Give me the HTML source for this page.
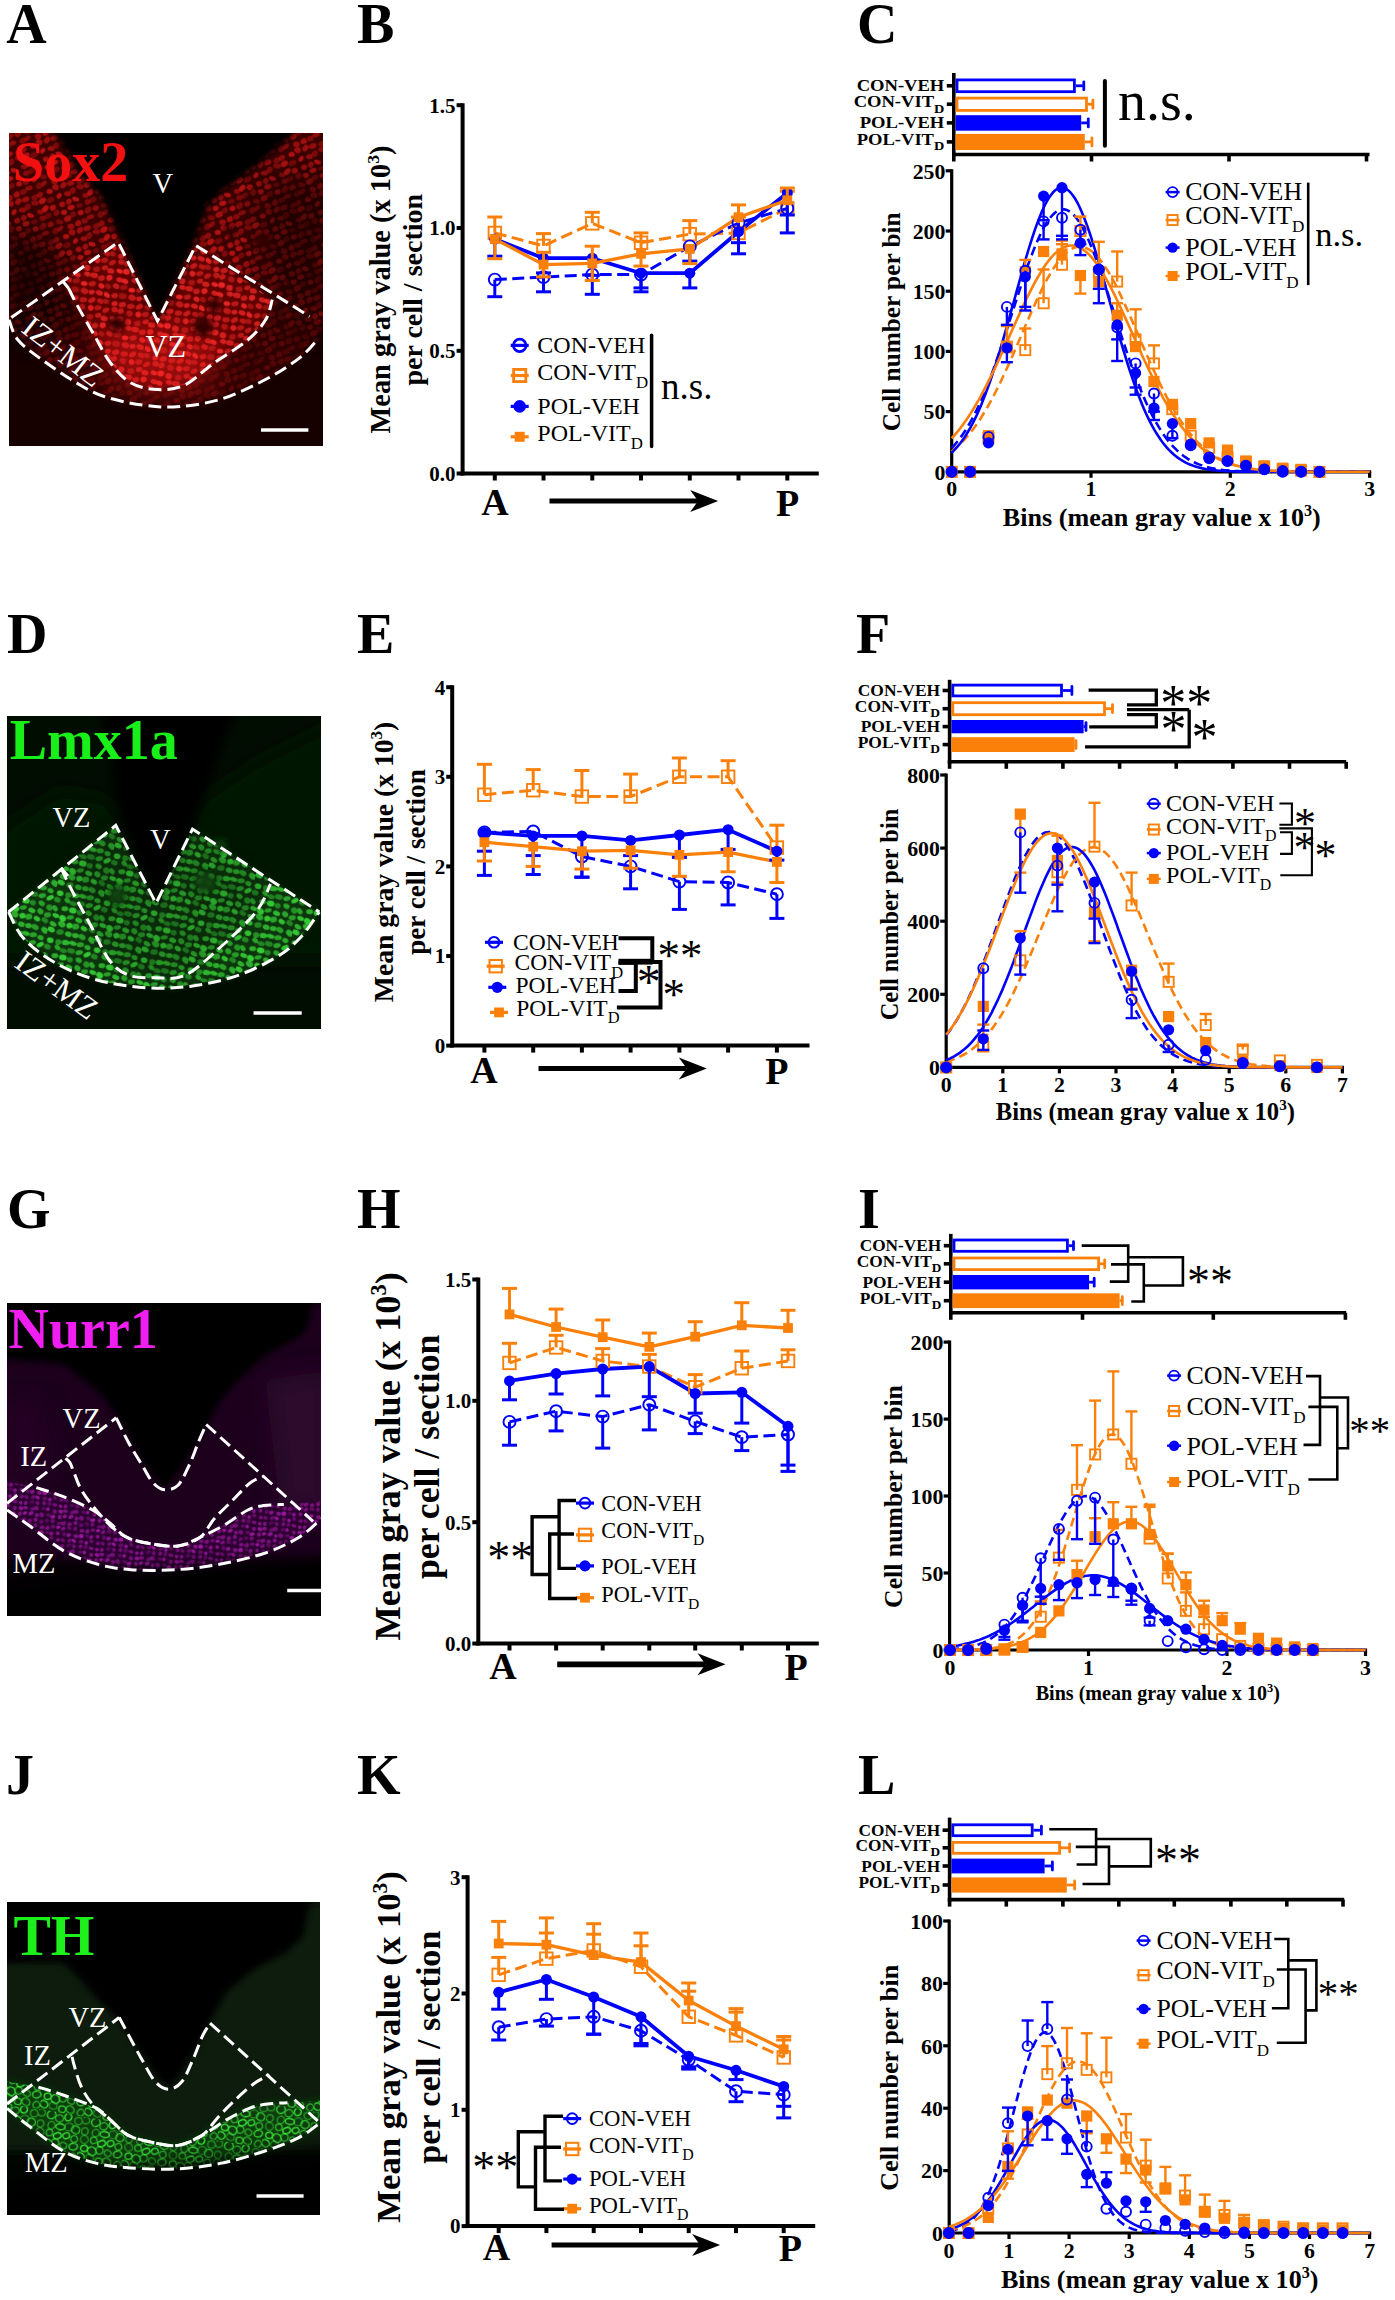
<!DOCTYPE html>
<html><head><meta charset="utf-8"><title>Figure</title>
<style>html,body{margin:0;padding:0;background:#fff;} svg{display:block;} text{font-family:'Liberation Serif', serif;}</style>
</head><body>
<svg xmlns="http://www.w3.org/2000/svg" width="1395" height="2300" viewBox="0 0 1395 2300">
<defs><filter id="b1" x="-20%" y="-20%" width="140%" height="140%"><feGaussianBlur stdDeviation="1"/></filter><filter id="b2" x="-20%" y="-20%" width="140%" height="140%"><feGaussianBlur stdDeviation="2"/></filter><filter id="b3" x="-20%" y="-20%" width="140%" height="140%"><feGaussianBlur stdDeviation="3"/></filter><filter id="b4" x="-20%" y="-20%" width="140%" height="140%"><feGaussianBlur stdDeviation="4"/></filter><filter id="b5" x="-20%" y="-20%" width="140%" height="140%"><feGaussianBlur stdDeviation="5"/></filter><filter id="b6" x="-20%" y="-20%" width="140%" height="140%"><feGaussianBlur stdDeviation="6"/></filter><filter id="b7" x="-20%" y="-20%" width="140%" height="140%"><feGaussianBlur stdDeviation="7"/></filter><filter id="b8" x="-20%" y="-20%" width="140%" height="140%"><feGaussianBlur stdDeviation="8"/></filter><filter id="b9" x="-20%" y="-20%" width="140%" height="140%"><feGaussianBlur stdDeviation="9"/></filter><filter id="b10" x="-20%" y="-20%" width="140%" height="140%"><feGaussianBlur stdDeviation="10"/></filter><filter id="b11" x="-20%" y="-20%" width="140%" height="140%"><feGaussianBlur stdDeviation="11"/></filter><filter id="b12" x="-20%" y="-20%" width="140%" height="140%"><feGaussianBlur stdDeviation="12"/></filter><filter id="b13" x="-20%" y="-20%" width="140%" height="140%"><feGaussianBlur stdDeviation="13"/></filter><filter id="b14" x="-20%" y="-20%" width="140%" height="140%"><feGaussianBlur stdDeviation="14"/></filter><filter id="b15" x="-20%" y="-20%" width="140%" height="140%"><feGaussianBlur stdDeviation="15"/></filter><filter id="b16" x="-20%" y="-20%" width="140%" height="140%"><feGaussianBlur stdDeviation="16"/></filter><filter id="b17" x="-20%" y="-20%" width="140%" height="140%"><feGaussianBlur stdDeviation="17"/></filter><filter id="b18" x="-20%" y="-20%" width="140%" height="140%"><feGaussianBlur stdDeviation="18"/></filter><filter id="b19" x="-20%" y="-20%" width="140%" height="140%"><feGaussianBlur stdDeviation="19"/></filter><filter id="b20" x="-20%" y="-20%" width="140%" height="140%"><feGaussianBlur stdDeviation="20"/></filter><filter id="cells" x="0" y="0" width="100%" height="100%">
<feTurbulence type="fractalNoise" baseFrequency="0.22" numOctaves="1" seed="3" result="n"/>
<feColorMatrix in="n" type="matrix" values="0 0 0 0 0  0 0 0 0 0  0 0 0 0 0  0 0 0 -2.2 1.25" result="a"/>
<feComposite in="SourceGraphic" in2="a" operator="in"/>
</filter><pattern id="cellA1" patternUnits="userSpaceOnUse" width="48" height="48" patternTransform="rotate(-20)"><ellipse cx="3.9" cy="4.2" rx="3.9" ry="2.6" transform="rotate(1 3.9 4.2)" fill="#c41414" opacity="0.67"/><ellipse cx="3.1" cy="12.0" rx="3.6" ry="2.8" transform="rotate(-28 3.1 12.0)" fill="#c41414" opacity="0.52"/><ellipse cx="2.8" cy="20.9" rx="3.7" ry="2.2" transform="rotate(34 2.8 20.9)" fill="#c41414" opacity="0.88"/><ellipse cx="4.4" cy="28.3" rx="3.2" ry="2.2" transform="rotate(2 4.4 28.3)" fill="#c41414" opacity="0.38"/><ellipse cx="3.1" cy="35.3" rx="3.0" ry="2.6" transform="rotate(-4 3.1 35.3)" fill="#c41414" opacity="0.81"/><ellipse cx="4.1" cy="44.4" rx="3.5" ry="2.7" transform="rotate(-3 4.1 44.4)" fill="#c41414" opacity="0.50"/><ellipse cx="13.4" cy="5.4" rx="3.8" ry="2.8" transform="rotate(-13 13.4 5.4)" fill="#c41414" opacity="0.48"/><ellipse cx="11.4" cy="10.8" rx="3.8" ry="2.5" transform="rotate(24 11.4 10.8)" fill="#c41414" opacity="0.56"/><ellipse cx="13.3" cy="21.0" rx="3.0" ry="2.4" transform="rotate(29 13.3 21.0)" fill="#c41414" opacity="0.61"/><ellipse cx="13.4" cy="27.7" rx="3.1" ry="2.7" transform="rotate(19 13.4 27.7)" fill="#c41414" opacity="0.50"/><ellipse cx="10.8" cy="35.5" rx="4.0" ry="2.8" transform="rotate(-27 10.8 35.5)" fill="#c41414" opacity="0.49"/><ellipse cx="10.9" cy="42.7" rx="3.8" ry="2.3" transform="rotate(4 10.9 42.7)" fill="#c41414" opacity="0.60"/><ellipse cx="19.1" cy="4.7" rx="3.1" ry="2.7" transform="rotate(-27 19.1 4.7)" fill="#c41414" opacity="0.58"/><ellipse cx="19.2" cy="11.3" rx="4.0" ry="2.8" transform="rotate(-14 19.2 11.3)" fill="#c41414" opacity="0.84"/><ellipse cx="19.2" cy="19.7" rx="3.9" ry="2.7" transform="rotate(-28 19.2 19.7)" fill="#c41414" opacity="0.89"/><ellipse cx="19.2" cy="27.3" rx="3.8" ry="2.5" transform="rotate(-14 19.2 27.3)" fill="#c41414" opacity="0.39"/><ellipse cx="18.8" cy="36.2" rx="3.2" ry="2.7" transform="rotate(-9 18.8 36.2)" fill="#c41414" opacity="0.60"/><ellipse cx="21.3" cy="44.0" rx="3.6" ry="2.9" transform="rotate(-22 21.3 44.0)" fill="#c41414" opacity="0.43"/><ellipse cx="29.2" cy="4.9" rx="3.2" ry="2.4" transform="rotate(17 29.2 4.9)" fill="#c41414" opacity="0.87"/><ellipse cx="27.1" cy="13.3" rx="3.9" ry="2.7" transform="rotate(-5 27.1 13.3)" fill="#c41414" opacity="0.41"/><ellipse cx="26.7" cy="21.3" rx="3.2" ry="2.8" transform="rotate(-17 26.7 21.3)" fill="#c41414" opacity="0.80"/><ellipse cx="28.3" cy="27.4" rx="3.2" ry="2.8" transform="rotate(-30 28.3 27.4)" fill="#c41414" opacity="0.48"/><ellipse cx="28.2" cy="37.0" rx="3.6" ry="2.4" transform="rotate(29 28.2 37.0)" fill="#c41414" opacity="0.46"/><ellipse cx="26.6" cy="43.3" rx="3.4" ry="2.2" transform="rotate(-23 26.6 43.3)" fill="#c41414" opacity="0.55"/><ellipse cx="36.2" cy="2.9" rx="3.4" ry="2.9" transform="rotate(34 36.2 2.9)" fill="#c41414" opacity="0.71"/><ellipse cx="36.6" cy="12.2" rx="3.1" ry="2.2" transform="rotate(-34 36.6 12.2)" fill="#c41414" opacity="0.85"/><ellipse cx="36.6" cy="21.3" rx="3.0" ry="2.7" transform="rotate(-1 36.6 21.3)" fill="#c41414" opacity="0.75"/><ellipse cx="35.5" cy="29.4" rx="3.1" ry="2.6" transform="rotate(17 35.5 29.4)" fill="#c41414" opacity="0.85"/><ellipse cx="36.7" cy="36.6" rx="3.8" ry="2.9" transform="rotate(-10 36.7 36.6)" fill="#c41414" opacity="0.73"/><ellipse cx="37.2" cy="45.1" rx="3.4" ry="2.8" transform="rotate(25 37.2 45.1)" fill="#c41414" opacity="0.67"/><ellipse cx="44.4" cy="3.7" rx="3.6" ry="2.7" transform="rotate(-29 44.4 3.7)" fill="#c41414" opacity="0.70"/><ellipse cx="45.4" cy="13.1" rx="3.7" ry="2.5" transform="rotate(16 45.4 13.1)" fill="#c41414" opacity="0.67"/><ellipse cx="43.8" cy="21.0" rx="3.1" ry="2.8" transform="rotate(-33 43.8 21.0)" fill="#c41414" opacity="0.68"/><ellipse cx="43.9" cy="27.2" rx="3.7" ry="2.6" transform="rotate(8 43.9 27.2)" fill="#c41414" opacity="0.86"/><ellipse cx="43.3" cy="34.6" rx="3.3" ry="2.7" transform="rotate(-21 43.3 34.6)" fill="#c41414" opacity="0.44"/><ellipse cx="45.2" cy="44.5" rx="3.4" ry="2.9" transform="rotate(-12 45.2 44.5)" fill="#c41414" opacity="0.72"/></pattern><pattern id="cellA2" patternUnits="userSpaceOnUse" width="48" height="48" patternTransform="rotate(8)"><ellipse cx="3.9" cy="4.5" rx="3.7" ry="2.3" transform="rotate(-34 3.9 4.5)" fill="#ff2a2a" opacity="0.66"/><ellipse cx="3.3" cy="12.9" rx="3.7" ry="2.7" transform="rotate(4 3.3 12.9)" fill="#ff2a2a" opacity="0.81"/><ellipse cx="3.0" cy="19.8" rx="3.2" ry="2.9" transform="rotate(-31 3.0 19.8)" fill="#ff2a2a" opacity="0.90"/><ellipse cx="2.8" cy="28.5" rx="3.3" ry="2.5" transform="rotate(24 2.8 28.5)" fill="#ff2a2a" opacity="0.46"/><ellipse cx="2.7" cy="37.2" rx="3.5" ry="2.3" transform="rotate(34 2.7 37.2)" fill="#ff2a2a" opacity="0.97"/><ellipse cx="2.9" cy="43.8" rx="3.1" ry="2.5" transform="rotate(9 2.9 43.8)" fill="#ff2a2a" opacity="0.54"/><ellipse cx="12.6" cy="2.7" rx="3.2" ry="2.9" transform="rotate(-7 12.6 2.7)" fill="#ff2a2a" opacity="0.68"/><ellipse cx="12.3" cy="11.9" rx="3.4" ry="2.2" transform="rotate(16 12.3 11.9)" fill="#ff2a2a" opacity="0.98"/><ellipse cx="13.4" cy="20.5" rx="3.4" ry="2.5" transform="rotate(13 13.4 20.5)" fill="#ff2a2a" opacity="0.82"/><ellipse cx="10.9" cy="27.2" rx="3.4" ry="2.6" transform="rotate(22 10.9 27.2)" fill="#ff2a2a" opacity="0.73"/><ellipse cx="10.6" cy="36.9" rx="3.4" ry="2.6" transform="rotate(-19 10.6 36.9)" fill="#ff2a2a" opacity="0.68"/><ellipse cx="11.7" cy="44.8" rx="3.1" ry="2.6" transform="rotate(-23 11.7 44.8)" fill="#ff2a2a" opacity="0.83"/><ellipse cx="18.7" cy="3.4" rx="3.3" ry="2.7" transform="rotate(-31 18.7 3.4)" fill="#ff2a2a" opacity="0.70"/><ellipse cx="19.2" cy="11.4" rx="3.5" ry="3.0" transform="rotate(-1 19.2 11.4)" fill="#ff2a2a" opacity="0.98"/><ellipse cx="19.0" cy="21.2" rx="3.4" ry="2.4" transform="rotate(17 19.0 21.2)" fill="#ff2a2a" opacity="0.95"/><ellipse cx="18.6" cy="27.3" rx="3.8" ry="2.5" transform="rotate(-18 18.6 27.3)" fill="#ff2a2a" opacity="0.45"/><ellipse cx="18.7" cy="36.3" rx="4.0" ry="3.0" transform="rotate(0 18.7 36.3)" fill="#ff2a2a" opacity="0.46"/><ellipse cx="19.5" cy="44.8" rx="3.8" ry="2.7" transform="rotate(-19 19.5 44.8)" fill="#ff2a2a" opacity="0.74"/><ellipse cx="27.9" cy="4.4" rx="3.3" ry="3.0" transform="rotate(28 27.9 4.4)" fill="#ff2a2a" opacity="0.54"/><ellipse cx="27.4" cy="13.1" rx="3.3" ry="3.0" transform="rotate(1 27.4 13.1)" fill="#ff2a2a" opacity="0.83"/><ellipse cx="28.6" cy="19.2" rx="3.3" ry="2.4" transform="rotate(13 28.6 19.2)" fill="#ff2a2a" opacity="0.83"/><ellipse cx="26.9" cy="29.1" rx="3.4" ry="2.4" transform="rotate(-5 26.9 29.1)" fill="#ff2a2a" opacity="0.99"/><ellipse cx="28.2" cy="36.4" rx="3.9" ry="3.0" transform="rotate(18 28.2 36.4)" fill="#ff2a2a" opacity="0.68"/><ellipse cx="28.3" cy="45.2" rx="3.8" ry="2.7" transform="rotate(-11 28.3 45.2)" fill="#ff2a2a" opacity="0.65"/><ellipse cx="36.7" cy="4.2" rx="3.0" ry="2.8" transform="rotate(28 36.7 4.2)" fill="#ff2a2a" opacity="0.89"/><ellipse cx="37.1" cy="13.2" rx="3.5" ry="2.8" transform="rotate(-8 37.1 13.2)" fill="#ff2a2a" opacity="0.50"/><ellipse cx="35.6" cy="19.5" rx="3.9" ry="2.8" transform="rotate(3 35.6 19.5)" fill="#ff2a2a" opacity="0.79"/><ellipse cx="34.9" cy="28.1" rx="3.7" ry="2.5" transform="rotate(-18 34.9 28.1)" fill="#ff2a2a" opacity="0.67"/><ellipse cx="35.5" cy="36.5" rx="3.1" ry="2.3" transform="rotate(-13 35.5 36.5)" fill="#ff2a2a" opacity="0.83"/><ellipse cx="36.7" cy="44.5" rx="3.9" ry="2.5" transform="rotate(-33 36.7 44.5)" fill="#ff2a2a" opacity="0.72"/><ellipse cx="43.8" cy="3.1" rx="3.7" ry="2.5" transform="rotate(-18 43.8 3.1)" fill="#ff2a2a" opacity="0.63"/><ellipse cx="45.3" cy="10.6" rx="3.4" ry="2.4" transform="rotate(-21 45.3 10.6)" fill="#ff2a2a" opacity="0.69"/><ellipse cx="43.2" cy="21.2" rx="3.5" ry="2.8" transform="rotate(-24 43.2 21.2)" fill="#ff2a2a" opacity="0.71"/><ellipse cx="44.3" cy="29.0" rx="3.2" ry="2.6" transform="rotate(25 44.3 29.0)" fill="#ff2a2a" opacity="0.91"/><ellipse cx="43.2" cy="36.1" rx="3.8" ry="2.5" transform="rotate(12 43.2 36.1)" fill="#ff2a2a" opacity="0.81"/><ellipse cx="45.4" cy="44.2" rx="3.7" ry="2.5" transform="rotate(16 45.4 44.2)" fill="#ff2a2a" opacity="0.63"/></pattern><clipPath id="clipA"><rect x="9" y="133" width="314" height="313"/></clipPath><pattern id="cellD" patternUnits="userSpaceOnUse" width="48" height="48" patternTransform="rotate(12)"><ellipse cx="3.2" cy="4.1" rx="3.4" ry="2.7" transform="rotate(9 3.2 4.1)" fill="#36d236" opacity="0.53"/><ellipse cx="2.6" cy="13.0" rx="3.3" ry="2.4" transform="rotate(35 2.6 13.0)" fill="#36d236" opacity="0.71"/><ellipse cx="5.0" cy="19.9" rx="3.6" ry="2.3" transform="rotate(9 5.0 19.9)" fill="#36d236" opacity="0.89"/><ellipse cx="4.1" cy="28.7" rx="3.7" ry="2.3" transform="rotate(18 4.1 28.7)" fill="#36d236" opacity="0.77"/><ellipse cx="3.4" cy="34.6" rx="3.9" ry="2.6" transform="rotate(15 3.4 34.6)" fill="#36d236" opacity="0.90"/><ellipse cx="4.6" cy="45.2" rx="3.4" ry="2.8" transform="rotate(-4 4.6 45.2)" fill="#36d236" opacity="0.92"/><ellipse cx="13.1" cy="2.8" rx="3.1" ry="2.4" transform="rotate(33 13.1 2.8)" fill="#36d236" opacity="0.70"/><ellipse cx="12.4" cy="11.4" rx="3.5" ry="2.5" transform="rotate(-10 12.4 11.4)" fill="#36d236" opacity="0.76"/><ellipse cx="12.2" cy="21.2" rx="3.7" ry="2.9" transform="rotate(25 12.2 21.2)" fill="#36d236" opacity="0.95"/><ellipse cx="12.5" cy="27.0" rx="3.9" ry="3.0" transform="rotate(28 12.5 27.0)" fill="#36d236" opacity="0.76"/><ellipse cx="12.6" cy="35.2" rx="3.8" ry="2.7" transform="rotate(-15 12.6 35.2)" fill="#36d236" opacity="0.53"/><ellipse cx="13.0" cy="45.4" rx="3.1" ry="2.8" transform="rotate(-6 13.0 45.4)" fill="#36d236" opacity="0.57"/><ellipse cx="19.4" cy="4.8" rx="3.9" ry="2.2" transform="rotate(8 19.4 4.8)" fill="#36d236" opacity="0.52"/><ellipse cx="20.6" cy="11.5" rx="3.9" ry="3.0" transform="rotate(0 20.6 11.5)" fill="#36d236" opacity="0.95"/><ellipse cx="19.5" cy="18.8" rx="3.6" ry="2.2" transform="rotate(-21 19.5 18.8)" fill="#36d236" opacity="0.68"/><ellipse cx="20.3" cy="27.0" rx="3.0" ry="2.9" transform="rotate(-13 20.3 27.0)" fill="#36d236" opacity="0.93"/><ellipse cx="21.1" cy="35.6" rx="3.5" ry="2.6" transform="rotate(10 21.1 35.6)" fill="#36d236" opacity="0.77"/><ellipse cx="20.2" cy="44.3" rx="3.9" ry="2.6" transform="rotate(-5 20.2 44.3)" fill="#36d236" opacity="0.82"/><ellipse cx="27.2" cy="3.4" rx="4.0" ry="2.6" transform="rotate(3 27.2 3.4)" fill="#36d236" opacity="0.51"/><ellipse cx="27.8" cy="12.2" rx="3.0" ry="2.7" transform="rotate(9 27.8 12.2)" fill="#36d236" opacity="0.53"/><ellipse cx="28.4" cy="19.9" rx="3.7" ry="2.5" transform="rotate(14 28.4 19.9)" fill="#36d236" opacity="0.83"/><ellipse cx="26.6" cy="26.7" rx="3.7" ry="3.0" transform="rotate(-17 26.6 26.7)" fill="#36d236" opacity="0.71"/><ellipse cx="28.3" cy="35.5" rx="3.4" ry="2.5" transform="rotate(-9 28.3 35.5)" fill="#36d236" opacity="0.77"/><ellipse cx="27.4" cy="43.6" rx="3.8" ry="2.2" transform="rotate(5 27.4 43.6)" fill="#36d236" opacity="0.83"/><ellipse cx="35.5" cy="3.2" rx="3.8" ry="2.4" transform="rotate(-22 35.5 3.2)" fill="#36d236" opacity="0.70"/><ellipse cx="36.6" cy="10.9" rx="3.3" ry="2.5" transform="rotate(23 36.6 10.9)" fill="#36d236" opacity="0.70"/><ellipse cx="37.0" cy="19.0" rx="3.3" ry="2.7" transform="rotate(27 37.0 19.0)" fill="#36d236" opacity="0.70"/><ellipse cx="35.2" cy="26.9" rx="3.5" ry="2.4" transform="rotate(21 35.2 26.9)" fill="#36d236" opacity="0.88"/><ellipse cx="35.1" cy="35.4" rx="3.8" ry="2.7" transform="rotate(21 35.1 35.4)" fill="#36d236" opacity="0.66"/><ellipse cx="34.9" cy="43.4" rx="3.8" ry="2.4" transform="rotate(-11 34.9 43.4)" fill="#36d236" opacity="0.69"/><ellipse cx="43.8" cy="3.7" rx="3.9" ry="2.3" transform="rotate(-35 43.8 3.7)" fill="#36d236" opacity="0.92"/><ellipse cx="45.1" cy="13.4" rx="3.4" ry="3.0" transform="rotate(30 45.1 13.4)" fill="#36d236" opacity="0.60"/><ellipse cx="44.7" cy="21.0" rx="3.7" ry="2.6" transform="rotate(-15 44.7 21.0)" fill="#36d236" opacity="0.65"/><ellipse cx="43.2" cy="26.8" rx="3.6" ry="2.4" transform="rotate(22 43.2 26.8)" fill="#36d236" opacity="0.52"/><ellipse cx="45.2" cy="36.6" rx="3.9" ry="2.9" transform="rotate(28 45.2 36.6)" fill="#36d236" opacity="0.76"/><ellipse cx="42.6" cy="44.7" rx="3.2" ry="2.4" transform="rotate(11 42.6 44.7)" fill="#36d236" opacity="0.74"/></pattern><clipPath id="clipD"><rect x="7" y="716" width="314" height="313"/></clipPath><pattern id="cellG" patternUnits="userSpaceOnUse" width="40" height="40" patternTransform="rotate(5)"><ellipse cx="2.2" cy="3.2" rx="2.3" ry="1.8" transform="rotate(-20 2.2 3.2)" fill="#b01cb4" opacity="0.78"/><ellipse cx="3.5" cy="8.6" rx="2.2" ry="1.7" transform="rotate(-35 3.5 8.6)" fill="#b01cb4" opacity="0.52"/><ellipse cx="3.0" cy="13.4" rx="2.4" ry="1.7" transform="rotate(-19 3.0 13.4)" fill="#b01cb4" opacity="0.33"/><ellipse cx="3.9" cy="20.5" rx="2.5" ry="1.9" transform="rotate(-33 3.9 20.5)" fill="#b01cb4" opacity="0.50"/><ellipse cx="2.9" cy="24.9" rx="2.6" ry="1.8" transform="rotate(-24 2.9 24.9)" fill="#b01cb4" opacity="0.79"/><ellipse cx="2.1" cy="32.3" rx="2.2" ry="1.9" transform="rotate(-11 2.1 32.3)" fill="#b01cb4" opacity="0.59"/><ellipse cx="2.2" cy="36.2" rx="2.5" ry="1.7" transform="rotate(20 2.2 36.2)" fill="#b01cb4" opacity="0.43"/><ellipse cx="9.5" cy="3.7" rx="2.4" ry="2.0" transform="rotate(6 9.5 3.7)" fill="#b01cb4" opacity="0.74"/><ellipse cx="7.8" cy="8.5" rx="2.5" ry="1.6" transform="rotate(30 7.8 8.5)" fill="#b01cb4" opacity="0.83"/><ellipse cx="8.4" cy="14.0" rx="2.2" ry="1.8" transform="rotate(35 8.4 14.0)" fill="#b01cb4" opacity="0.53"/><ellipse cx="7.6" cy="19.2" rx="2.4" ry="2.2" transform="rotate(-0 7.6 19.2)" fill="#b01cb4" opacity="0.59"/><ellipse cx="8.7" cy="26.2" rx="2.0" ry="1.9" transform="rotate(4 8.7 26.2)" fill="#b01cb4" opacity="0.67"/><ellipse cx="7.9" cy="30.7" rx="2.1" ry="2.1" transform="rotate(-11 7.9 30.7)" fill="#b01cb4" opacity="0.66"/><ellipse cx="8.2" cy="36.3" rx="1.9" ry="2.1" transform="rotate(19 8.2 36.3)" fill="#b01cb4" opacity="0.52"/><ellipse cx="14.7" cy="3.2" rx="2.5" ry="2.2" transform="rotate(-7 14.7 3.2)" fill="#b01cb4" opacity="0.89"/><ellipse cx="15.2" cy="8.8" rx="2.5" ry="1.8" transform="rotate(-9 15.2 8.8)" fill="#b01cb4" opacity="0.45"/><ellipse cx="15.1" cy="13.6" rx="1.9" ry="2.1" transform="rotate(19 15.1 13.6)" fill="#b01cb4" opacity="0.59"/><ellipse cx="15.0" cy="19.1" rx="2.0" ry="1.7" transform="rotate(-6 15.0 19.1)" fill="#b01cb4" opacity="0.40"/><ellipse cx="13.4" cy="25.4" rx="2.5" ry="2.2" transform="rotate(17 13.4 25.4)" fill="#b01cb4" opacity="0.59"/><ellipse cx="13.8" cy="32.4" rx="2.2" ry="2.0" transform="rotate(-33 13.8 32.4)" fill="#b01cb4" opacity="0.43"/><ellipse cx="15.0" cy="37.8" rx="2.5" ry="1.9" transform="rotate(-5 15.0 37.8)" fill="#b01cb4" opacity="0.65"/><ellipse cx="20.7" cy="2.5" rx="2.2" ry="1.7" transform="rotate(19 20.7 2.5)" fill="#b01cb4" opacity="0.31"/><ellipse cx="20.4" cy="9.5" rx="1.8" ry="1.9" transform="rotate(10 20.4 9.5)" fill="#b01cb4" opacity="0.81"/><ellipse cx="20.2" cy="13.8" rx="2.1" ry="2.2" transform="rotate(28 20.2 13.8)" fill="#b01cb4" opacity="0.38"/><ellipse cx="19.2" cy="19.2" rx="1.8" ry="1.8" transform="rotate(-25 19.2 19.2)" fill="#b01cb4" opacity="0.82"/><ellipse cx="20.3" cy="24.9" rx="2.2" ry="1.7" transform="rotate(-0 20.3 24.9)" fill="#b01cb4" opacity="0.43"/><ellipse cx="19.3" cy="30.8" rx="2.1" ry="2.0" transform="rotate(4 19.3 30.8)" fill="#b01cb4" opacity="0.33"/><ellipse cx="20.4" cy="37.9" rx="2.4" ry="2.1" transform="rotate(-34 20.4 37.9)" fill="#b01cb4" opacity="0.58"/><ellipse cx="24.8" cy="3.4" rx="1.9" ry="2.0" transform="rotate(-17 24.8 3.4)" fill="#b01cb4" opacity="0.72"/><ellipse cx="25.3" cy="7.6" rx="2.1" ry="1.7" transform="rotate(28 25.3 7.6)" fill="#b01cb4" opacity="0.48"/><ellipse cx="25.7" cy="14.4" rx="2.6" ry="1.6" transform="rotate(7 25.7 14.4)" fill="#b01cb4" opacity="0.60"/><ellipse cx="26.2" cy="21.0" rx="2.0" ry="2.0" transform="rotate(2 26.2 21.0)" fill="#b01cb4" opacity="0.64"/><ellipse cx="24.8" cy="26.4" rx="2.6" ry="1.7" transform="rotate(-13 24.8 26.4)" fill="#b01cb4" opacity="0.90"/><ellipse cx="24.9" cy="30.6" rx="1.9" ry="2.1" transform="rotate(18 24.9 30.6)" fill="#b01cb4" opacity="0.57"/><ellipse cx="26.0" cy="36.2" rx="2.3" ry="1.8" transform="rotate(1 26.0 36.2)" fill="#b01cb4" opacity="0.53"/><ellipse cx="31.2" cy="2.3" rx="1.8" ry="1.8" transform="rotate(-18 31.2 2.3)" fill="#b01cb4" opacity="0.72"/><ellipse cx="32.1" cy="9.0" rx="2.2" ry="1.7" transform="rotate(-8 32.1 9.0)" fill="#b01cb4" opacity="0.59"/><ellipse cx="31.7" cy="15.2" rx="1.9" ry="1.8" transform="rotate(-1 31.7 15.2)" fill="#b01cb4" opacity="0.73"/><ellipse cx="32.2" cy="20.6" rx="2.3" ry="2.0" transform="rotate(12 32.2 20.6)" fill="#b01cb4" opacity="0.82"/><ellipse cx="31.8" cy="26.1" rx="2.0" ry="2.1" transform="rotate(-8 31.8 26.1)" fill="#b01cb4" opacity="0.67"/><ellipse cx="32.1" cy="32.4" rx="2.6" ry="1.5" transform="rotate(-13 32.1 32.4)" fill="#b01cb4" opacity="0.49"/><ellipse cx="31.2" cy="36.4" rx="2.2" ry="1.6" transform="rotate(-14 31.2 36.4)" fill="#b01cb4" opacity="0.87"/><ellipse cx="37.6" cy="2.8" rx="1.9" ry="2.2" transform="rotate(14 37.6 2.8)" fill="#b01cb4" opacity="0.42"/><ellipse cx="36.8" cy="8.9" rx="2.3" ry="1.7" transform="rotate(32 36.8 8.9)" fill="#b01cb4" opacity="0.49"/><ellipse cx="36.6" cy="15.0" rx="1.9" ry="2.0" transform="rotate(-21 36.6 15.0)" fill="#b01cb4" opacity="0.66"/><ellipse cx="36.7" cy="19.8" rx="2.6" ry="1.8" transform="rotate(-4 36.7 19.8)" fill="#b01cb4" opacity="0.67"/><ellipse cx="36.7" cy="25.0" rx="2.1" ry="1.7" transform="rotate(-22 36.7 25.0)" fill="#b01cb4" opacity="0.88"/><ellipse cx="36.2" cy="32.1" rx="2.5" ry="2.0" transform="rotate(-34 36.2 32.1)" fill="#b01cb4" opacity="0.60"/><ellipse cx="36.2" cy="37.4" rx="2.4" ry="1.7" transform="rotate(-34 36.2 37.4)" fill="#b01cb4" opacity="0.63"/></pattern><pattern id="cellG2" patternUnits="userSpaceOnUse" width="40" height="40" patternTransform="rotate(-30)"><ellipse cx="3.8" cy="2.1" rx="1.6" ry="1.8" transform="rotate(-22 3.8 2.1)" fill="#7a127c" opacity="0.27"/><ellipse cx="3.2" cy="8.3" rx="2.3" ry="1.3" transform="rotate(32 3.2 8.3)" fill="#7a127c" opacity="0.39"/><ellipse cx="3.1" cy="15.2" rx="2.1" ry="1.8" transform="rotate(15 3.1 15.2)" fill="#7a127c" opacity="0.23"/><ellipse cx="3.6" cy="20.2" rx="1.8" ry="1.3" transform="rotate(24 3.6 20.2)" fill="#7a127c" opacity="0.55"/><ellipse cx="3.8" cy="26.3" rx="2.4" ry="1.5" transform="rotate(14 3.8 26.3)" fill="#7a127c" opacity="0.57"/><ellipse cx="2.4" cy="32.4" rx="1.8" ry="1.7" transform="rotate(32 2.4 32.4)" fill="#7a127c" opacity="0.59"/><ellipse cx="2.1" cy="37.8" rx="2.1" ry="1.3" transform="rotate(-32 2.1 37.8)" fill="#7a127c" opacity="0.52"/><ellipse cx="7.6" cy="3.7" rx="2.0" ry="1.5" transform="rotate(-6 7.6 3.7)" fill="#7a127c" opacity="0.60"/><ellipse cx="9.4" cy="8.2" rx="1.9" ry="1.5" transform="rotate(-14 9.4 8.2)" fill="#7a127c" opacity="0.56"/><ellipse cx="8.7" cy="14.1" rx="2.1" ry="1.5" transform="rotate(-29 8.7 14.1)" fill="#7a127c" opacity="0.80"/><ellipse cx="8.3" cy="19.9" rx="1.9" ry="1.8" transform="rotate(32 8.3 19.9)" fill="#7a127c" opacity="0.51"/><ellipse cx="8.4" cy="24.9" rx="2.3" ry="1.3" transform="rotate(3 8.4 24.9)" fill="#7a127c" opacity="0.41"/><ellipse cx="8.2" cy="31.1" rx="1.8" ry="1.2" transform="rotate(2 8.2 31.1)" fill="#7a127c" opacity="0.68"/><ellipse cx="8.9" cy="36.5" rx="2.2" ry="1.2" transform="rotate(-6 8.9 36.5)" fill="#7a127c" opacity="0.70"/><ellipse cx="15.2" cy="2.8" rx="2.3" ry="1.5" transform="rotate(2 15.2 2.8)" fill="#7a127c" opacity="0.55"/><ellipse cx="15.3" cy="9.1" rx="2.0" ry="1.6" transform="rotate(10 15.3 9.1)" fill="#7a127c" opacity="0.41"/><ellipse cx="14.9" cy="14.9" rx="2.1" ry="1.8" transform="rotate(-34 14.9 14.9)" fill="#7a127c" opacity="0.50"/><ellipse cx="14.6" cy="19.7" rx="1.7" ry="1.6" transform="rotate(-5 14.6 19.7)" fill="#7a127c" opacity="0.36"/><ellipse cx="13.3" cy="26.7" rx="1.9" ry="1.3" transform="rotate(-20 13.3 26.7)" fill="#7a127c" opacity="0.35"/><ellipse cx="15.0" cy="30.8" rx="1.8" ry="1.3" transform="rotate(-2 15.0 30.8)" fill="#7a127c" opacity="0.32"/><ellipse cx="14.0" cy="37.6" rx="2.3" ry="1.7" transform="rotate(-32 14.0 37.6)" fill="#7a127c" opacity="0.43"/><ellipse cx="20.7" cy="1.9" rx="1.8" ry="1.5" transform="rotate(-8 20.7 1.9)" fill="#7a127c" opacity="0.65"/><ellipse cx="20.4" cy="8.5" rx="1.8" ry="1.3" transform="rotate(-16 20.4 8.5)" fill="#7a127c" opacity="0.24"/><ellipse cx="20.3" cy="13.6" rx="2.3" ry="1.6" transform="rotate(-31 20.3 13.6)" fill="#7a127c" opacity="0.50"/><ellipse cx="20.2" cy="19.1" rx="2.0" ry="1.2" transform="rotate(19 20.2 19.1)" fill="#7a127c" opacity="0.20"/><ellipse cx="20.3" cy="26.7" rx="2.3" ry="1.3" transform="rotate(2 20.3 26.7)" fill="#7a127c" opacity="0.28"/><ellipse cx="19.7" cy="32.2" rx="2.3" ry="1.2" transform="rotate(-8 19.7 32.2)" fill="#7a127c" opacity="0.58"/><ellipse cx="19.3" cy="37.8" rx="2.3" ry="1.5" transform="rotate(-10 19.3 37.8)" fill="#7a127c" opacity="0.71"/><ellipse cx="25.7" cy="2.2" rx="1.8" ry="1.3" transform="rotate(24 25.7 2.2)" fill="#7a127c" opacity="0.51"/><ellipse cx="26.1" cy="9.2" rx="2.4" ry="1.3" transform="rotate(-7 26.1 9.2)" fill="#7a127c" opacity="0.72"/><ellipse cx="26.3" cy="14.1" rx="2.1" ry="1.3" transform="rotate(-24 26.3 14.1)" fill="#7a127c" opacity="0.23"/><ellipse cx="25.5" cy="19.5" rx="2.0" ry="1.8" transform="rotate(-24 25.5 19.5)" fill="#7a127c" opacity="0.53"/><ellipse cx="26.5" cy="25.9" rx="2.0" ry="1.7" transform="rotate(-33 26.5 25.9)" fill="#7a127c" opacity="0.77"/><ellipse cx="26.1" cy="32.1" rx="2.3" ry="1.3" transform="rotate(-30 26.1 32.1)" fill="#7a127c" opacity="0.31"/><ellipse cx="25.7" cy="38.0" rx="2.3" ry="1.4" transform="rotate(9 25.7 38.0)" fill="#7a127c" opacity="0.64"/><ellipse cx="31.1" cy="3.8" rx="2.4" ry="1.6" transform="rotate(28 31.1 3.8)" fill="#7a127c" opacity="0.68"/><ellipse cx="31.7" cy="8.2" rx="1.8" ry="1.3" transform="rotate(-31 31.7 8.2)" fill="#7a127c" opacity="0.76"/><ellipse cx="31.0" cy="13.3" rx="1.9" ry="1.3" transform="rotate(-4 31.0 13.3)" fill="#7a127c" opacity="0.40"/><ellipse cx="30.8" cy="20.0" rx="1.9" ry="1.4" transform="rotate(22 30.8 20.0)" fill="#7a127c" opacity="0.38"/><ellipse cx="31.5" cy="26.5" rx="2.4" ry="1.4" transform="rotate(-32 31.5 26.5)" fill="#7a127c" opacity="0.77"/><ellipse cx="31.5" cy="30.8" rx="1.7" ry="1.3" transform="rotate(-13 31.5 30.8)" fill="#7a127c" opacity="0.28"/><ellipse cx="30.5" cy="38.2" rx="2.3" ry="1.3" transform="rotate(-1 30.5 38.2)" fill="#7a127c" opacity="0.68"/><ellipse cx="37.2" cy="2.0" rx="1.9" ry="1.4" transform="rotate(29 37.2 2.0)" fill="#7a127c" opacity="0.55"/><ellipse cx="37.1" cy="8.8" rx="1.6" ry="1.6" transform="rotate(22 37.1 8.8)" fill="#7a127c" opacity="0.60"/><ellipse cx="36.9" cy="13.8" rx="1.6" ry="1.2" transform="rotate(-24 36.9 13.8)" fill="#7a127c" opacity="0.47"/><ellipse cx="37.7" cy="19.4" rx="2.0" ry="1.6" transform="rotate(9 37.7 19.4)" fill="#7a127c" opacity="0.21"/><ellipse cx="38.0" cy="25.9" rx="1.8" ry="1.3" transform="rotate(13 38.0 25.9)" fill="#7a127c" opacity="0.76"/><ellipse cx="36.8" cy="31.2" rx="2.0" ry="1.3" transform="rotate(-7 36.8 31.2)" fill="#7a127c" opacity="0.75"/><ellipse cx="37.3" cy="37.8" rx="1.8" ry="1.7" transform="rotate(20 37.3 37.8)" fill="#7a127c" opacity="0.34"/></pattern><clipPath id="clipG"><rect x="7" y="1303" width="314" height="313"/></clipPath><pattern id="cellJ" patternUnits="userSpaceOnUse" width="45" height="45" patternTransform="rotate(10)"><ellipse cx="2.9" cy="3.2" rx="3.7" ry="3.6" transform="rotate(-25 2.9 3.2)" fill="none" stroke="#3cf03c" stroke-width="1.3" opacity="0.51"/><ellipse cx="3.6" cy="14.3" rx="3.4" ry="3.7" transform="rotate(11 3.6 14.3)" fill="none" stroke="#3cf03c" stroke-width="1.3" opacity="0.53"/><ellipse cx="4.6" cy="22.3" rx="3.8" ry="4.0" transform="rotate(-28 4.6 22.3)" fill="none" stroke="#3cf03c" stroke-width="1.3" opacity="0.46"/><ellipse cx="5.9" cy="31.2" rx="3.5" ry="3.2" transform="rotate(-9 5.9 31.2)" fill="none" stroke="#3cf03c" stroke-width="1.3" opacity="0.98"/><ellipse cx="3.6" cy="39.6" rx="4.0" ry="3.5" transform="rotate(32 3.6 39.6)" fill="none" stroke="#3cf03c" stroke-width="1.3" opacity="0.91"/><ellipse cx="13.0" cy="3.5" rx="4.4" ry="4.0" transform="rotate(-33 13.0 3.5)" fill="none" stroke="#3cf03c" stroke-width="1.3" opacity="0.85"/><ellipse cx="14.7" cy="14.0" rx="3.5" ry="3.8" transform="rotate(16 14.7 14.0)" fill="none" stroke="#3cf03c" stroke-width="1.3" opacity="0.56"/><ellipse cx="14.0" cy="21.6" rx="3.3" ry="3.2" transform="rotate(-12 14.0 21.6)" fill="none" stroke="#3cf03c" stroke-width="1.3" opacity="0.67"/><ellipse cx="14.0" cy="32.6" rx="4.5" ry="4.0" transform="rotate(35 14.0 32.6)" fill="none" stroke="#3cf03c" stroke-width="1.3" opacity="0.88"/><ellipse cx="12.9" cy="39.5" rx="4.1" ry="3.5" transform="rotate(12 12.9 39.5)" fill="none" stroke="#3cf03c" stroke-width="1.3" opacity="0.50"/><ellipse cx="21.5" cy="5.9" rx="4.0" ry="3.6" transform="rotate(-28 21.5 5.9)" fill="none" stroke="#3cf03c" stroke-width="1.3" opacity="0.67"/><ellipse cx="23.8" cy="14.0" rx="4.6" ry="3.0" transform="rotate(-3 23.8 14.0)" fill="none" stroke="#3cf03c" stroke-width="1.3" opacity="0.89"/><ellipse cx="22.3" cy="23.4" rx="4.0" ry="2.9" transform="rotate(-28 22.3 23.4)" fill="none" stroke="#3cf03c" stroke-width="1.3" opacity="0.99"/><ellipse cx="21.3" cy="30.5" rx="3.7" ry="3.7" transform="rotate(25 21.3 30.5)" fill="none" stroke="#3cf03c" stroke-width="1.3" opacity="0.71"/><ellipse cx="22.5" cy="41.4" rx="3.6" ry="3.2" transform="rotate(8 22.5 41.4)" fill="none" stroke="#3cf03c" stroke-width="1.3" opacity="0.80"/><ellipse cx="30.0" cy="3.2" rx="3.4" ry="3.7" transform="rotate(14 30.0 3.2)" fill="none" stroke="#3cf03c" stroke-width="1.3" opacity="0.99"/><ellipse cx="32.4" cy="12.7" rx="4.3" ry="4.0" transform="rotate(-11 32.4 12.7)" fill="none" stroke="#3cf03c" stroke-width="1.3" opacity="0.46"/><ellipse cx="31.1" cy="21.8" rx="3.4" ry="2.9" transform="rotate(-26 31.1 21.8)" fill="none" stroke="#3cf03c" stroke-width="1.3" opacity="0.93"/><ellipse cx="30.0" cy="31.9" rx="3.5" ry="3.0" transform="rotate(22 30.0 31.9)" fill="none" stroke="#3cf03c" stroke-width="1.3" opacity="0.61"/><ellipse cx="30.5" cy="40.4" rx="4.2" ry="3.4" transform="rotate(25 30.5 40.4)" fill="none" stroke="#3cf03c" stroke-width="1.3" opacity="0.67"/><ellipse cx="40.6" cy="5.2" rx="3.8" ry="3.7" transform="rotate(-2 40.6 5.2)" fill="none" stroke="#3cf03c" stroke-width="1.3" opacity="0.52"/><ellipse cx="39.3" cy="14.4" rx="4.2" ry="3.9" transform="rotate(13 39.3 14.4)" fill="none" stroke="#3cf03c" stroke-width="1.3" opacity="0.77"/><ellipse cx="39.4" cy="23.6" rx="3.4" ry="3.3" transform="rotate(-25 39.4 23.6)" fill="none" stroke="#3cf03c" stroke-width="1.3" opacity="0.66"/><ellipse cx="39.9" cy="31.3" rx="4.2" ry="3.4" transform="rotate(-18 39.9 31.3)" fill="none" stroke="#3cf03c" stroke-width="1.3" opacity="0.88"/><ellipse cx="41.3" cy="41.6" rx="3.2" ry="3.5" transform="rotate(28 41.3 41.6)" fill="none" stroke="#3cf03c" stroke-width="1.3" opacity="0.59"/></pattern><clipPath id="clipJ"><rect x="7" y="1902" width="313" height="313"/></clipPath></defs>
<rect width="1395" height="2300" fill="#fff"/>
<g clip-path="url(#clipA)">
<rect x="9" y="133" width="314" height="313" fill="#000"/>
<path d="M0.0,120.0 L340.0,120.0 L340.0,460.0 L0.0,460.0 Z" fill="#160000" opacity="1"/>
<path d="M0.0,120.0 L340.0,120.0 L340.0,325.0 L330.0,325.0 L315.1,342.3 L299.3,358.1 L267.8,378.3 L222.8,398.6 L180.0,406.5 L144.0,405.3 L103.5,396.3 L76.5,382.8 L42.8,360.3 L18.0,340.0 L9.0,319.8 L0.0,319.8 Z" fill="#2e0101" opacity="1" filter="url(#b5)"/>
<path d="M0.0,120.0 L340.0,120.0 L340.0,330.0 L309.5,316.4 L195.8,245.5 L157.5,321.0 L118.2,242.2 L11.3,317.6 L0.0,325.0 Z" fill="#3c0202" opacity="1" filter="url(#b5)"/>
<path d="M0.0,120.0 L340.0,120.0 L340.0,330.0 L309.5,316.4 L195.8,245.5 L157.5,321.0 L118.2,242.2 L11.3,317.6 L0.0,325.0 Z" fill="url(#cellA1)" opacity="1"/>
<path d="M0.0,225.0 L50.0,240.0 L70.0,290.0 L60.0,340.0 L0.0,340.0 Z" fill="#0a0000" opacity="0.75" filter="url(#b12)"/>
<path d="M255.0,185.0 L340.0,170.0 L340.0,330.0 L290.0,318.0 L262.0,290.0 Z" fill="#0a0000" opacity="0.55" filter="url(#b14)"/>
<path d="M9.0,320.0 L63.0,281.5 L68.6,288.3 L76.5,304.0 L94.5,335.6 L110.3,362.6 L130.5,382.8 L157.5,389.6 L184.6,385.1 L211.6,364.8 L247.6,340.1 L265.6,319.8 L272.3,299.6 L309.5,316.4 L330.0,325.0 L330.0,325.0 L315.1,342.3 L299.3,358.1 L267.8,378.3 L222.8,398.6 L180.0,406.5 L144.0,405.3 L103.5,396.3 L76.5,382.8 L42.8,360.3 L18.0,340.0 L9.0,319.8 Z" fill="url(#cellA1)" opacity="0.35"/>
<path d="M63.0,281.5 L118.2,242.2 L157.5,321.0 L195.8,245.5 L272.3,299.6 L272.3,299.6 L265.6,319.8 L247.6,340.1 L211.6,364.8 L184.6,385.1 L157.5,389.6 L130.5,382.8 L110.3,362.6 L94.5,335.6 L76.5,304.0 L68.6,288.3 L63.0,281.5 Z" fill="#620404" opacity="1" filter="url(#b4)"/>
<path d="M63.0,281.5 L118.2,242.2 L157.5,321.0 L195.8,245.5 L272.3,299.6 L272.3,299.6 L265.6,319.8 L247.6,340.1 L211.6,364.8 L184.6,385.1 L157.5,389.6 L130.5,382.8 L110.3,362.6 L94.5,335.6 L76.5,304.0 L68.6,288.3 L63.0,281.5 Z" fill="url(#cellA2)" opacity="0.85"/>
<path d="M95.0,330.0 L157.0,322.0 L220.0,335.0 L215.0,385.0 L157.0,395.0 L110.0,380.0 Z" fill="#ff2020" opacity="0.35" filter="url(#b14)"/>
<path d="M54.0,120.0 L54.0,133.0 L83.3,178.0 L103.5,200.5 L117.0,232.0 L121.5,241.0 L157.5,321.0 L195.8,241.0 L207.0,207.3 L222.8,191.5 L256.6,166.8 L294.8,133.0 L296.0,120.0 Z" fill="#000" opacity="1" filter="url(#b3)"/>
<path d="M109,324 a8,8 0 1,0 16,0 a8,8 0 1,0 -16,0" fill="#300000" opacity="1" filter="url(#b3)"/>
<path d="M193,327 a10,10 0 1,0 20,0 a10,10 0 1,0 -20,0" fill="#300000" opacity="1" filter="url(#b3)"/>
<path d="M207,305 a7,7 0 1,0 14,0 a7,7 0 1,0 -14,0" fill="#300000" opacity="1" filter="url(#b3)"/>
<path d="M254,240 a8,8 0 1,0 16,0 a8,8 0 1,0 -16,0" fill="#300000" opacity="1" filter="url(#b3)"/>
<path d="M224,232 a6,6 0 1,0 12,0 a6,6 0 1,0 -12,0" fill="#300000" opacity="1" filter="url(#b3)"/>
<path d="M11.3,317.6 L118.2,242.2 L157.5,321.0 L195.8,245.5 L309.5,316.4" fill="none" stroke="#fff" stroke-width="3" stroke-dasharray="13 6"/>
<path d="M63.0,281.5 L68.6,288.3 M68.6,288.3 C69.9,290.9 72.2,296.1 76.5,304.0 C80.8,311.9 88.9,325.8 94.5,335.6 C100.1,345.4 104.3,354.7 110.3,362.6 C116.3,370.5 122.6,378.3 130.5,382.8 C138.4,387.3 148.5,389.2 157.5,389.6 C166.5,390.0 175.6,389.2 184.6,385.1 C193.6,381.0 201.1,372.3 211.6,364.8 C222.1,357.3 238.6,347.6 247.6,340.1 C256.6,332.6 261.5,326.6 265.6,319.8 C269.7,313.1 271.2,303.0 272.3,299.6" fill="none" stroke="#fff" stroke-width="3" stroke-dasharray="13 6"/>
<path d="M9.0,319.8 C10.5,323.2 12.4,333.2 18.0,340.0 C23.6,346.8 33.0,353.2 42.8,360.3 C52.5,367.4 66.4,376.8 76.5,382.8 C86.6,388.8 92.2,392.6 103.5,396.3 C114.8,400.1 131.2,403.6 144.0,405.3 C156.8,407.0 166.9,407.6 180.0,406.5 C193.1,405.4 208.2,403.3 222.8,398.6 C237.4,393.9 255.1,385.1 267.8,378.3 C280.6,371.6 291.4,364.1 299.3,358.1 C307.2,352.1 312.5,344.9 315.1,342.3" fill="none" stroke="#fff" stroke-width="3" stroke-dasharray="13 6"/>
</g>
<text x="152.5" y="192.6" font-size="28.5" font-weight="normal" text-anchor="start" fill="#fff">V</text>
<text x="145.6" y="357.0" font-size="30.5" font-weight="normal" text-anchor="start" fill="#fff">VZ</text>
<text x="20.0" y="331.0" font-size="31" font-weight="normal" text-anchor="start" fill="#fff" transform="rotate(38 20.0 331.0)">IZ+MZ</text>
<text x="13.0" y="181.4" font-size="56" font-weight="bold" text-anchor="start" fill="#f21010">Sox2</text>
<line x1="261.0" y1="430.1" x2="308.4" y2="430.1" stroke="#fff" stroke-width="3.5" stroke-linecap="butt"/>
<text x="6.3" y="43.0" font-size="56" font-weight="bold" text-anchor="start" fill="#000">A</text>
<g clip-path="url(#clipD)">
<rect x="7" y="716" width="314" height="313" fill="#000"/>
<path d="M0.0,700.0 L340.0,700.0 L340.0,1040.0 L0.0,1040.0 Z" fill="#020d02" opacity="1"/>
<path d="M0.0,830.0 L60.0,790.0 L110.0,800.0 L160.0,900.0 L200.0,800.0 L260.0,760.0 L340.0,720.0 L340.0,960.0 L0.0,960.0 Z" fill="#041604" opacity="1" filter="url(#b10)"/>
<path d="M8.5,912.0 L115.8,825.4 L156.0,903.4 L192.5,829.1 L319.3,912.0 L319.3,912.0 L300.0,938.0 L275.0,958.0 L230.0,978.0 L170.6,988.0 L109.7,983.0 L61.0,966.0 L25.0,940.0 L8.5,912.0 Z" fill="#073507" opacity="1" filter="url(#b3)"/>
<path d="M8.5,912.0 L115.8,825.4 L156.0,903.4 L192.5,829.1 L319.3,912.0 L319.3,912.0 L300.0,938.0 L275.0,958.0 L230.0,978.0 L170.6,988.0 L109.7,983.0 L61.0,966.0 L25.0,940.0 L8.5,912.0 Z" fill="url(#cellD)" opacity="1"/>
<path d="M61.0,868.0 L115.8,825.4 L156.0,903.4 L192.5,829.1 L270.5,884.0 L270.5,884.0 L256.0,912.0 L219.0,948.5 L185.0,975.3 L156.0,977.8 L129.0,975.3 L109.7,960.7 L92.6,929.0 L73.0,892.5 L61.0,868.0 Z" fill="#000" opacity="0.18" filter="url(#b8)"/>
<path d="M100.0,700.0 L120.0,820.0 L156.0,903.0 L192.0,830.0 L240.0,700.0 Z" fill="#000" opacity="1" filter="url(#b6)"/>
<path d="M108,895 a10,10 0 1,0 20,0 a10,10 0 1,0 -20,0" fill="#0a400a" opacity="1" filter="url(#b4)"/>
<path d="M194,882 a11,11 0 1,0 22,0 a11,11 0 1,0 -22,0" fill="#0a400a" opacity="1" filter="url(#b4)"/>
<path d="M213,846 a7,7 0 1,0 14,0 a7,7 0 1,0 -14,0" fill="#0a400a" opacity="1" filter="url(#b4)"/>
<path d="M8.5,912.0 L115.8,825.4 L156.0,903.4 L192.5,829.1 L319.3,912.0" fill="none" stroke="#fff" stroke-width="3" stroke-dasharray="13 6"/>
<path d="M61.0,868.0 L68.0,876.0 M61.0,868.0 C63.0,872.1 67.7,882.3 73.0,892.5 C78.3,902.7 86.5,917.6 92.6,929.0 C98.7,940.4 103.6,953.0 109.7,960.7 C115.8,968.4 121.3,972.4 129.0,975.3 C136.7,978.1 146.7,977.8 156.0,977.8 C165.3,977.8 174.5,980.2 185.0,975.3 C195.5,970.4 207.2,959.0 219.0,948.5 C230.8,938.0 247.4,922.8 256.0,912.0 C264.6,901.2 268.1,888.7 270.5,884.0" fill="none" stroke="#fff" stroke-width="3" stroke-dasharray="13 6"/>
<path d="M8.5,912.0 C11.2,916.7 16.2,931.0 25.0,940.0 C33.8,949.0 46.9,958.8 61.0,966.0 C75.1,973.2 91.4,979.3 109.7,983.0 C128.0,986.7 150.5,988.8 170.6,988.0 C190.7,987.2 212.6,983.0 230.0,978.0 C247.4,973.0 263.3,964.7 275.0,958.0 C286.7,951.3 292.6,945.7 300.0,938.0 C307.4,930.3 316.1,916.3 319.3,912.0" fill="none" stroke="#fff" stroke-width="3" stroke-dasharray="13 6"/>
</g>
<text x="52.4" y="826.7" font-size="28.5" font-weight="normal" text-anchor="start" fill="#fff">VZ</text>
<text x="150.0" y="848.6" font-size="28.5" font-weight="normal" text-anchor="start" fill="#fff">V</text>
<text x="13.0" y="966.0" font-size="31" font-weight="normal" text-anchor="start" fill="#fff" transform="rotate(36 13.0 966.0)">IZ+MZ</text>
<text x="9.7" y="759.0" font-size="56" font-weight="bold" text-anchor="start" fill="#19f019">Lmx1a</text>
<line x1="253.5" y1="1013.0" x2="301.7" y2="1013.0" stroke="#fff" stroke-width="3.5" stroke-linecap="butt"/>
<text x="7.0" y="653.0" font-size="56" font-weight="bold" text-anchor="start" fill="#000">D</text>
<g clip-path="url(#clipG)">
<rect x="7" y="1303" width="314" height="313" fill="#000"/>
<path d="M0.0,1290.0 L340.0,1290.0 L340.0,1630.0 L0.0,1630.0 Z" fill="#050005" opacity="1"/>
<path d="M0.0,1350.0 L330.0,1300.0 L330.0,1560.0 L0.0,1560.0 Z" fill="#1c041c" opacity="1" filter="url(#b6)"/>
<path d="M265.0,1380.0 L330.0,1370.0 L330.0,1520.0 L280.0,1510.0 Z" fill="#2e082e" opacity="0.9" filter="url(#b12)"/>
<path d="M0.0,1400.0 L40.0,1400.0 L60.0,1470.0 L0.0,1490.0 Z" fill="#260626" opacity="0.8" filter="url(#b12)"/>
<path d="M0.0,1480.0 L36.3,1487.6 L63.3,1496.6 L92.5,1510.0 L110.5,1523.5 L126.3,1537.0 L151.0,1543.8 L178.0,1546.0 L200.6,1537.0 L223.0,1525.8 L247.8,1510.0 L263.6,1505.6 L283.8,1504.4 L330.0,1500.0 L330.0,1515.0 L321.0,1519.0 L299.6,1537.0 L265.8,1552.8 L220.8,1564.0 L175.8,1569.7 L130.8,1569.7 L97.0,1564.0 L63.3,1550.6 L29.5,1525.8 L7.0,1510.0 L0.0,1505.0 Z" fill="#2e0630" opacity="1" filter="url(#b4)"/>
<path d="M0.0,1480.0 L36.3,1487.6 L63.3,1496.6 L92.5,1510.0 L110.5,1523.5 L126.3,1537.0 L151.0,1543.8 L178.0,1546.0 L200.6,1537.0 L223.0,1525.8 L247.8,1510.0 L263.6,1505.6 L283.8,1504.4 L330.0,1500.0 L330.0,1515.0 L321.0,1519.0 L299.6,1537.0 L265.8,1552.8 L220.8,1564.0 L175.8,1569.7 L130.8,1569.7 L97.0,1564.0 L63.3,1550.6 L29.5,1525.8 L7.0,1510.0 L0.0,1505.0 Z" fill="url(#cellG)" opacity="0.9"/>
<path d="M-10.0,1290.0 L-10.0,1355.0 L7.0,1359.3 L63.3,1363.8 L85.8,1381.8 L103.8,1397.5 L119.5,1420.0 L142.0,1460.6 L164.6,1489.8 L187.0,1460.6 L205.0,1429.0 L220.8,1399.8 L243.3,1375.0 L265.8,1354.8 L299.6,1336.8 L308.6,1325.5 L313.0,1290.0 Z" fill="#000" opacity="1" filter="url(#b3)"/>
<path d="M0.0,1585.0 L340.0,1560.0 L340.0,1630.0 L0.0,1630.0 Z" fill="#020002" opacity="1" filter="url(#b10)"/>
<path d="M7.0,1503.3 L116.2,1417.8 M116.2,1417.8 C118.2,1421.9 124.2,1434.6 128.5,1442.5 C132.8,1450.4 137.9,1458.2 142.0,1465.0 C146.1,1471.8 149.5,1478.9 153.3,1483.0 C157.1,1487.1 160.5,1489.4 164.6,1489.8 C168.7,1490.2 173.9,1489.4 178.0,1485.3 C182.1,1481.2 185.9,1472.1 189.3,1465.0 C192.7,1457.9 195.5,1449.2 198.3,1442.5 C201.1,1435.8 204.9,1427.5 206.2,1424.5 M206.2,1424.5 L313.1,1521.3" fill="none" stroke="#fff" stroke-width="3" stroke-dasharray="13 6"/>
<path d="M65.5,1458.3 C66.2,1459.0 68.5,1460.2 70.0,1462.8 C71.5,1465.4 72.6,1469.5 74.5,1474.0 C76.4,1478.5 78.3,1484.5 81.3,1489.8 C84.3,1495.1 87.6,1499.6 92.5,1505.6 C97.4,1511.6 104.5,1520.4 110.5,1525.8 C116.5,1531.2 121.8,1535.2 128.5,1538.2 C135.2,1541.2 142.8,1542.5 151.0,1543.8 C159.2,1545.1 169.7,1547.1 178.0,1546.0 C186.3,1544.9 194.6,1541.5 200.6,1537.0 C206.6,1532.5 208.8,1525.0 214.0,1519.0 C219.2,1513.0 226.0,1507.0 232.0,1501.0 C238.0,1495.0 244.7,1487.1 250.0,1483.0 C255.3,1478.9 261.3,1477.4 263.6,1476.3" fill="none" stroke="#fff" stroke-width="3" stroke-dasharray="13 6"/>
<path d="M36.3,1487.6 C40.8,1489.1 53.9,1492.9 63.3,1496.6 C72.7,1500.3 84.6,1505.5 92.5,1510.0 C100.4,1514.5 104.9,1519.0 110.5,1523.5 C116.1,1528.0 119.5,1533.6 126.3,1537.0 C133.1,1540.4 142.4,1542.3 151.0,1543.8 C159.6,1545.3 169.7,1547.1 178.0,1546.0 C186.3,1544.9 193.1,1540.4 200.6,1537.0 C208.1,1533.6 215.1,1530.3 223.0,1525.8 C230.9,1521.3 241.0,1513.4 247.8,1510.0 C254.6,1506.6 257.6,1506.5 263.6,1505.6 C269.6,1504.7 280.4,1504.6 283.8,1504.4" fill="none" stroke="#fff" stroke-width="3" stroke-dasharray="13 6"/>
<path d="M7.0,1510.0 C10.8,1512.6 20.1,1519.0 29.5,1525.8 C38.9,1532.6 52.0,1544.2 63.3,1550.6 C74.5,1557.0 85.8,1560.8 97.0,1564.0 C108.2,1567.2 117.7,1568.8 130.8,1569.7 C143.9,1570.7 160.8,1570.7 175.8,1569.7 C190.8,1568.8 205.8,1566.8 220.8,1564.0 C235.8,1561.2 252.7,1557.3 265.8,1552.8 C278.9,1548.3 290.4,1542.6 299.6,1537.0 C308.8,1531.4 317.4,1522.0 321.0,1519.0" fill="none" stroke="#fff" stroke-width="3" stroke-dasharray="13 6"/>
</g>
<text x="62.6" y="1427.9" font-size="28.5" font-weight="normal" text-anchor="start" fill="#fff">VZ</text>
<text x="20.3" y="1466.2" font-size="28.5" font-weight="normal" text-anchor="start" fill="#fff">IZ</text>
<text x="12.6" y="1573.0" font-size="28.5" font-weight="normal" text-anchor="start" fill="#fff">MZ</text>
<text x="8.5" y="1348.4" font-size="56" font-weight="bold" text-anchor="start" fill="#f01ef0">Nurr1</text>
<line x1="287.2" y1="1590.6" x2="322.0" y2="1590.6" stroke="#fff" stroke-width="3.5" stroke-linecap="butt"/>
<text x="7.0" y="1228.0" font-size="56" font-weight="bold" text-anchor="start" fill="#000">G</text>
<g clip-path="url(#clipJ)">
<rect x="7" y="1902" width="313" height="313" fill="#000"/>
<path d="M0.0,1890.0 L340.0,1890.0 L340.0,2230.0 L0.0,2230.0 Z" fill="#010601" opacity="1"/>
<path d="M0.0,1960.0 L330.0,1900.0 L330.0,2150.0 L0.0,2150.0 Z" fill="#0a1c0a" opacity="1" filter="url(#b6)"/>
<path d="M0.0,2080.0 L38.4,2087.1 L63.1,2095.0 L96.7,2108.4 L114.7,2124.1 L128.2,2135.3 L150.6,2142.0 L177.5,2145.4 L202.2,2135.3 L226.9,2119.6 L249.3,2108.4 L267.3,2104.0 L287.5,2102.8 L330.0,2100.0 L330.0,2118.0 L320.0,2123.0 L298.7,2137.6 L265.0,2151.0 L220.2,2163.4 L175.3,2169.0 L130.4,2167.9 L96.7,2163.4 L63.1,2151.0 L29.4,2126.4 L7.0,2108.4 L0.0,2104.0 Z" fill="#0c3e0e" opacity="1" filter="url(#b4)"/>
<path d="M0.0,2080.0 L38.4,2087.1 L63.1,2095.0 L96.7,2108.4 L114.7,2124.1 L128.2,2135.3 L150.6,2142.0 L177.5,2145.4 L202.2,2135.3 L226.9,2119.6 L249.3,2108.4 L267.3,2104.0 L287.5,2102.8 L330.0,2100.0 L330.0,2118.0 L320.0,2123.0 L298.7,2137.6 L265.0,2151.0 L220.2,2163.4 L175.3,2169.0 L130.4,2167.9 L96.7,2163.4 L63.1,2151.0 L29.4,2126.4 L7.0,2108.4 L0.0,2104.0 Z" fill="url(#cellJ)" opacity="1"/>
<path d="M-10.0,1890.0 L-10.0,1960.0 L7.0,1962.6 L63.1,1962.6 L81.0,1980.5 L101.2,2003.0 L119.2,2021.0 L137.1,2047.8 L155.1,2074.8 L168.5,2088.2 L182.0,2072.5 L197.7,2045.6 L208.9,2023.2 L226.9,1991.7 L253.8,1969.3 L287.5,1951.4 L303.2,1935.7 L312.1,1890.0 Z" fill="#000" opacity="1" filter="url(#b3)"/>
<path d="M0.0,2180.0 L340.0,2150.0 L340.0,2230.0 L0.0,2230.0 Z" fill="#000200" opacity="1" filter="url(#b10)"/>
<path d="M7.0,2104.0 L119.2,2017.5 M119.2,2017.5 C120.7,2020.3 124.5,2027.5 128.2,2034.4 C131.9,2041.3 137.1,2051.2 141.6,2059.0 C146.1,2066.8 150.6,2076.4 155.1,2081.5 C159.6,2086.6 164.0,2089.3 168.5,2089.3 C173.0,2089.3 177.9,2086.6 182.0,2081.5 C186.1,2076.4 189.8,2066.5 193.2,2059.0 C196.6,2051.5 199.4,2042.6 202.2,2036.6 C205.0,2030.6 208.7,2025.4 210.0,2023.2 M210.0,2023.2 L317.7,2120.8" fill="none" stroke="#fff" stroke-width="3" stroke-dasharray="13 6"/>
<path d="M72.1,2056.8 C72.5,2058.3 72.8,2060.9 74.3,2065.8 C75.8,2070.7 78.0,2079.6 81.0,2086.0 C84.0,2092.4 87.4,2098.4 92.3,2104.0 C97.2,2109.6 104.2,2114.4 110.2,2119.6 C116.2,2124.8 121.5,2131.6 128.2,2135.3 C134.9,2139.0 142.4,2140.3 150.6,2142.0 C158.8,2143.7 168.9,2146.5 177.5,2145.4 C186.1,2144.3 195.5,2140.0 202.2,2135.3 C208.9,2130.6 212.3,2123.4 217.9,2117.4 C223.5,2111.4 229.8,2105.0 235.8,2099.4 C241.8,2093.8 248.2,2087.8 253.8,2083.7 C259.4,2079.6 266.9,2076.3 269.5,2074.8" fill="none" stroke="#fff" stroke-width="3" stroke-dasharray="13 6"/>
<path d="M38.4,2087.1 C42.5,2088.4 53.4,2091.4 63.1,2095.0 C72.8,2098.6 88.1,2103.6 96.7,2108.4 C105.3,2113.2 109.5,2119.6 114.7,2124.1 C120.0,2128.6 122.2,2132.3 128.2,2135.3 C134.2,2138.3 142.4,2140.3 150.6,2142.0 C158.8,2143.7 168.9,2146.5 177.5,2145.4 C186.1,2144.3 194.0,2139.6 202.2,2135.3 C210.4,2131.0 219.1,2124.1 226.9,2119.6 C234.8,2115.1 242.6,2111.0 249.3,2108.4 C256.0,2105.8 260.9,2104.9 267.3,2104.0 C273.7,2103.1 284.1,2103.0 287.5,2102.8" fill="none" stroke="#fff" stroke-width="3" stroke-dasharray="13 6"/>
<path d="M7.0,2108.4 C10.7,2111.4 20.0,2119.3 29.4,2126.4 C38.8,2133.5 51.9,2144.8 63.1,2151.0 C74.3,2157.2 85.5,2160.6 96.7,2163.4 C107.9,2166.2 117.3,2167.0 130.4,2167.9 C143.5,2168.8 160.3,2169.8 175.3,2169.0 C190.3,2168.2 205.2,2166.4 220.2,2163.4 C235.1,2160.4 251.9,2155.3 265.0,2151.0 C278.1,2146.7 289.5,2142.3 298.7,2137.6 C307.9,2132.9 316.4,2125.4 320.0,2123.0" fill="none" stroke="#fff" stroke-width="3" stroke-dasharray="13 6"/>
</g>
<text x="68.5" y="2026.5" font-size="28.5" font-weight="normal" text-anchor="start" fill="#fff">VZ</text>
<text x="24.0" y="2064.7" font-size="28.5" font-weight="normal" text-anchor="start" fill="#fff">IZ</text>
<text x="24.8" y="2172.4" font-size="28.5" font-weight="normal" text-anchor="start" fill="#fff">MZ</text>
<text x="13.4" y="1954.7" font-size="56" font-weight="bold" text-anchor="start" fill="#1ef01e">TH</text>
<line x1="256.5" y1="2196.0" x2="303.6" y2="2196.0" stroke="#fff" stroke-width="3.5" stroke-linecap="butt"/>
<text x="6.0" y="1794.0" font-size="56" font-weight="bold" text-anchor="start" fill="#000">J</text>
<line x1="462.6" y1="103.2" x2="462.6" y2="475.5" stroke="#000" stroke-width="4" stroke-linecap="butt"/>
<line x1="460.6" y1="473.5" x2="818.8" y2="473.5" stroke="#000" stroke-width="4" stroke-linecap="butt"/>
<line x1="456.6" y1="473.5" x2="462.6" y2="473.5" stroke="#000" stroke-width="4" stroke-linecap="butt"/>
<text x="455.6" y="480.9" font-size="21" font-weight="bold" text-anchor="end" fill="#000">0.0</text>
<line x1="456.6" y1="350.8" x2="462.6" y2="350.8" stroke="#000" stroke-width="4" stroke-linecap="butt"/>
<text x="455.6" y="358.1" font-size="21" font-weight="bold" text-anchor="end" fill="#000">0.5</text>
<line x1="456.6" y1="228.0" x2="462.6" y2="228.0" stroke="#000" stroke-width="4" stroke-linecap="butt"/>
<text x="455.6" y="235.3" font-size="21" font-weight="bold" text-anchor="end" fill="#000">1.0</text>
<line x1="456.6" y1="105.2" x2="462.6" y2="105.2" stroke="#000" stroke-width="4" stroke-linecap="butt"/>
<text x="455.6" y="112.6" font-size="21" font-weight="bold" text-anchor="end" fill="#000">1.5</text>
<line x1="494.8" y1="473.5" x2="494.8" y2="480.5" stroke="#000" stroke-width="4" stroke-linecap="butt"/>
<line x1="543.5" y1="473.5" x2="543.5" y2="480.5" stroke="#000" stroke-width="4" stroke-linecap="butt"/>
<line x1="592.3" y1="473.5" x2="592.3" y2="480.5" stroke="#000" stroke-width="4" stroke-linecap="butt"/>
<line x1="641.0" y1="473.5" x2="641.0" y2="480.5" stroke="#000" stroke-width="4" stroke-linecap="butt"/>
<line x1="689.8" y1="473.5" x2="689.8" y2="480.5" stroke="#000" stroke-width="4" stroke-linecap="butt"/>
<line x1="738.5" y1="473.5" x2="738.5" y2="480.5" stroke="#000" stroke-width="4" stroke-linecap="butt"/>
<line x1="787.3" y1="473.5" x2="787.3" y2="480.5" stroke="#000" stroke-width="4" stroke-linecap="butt"/>
<text x="495.1" y="515.3" font-size="38" font-weight="bold" text-anchor="middle" fill="#000">A</text>
<text x="787.7" y="516.3" font-size="38" font-weight="bold" text-anchor="middle" fill="#000">P</text>
<line x1="549.5" y1="501.1" x2="698.1" y2="501.1" stroke="#000" stroke-width="5" stroke-linecap="butt"/>
<path d="M718.1,501.1 L690.1,490.1 L698.1,501.1 L690.1,512.1 Z" fill="#000"/>
<text x="389.9" y="289.5" font-size="28.4" font-weight="bold" text-anchor="middle" transform="rotate(-90 389.9 289.5)">Mean gray value (x 10<tspan font-size="17.6" dy="-10.8">3</tspan><tspan dy="10.8">)</tspan></text>
<text x="422.1" y="289.7" font-size="28.0" font-weight="bold" text-anchor="middle" transform="rotate(-90 422.1 289.7)">per cell / section</text>
<polyline points="494.8,232.9 543.5,245.9 592.3,223.3 641.0,242.7 689.8,234.1 738.5,232.9 787.3,208.4" fill="none" stroke="#fb800a" stroke-width="3.0" stroke-linejoin="round" stroke-linecap="butt" stroke-dasharray="12 5.5"/>
<polyline points="494.8,279.6 543.5,277.1 592.3,274.6 641.0,274.6 689.8,246.4 738.5,223.1 787.3,208.4" fill="none" stroke="#0000ff" stroke-width="3.0" stroke-linejoin="round" stroke-linecap="butt" stroke-dasharray="12 5.5"/>
<polyline points="494.8,239.0 543.5,258.2 592.3,258.2 641.0,273.2 689.8,273.2 738.5,231.7 787.3,192.9" fill="none" stroke="#0000ff" stroke-width="3.8" stroke-linejoin="round" stroke-linecap="butt"/>
<polyline points="494.8,239.0 543.5,264.6 592.3,263.4 641.0,253.8 689.8,248.9 738.5,217.2 787.3,200.3" fill="none" stroke="#fb800a" stroke-width="3.3" stroke-linejoin="round" stroke-linecap="butt"/>
<line x1="494.8" y1="232.9" x2="494.8" y2="217.0" stroke="#fb800a" stroke-width="3.0" stroke-linecap="butt"/>
<line x1="487.3" y1="217.0" x2="502.3" y2="217.0" stroke="#fb800a" stroke-width="3.0" stroke-linecap="butt"/>
<line x1="543.5" y1="245.9" x2="543.5" y2="233.6" stroke="#fb800a" stroke-width="3.0" stroke-linecap="butt"/>
<line x1="536.0" y1="233.6" x2="551.0" y2="233.6" stroke="#fb800a" stroke-width="3.0" stroke-linecap="butt"/>
<line x1="592.3" y1="223.3" x2="592.3" y2="212.3" stroke="#fb800a" stroke-width="3.0" stroke-linecap="butt"/>
<line x1="584.8" y1="212.3" x2="599.8" y2="212.3" stroke="#fb800a" stroke-width="3.0" stroke-linecap="butt"/>
<line x1="641.0" y1="242.7" x2="641.0" y2="232.9" stroke="#fb800a" stroke-width="3.0" stroke-linecap="butt"/>
<line x1="633.5" y1="232.9" x2="648.5" y2="232.9" stroke="#fb800a" stroke-width="3.0" stroke-linecap="butt"/>
<line x1="689.8" y1="234.1" x2="689.8" y2="220.6" stroke="#fb800a" stroke-width="3.0" stroke-linecap="butt"/>
<line x1="682.3" y1="220.6" x2="697.3" y2="220.6" stroke="#fb800a" stroke-width="3.0" stroke-linecap="butt"/>
<line x1="738.5" y1="232.9" x2="738.5" y2="217.0" stroke="#fb800a" stroke-width="3.0" stroke-linecap="butt"/>
<line x1="731.0" y1="217.0" x2="746.0" y2="217.0" stroke="#fb800a" stroke-width="3.0" stroke-linecap="butt"/>
<line x1="787.3" y1="208.4" x2="787.3" y2="191.2" stroke="#fb800a" stroke-width="3.0" stroke-linecap="butt"/>
<line x1="779.8" y1="191.2" x2="794.8" y2="191.2" stroke="#fb800a" stroke-width="3.0" stroke-linecap="butt"/>
<rect x="488.6" y="226.7" width="12.5" height="12.5" fill="none" stroke="#fb800a" stroke-width="1.9"/>
<rect x="537.2" y="239.7" width="12.5" height="12.5" fill="none" stroke="#fb800a" stroke-width="1.9"/>
<rect x="586.0" y="217.1" width="12.5" height="12.5" fill="none" stroke="#fb800a" stroke-width="1.9"/>
<rect x="634.8" y="236.5" width="12.5" height="12.5" fill="none" stroke="#fb800a" stroke-width="1.9"/>
<rect x="683.5" y="227.9" width="12.5" height="12.5" fill="none" stroke="#fb800a" stroke-width="1.9"/>
<rect x="732.2" y="226.7" width="12.5" height="12.5" fill="none" stroke="#fb800a" stroke-width="1.9"/>
<rect x="781.0" y="202.1" width="12.5" height="12.5" fill="none" stroke="#fb800a" stroke-width="1.9"/>
<line x1="494.8" y1="296.7" x2="494.8" y2="279.6" stroke="#0000ff" stroke-width="3.0" stroke-linecap="butt"/>
<line x1="487.3" y1="296.7" x2="502.3" y2="296.7" stroke="#0000ff" stroke-width="3.0" stroke-linecap="butt"/>
<line x1="543.5" y1="291.8" x2="543.5" y2="277.1" stroke="#0000ff" stroke-width="3.0" stroke-linecap="butt"/>
<line x1="536.0" y1="291.8" x2="551.0" y2="291.8" stroke="#0000ff" stroke-width="3.0" stroke-linecap="butt"/>
<line x1="592.3" y1="294.3" x2="592.3" y2="274.6" stroke="#0000ff" stroke-width="3.0" stroke-linecap="butt"/>
<line x1="584.8" y1="294.3" x2="599.8" y2="294.3" stroke="#0000ff" stroke-width="3.0" stroke-linecap="butt"/>
<line x1="641.0" y1="291.8" x2="641.0" y2="274.6" stroke="#0000ff" stroke-width="3.0" stroke-linecap="butt"/>
<line x1="633.5" y1="291.8" x2="648.5" y2="291.8" stroke="#0000ff" stroke-width="3.0" stroke-linecap="butt"/>
<line x1="689.8" y1="261.1" x2="689.8" y2="246.4" stroke="#0000ff" stroke-width="3.0" stroke-linecap="butt"/>
<line x1="682.3" y1="261.1" x2="697.3" y2="261.1" stroke="#0000ff" stroke-width="3.0" stroke-linecap="butt"/>
<line x1="738.5" y1="242.7" x2="738.5" y2="223.1" stroke="#0000ff" stroke-width="3.0" stroke-linecap="butt"/>
<line x1="731.0" y1="242.7" x2="746.0" y2="242.7" stroke="#0000ff" stroke-width="3.0" stroke-linecap="butt"/>
<line x1="787.3" y1="232.9" x2="787.3" y2="208.4" stroke="#0000ff" stroke-width="3.0" stroke-linecap="butt"/>
<line x1="779.8" y1="232.9" x2="794.8" y2="232.9" stroke="#0000ff" stroke-width="3.0" stroke-linecap="butt"/>
<circle cx="494.8" cy="279.6" r="6.0" fill="none" stroke="#0000ff" stroke-width="1.9"/>
<circle cx="543.5" cy="277.1" r="6.0" fill="none" stroke="#0000ff" stroke-width="1.9"/>
<circle cx="592.3" cy="274.6" r="6.0" fill="none" stroke="#0000ff" stroke-width="1.9"/>
<circle cx="641.0" cy="274.6" r="6.0" fill="none" stroke="#0000ff" stroke-width="1.9"/>
<circle cx="689.8" cy="246.4" r="6.0" fill="none" stroke="#0000ff" stroke-width="1.9"/>
<circle cx="738.5" cy="223.1" r="6.0" fill="none" stroke="#0000ff" stroke-width="1.9"/>
<circle cx="787.3" cy="208.4" r="6.0" fill="none" stroke="#0000ff" stroke-width="1.9"/>
<line x1="494.8" y1="256.2" x2="494.8" y2="239.0" stroke="#0000ff" stroke-width="3.0" stroke-linecap="butt"/>
<line x1="487.3" y1="256.2" x2="502.3" y2="256.2" stroke="#0000ff" stroke-width="3.0" stroke-linecap="butt"/>
<line x1="543.5" y1="272.9" x2="543.5" y2="258.2" stroke="#0000ff" stroke-width="3.0" stroke-linecap="butt"/>
<line x1="536.0" y1="272.9" x2="551.0" y2="272.9" stroke="#0000ff" stroke-width="3.0" stroke-linecap="butt"/>
<line x1="592.3" y1="275.4" x2="592.3" y2="258.2" stroke="#0000ff" stroke-width="3.0" stroke-linecap="butt"/>
<line x1="584.8" y1="275.4" x2="599.8" y2="275.4" stroke="#0000ff" stroke-width="3.0" stroke-linecap="butt"/>
<line x1="641.0" y1="287.9" x2="641.0" y2="273.2" stroke="#0000ff" stroke-width="3.0" stroke-linecap="butt"/>
<line x1="633.5" y1="287.9" x2="648.5" y2="287.9" stroke="#0000ff" stroke-width="3.0" stroke-linecap="butt"/>
<line x1="689.8" y1="287.9" x2="689.8" y2="273.2" stroke="#0000ff" stroke-width="3.0" stroke-linecap="butt"/>
<line x1="682.3" y1="287.9" x2="697.3" y2="287.9" stroke="#0000ff" stroke-width="3.0" stroke-linecap="butt"/>
<line x1="738.5" y1="253.8" x2="738.5" y2="231.7" stroke="#0000ff" stroke-width="3.0" stroke-linecap="butt"/>
<line x1="731.0" y1="253.8" x2="746.0" y2="253.8" stroke="#0000ff" stroke-width="3.0" stroke-linecap="butt"/>
<line x1="787.3" y1="215.0" x2="787.3" y2="192.9" stroke="#0000ff" stroke-width="3.0" stroke-linecap="butt"/>
<line x1="779.8" y1="215.0" x2="794.8" y2="215.0" stroke="#0000ff" stroke-width="3.0" stroke-linecap="butt"/>
<circle cx="494.8" cy="239.0" r="5.5" fill="#0000ff"/>
<circle cx="543.5" cy="258.2" r="5.5" fill="#0000ff"/>
<circle cx="592.3" cy="258.2" r="5.5" fill="#0000ff"/>
<circle cx="641.0" cy="273.2" r="5.5" fill="#0000ff"/>
<circle cx="689.8" cy="273.2" r="5.5" fill="#0000ff"/>
<circle cx="738.5" cy="231.7" r="5.5" fill="#0000ff"/>
<circle cx="787.3" cy="192.9" r="5.5" fill="#0000ff"/>
<line x1="494.8" y1="258.7" x2="494.8" y2="239.0" stroke="#fb800a" stroke-width="3.0" stroke-linecap="butt"/>
<line x1="487.3" y1="258.7" x2="502.3" y2="258.7" stroke="#fb800a" stroke-width="3.0" stroke-linecap="butt"/>
<line x1="543.5" y1="276.9" x2="543.5" y2="252.3" stroke="#fb800a" stroke-width="3.0" stroke-linecap="butt"/>
<line x1="536.0" y1="276.9" x2="551.0" y2="276.9" stroke="#fb800a" stroke-width="3.0" stroke-linecap="butt"/>
<line x1="536.0" y1="252.3" x2="551.0" y2="252.3" stroke="#fb800a" stroke-width="3.0" stroke-linecap="butt"/>
<line x1="592.3" y1="280.5" x2="592.3" y2="246.2" stroke="#fb800a" stroke-width="3.0" stroke-linecap="butt"/>
<line x1="584.8" y1="280.5" x2="599.8" y2="280.5" stroke="#fb800a" stroke-width="3.0" stroke-linecap="butt"/>
<line x1="584.8" y1="246.2" x2="599.8" y2="246.2" stroke="#fb800a" stroke-width="3.0" stroke-linecap="butt"/>
<line x1="641.0" y1="266.1" x2="641.0" y2="241.5" stroke="#fb800a" stroke-width="3.0" stroke-linecap="butt"/>
<line x1="633.5" y1="266.1" x2="648.5" y2="266.1" stroke="#fb800a" stroke-width="3.0" stroke-linecap="butt"/>
<line x1="633.5" y1="241.5" x2="648.5" y2="241.5" stroke="#fb800a" stroke-width="3.0" stroke-linecap="butt"/>
<line x1="689.8" y1="263.6" x2="689.8" y2="248.9" stroke="#fb800a" stroke-width="3.0" stroke-linecap="butt"/>
<line x1="682.3" y1="263.6" x2="697.3" y2="263.6" stroke="#fb800a" stroke-width="3.0" stroke-linecap="butt"/>
<line x1="738.5" y1="217.2" x2="738.5" y2="204.9" stroke="#fb800a" stroke-width="3.0" stroke-linecap="butt"/>
<line x1="731.0" y1="204.9" x2="746.0" y2="204.9" stroke="#fb800a" stroke-width="3.0" stroke-linecap="butt"/>
<line x1="787.3" y1="200.3" x2="787.3" y2="188.0" stroke="#fb800a" stroke-width="3.0" stroke-linecap="butt"/>
<line x1="779.8" y1="188.0" x2="794.8" y2="188.0" stroke="#fb800a" stroke-width="3.0" stroke-linecap="butt"/>
<rect x="489.9" y="234.1" width="9.8" height="9.8" fill="#fb800a"/>
<rect x="538.6" y="259.7" width="9.8" height="9.8" fill="#fb800a"/>
<rect x="587.4" y="258.5" width="9.8" height="9.8" fill="#fb800a"/>
<rect x="636.1" y="248.9" width="9.8" height="9.8" fill="#fb800a"/>
<rect x="684.9" y="244.0" width="9.8" height="9.8" fill="#fb800a"/>
<rect x="733.6" y="212.3" width="9.8" height="9.8" fill="#fb800a"/>
<rect x="782.4" y="195.4" width="9.8" height="9.8" fill="#fb800a"/>
<line x1="510.7" y1="345.4" x2="528.7" y2="345.4" stroke="#0000ff" stroke-width="3.2" stroke-linecap="butt"/>
<circle cx="519.7" cy="345.4" r="6.3" fill="none" stroke="#0000ff" stroke-width="2.8"/>
<text x="537.3" y="353.1" font-size="24" font-weight="normal" text-anchor="start" fill="#000">CON-VEH</text>
<line x1="510.7" y1="375.5" x2="528.7" y2="375.5" stroke="#fb800a" stroke-width="3.2" stroke-linecap="butt"/>
<rect x="513.6" y="369.4" width="12.2" height="12.2" fill="none" stroke="#fb800a" stroke-width="2.8"/>
<text x="537.3" y="380.0" font-size="24" font-weight="normal" text-anchor="start" fill="#000">CON-VIT<tspan font-size="16.799999999999997" dy="7.6">D</tspan></text>
<line x1="510.7" y1="406.4" x2="528.7" y2="406.4" stroke="#0000ff" stroke-width="3.2" stroke-linecap="butt"/>
<circle cx="519.7" cy="406.4" r="6.3" fill="#0000ff"/>
<text x="537.3" y="413.9" font-size="24" font-weight="normal" text-anchor="start" fill="#000">POL-VEH</text>
<line x1="510.7" y1="436.8" x2="528.7" y2="436.8" stroke="#fb800a" stroke-width="3.2" stroke-linecap="butt"/>
<rect x="514.7" y="431.8" width="10.0" height="10.0" fill="#fb800a"/>
<text x="537.3" y="441.4" font-size="24" font-weight="normal" text-anchor="start" fill="#000">POL-VIT<tspan font-size="16.799999999999997" dy="7.6">D</tspan></text>
<line x1="651.6" y1="335.3" x2="651.6" y2="446.6" stroke="#000" stroke-width="3.5" stroke-linecap="round"/>
<text x="661.0" y="398.7" font-size="37" font-weight="normal" text-anchor="start" fill="#000">n.s.</text>
<text x="357.0" y="43.0" font-size="56" font-weight="bold" text-anchor="start" fill="#000">B</text>
<line x1="452.2" y1="685.2" x2="452.2" y2="1047.6" stroke="#000" stroke-width="4" stroke-linecap="butt"/>
<line x1="450.2" y1="1045.6" x2="809.5" y2="1045.6" stroke="#000" stroke-width="4" stroke-linecap="butt"/>
<line x1="446.2" y1="1045.6" x2="452.2" y2="1045.6" stroke="#000" stroke-width="4" stroke-linecap="butt"/>
<text x="445.2" y="1052.9" font-size="21" font-weight="bold" text-anchor="end" fill="#000">0</text>
<line x1="446.2" y1="956.0" x2="452.2" y2="956.0" stroke="#000" stroke-width="4" stroke-linecap="butt"/>
<text x="445.2" y="963.3" font-size="21" font-weight="bold" text-anchor="end" fill="#000">1</text>
<line x1="446.2" y1="866.4" x2="452.2" y2="866.4" stroke="#000" stroke-width="4" stroke-linecap="butt"/>
<text x="445.2" y="873.7" font-size="21" font-weight="bold" text-anchor="end" fill="#000">2</text>
<line x1="446.2" y1="776.8" x2="452.2" y2="776.8" stroke="#000" stroke-width="4" stroke-linecap="butt"/>
<text x="445.2" y="784.1" font-size="21" font-weight="bold" text-anchor="end" fill="#000">3</text>
<line x1="446.2" y1="687.2" x2="452.2" y2="687.2" stroke="#000" stroke-width="4" stroke-linecap="butt"/>
<text x="445.2" y="694.5" font-size="21" font-weight="bold" text-anchor="end" fill="#000">4</text>
<line x1="484.4" y1="1045.6" x2="484.4" y2="1052.6" stroke="#000" stroke-width="4" stroke-linecap="butt"/>
<line x1="533.2" y1="1045.6" x2="533.2" y2="1052.6" stroke="#000" stroke-width="4" stroke-linecap="butt"/>
<line x1="581.9" y1="1045.6" x2="581.9" y2="1052.6" stroke="#000" stroke-width="4" stroke-linecap="butt"/>
<line x1="630.6" y1="1045.6" x2="630.6" y2="1052.6" stroke="#000" stroke-width="4" stroke-linecap="butt"/>
<line x1="679.4" y1="1045.6" x2="679.4" y2="1052.6" stroke="#000" stroke-width="4" stroke-linecap="butt"/>
<line x1="728.1" y1="1045.6" x2="728.1" y2="1052.6" stroke="#000" stroke-width="4" stroke-linecap="butt"/>
<line x1="776.9" y1="1045.6" x2="776.9" y2="1052.6" stroke="#000" stroke-width="4" stroke-linecap="butt"/>
<text x="483.9" y="1083.2" font-size="38" font-weight="bold" text-anchor="middle" fill="#000">A</text>
<text x="776.8" y="1084.2" font-size="38" font-weight="bold" text-anchor="middle" fill="#000">P</text>
<line x1="538.5" y1="1068.5" x2="686.8" y2="1068.5" stroke="#000" stroke-width="5" stroke-linecap="butt"/>
<path d="M706.8,1068.5 L678.8,1057.5 L686.8,1068.5 L678.8,1079.5 Z" fill="#000"/>
<text x="392.8" y="861.9" font-size="27.66" font-weight="bold" text-anchor="middle" transform="rotate(-90 392.8 861.9)">Mean gray value (x 10<tspan font-size="17.1" dy="-10.5">3</tspan><tspan dy="10.5">)</tspan></text>
<text x="424.6" y="862.0" font-size="27.14" font-weight="bold" text-anchor="middle" transform="rotate(-90 424.6 862.0)">per cell / section</text>
<polyline points="484.4,794.7 533.2,790.2 581.9,796.5 630.6,796.5 679.4,776.8 728.1,776.8 776.9,847.6" fill="none" stroke="#fb800a" stroke-width="3.0" stroke-linejoin="round" stroke-linecap="butt" stroke-dasharray="12 5.5"/>
<polyline points="484.4,832.4 533.2,831.5 581.9,856.5 630.6,866.4 679.4,881.6 728.1,882.5 776.9,894.2" fill="none" stroke="#0000ff" stroke-width="3.0" stroke-linejoin="round" stroke-linecap="butt" stroke-dasharray="12 5.5"/>
<polyline points="484.4,832.4 533.2,835.9 581.9,835.9 630.6,840.4 679.4,835.0 728.1,829.7 776.9,851.2" fill="none" stroke="#0000ff" stroke-width="3.8" stroke-linejoin="round" stroke-linecap="butt"/>
<polyline points="484.4,842.2 533.2,846.7 581.9,851.2 630.6,850.3 679.4,854.8 728.1,852.1 776.9,861.9" fill="none" stroke="#fb800a" stroke-width="3.3" stroke-linejoin="round" stroke-linecap="butt"/>
<line x1="484.4" y1="794.7" x2="484.4" y2="764.3" stroke="#fb800a" stroke-width="3.0" stroke-linecap="butt"/>
<line x1="476.9" y1="764.3" x2="491.9" y2="764.3" stroke="#fb800a" stroke-width="3.0" stroke-linecap="butt"/>
<line x1="533.2" y1="790.2" x2="533.2" y2="769.6" stroke="#fb800a" stroke-width="3.0" stroke-linecap="butt"/>
<line x1="525.7" y1="769.6" x2="540.7" y2="769.6" stroke="#fb800a" stroke-width="3.0" stroke-linecap="butt"/>
<line x1="581.9" y1="796.5" x2="581.9" y2="770.5" stroke="#fb800a" stroke-width="3.0" stroke-linecap="butt"/>
<line x1="574.4" y1="770.5" x2="589.4" y2="770.5" stroke="#fb800a" stroke-width="3.0" stroke-linecap="butt"/>
<line x1="630.6" y1="796.5" x2="630.6" y2="774.1" stroke="#fb800a" stroke-width="3.0" stroke-linecap="butt"/>
<line x1="623.1" y1="774.1" x2="638.1" y2="774.1" stroke="#fb800a" stroke-width="3.0" stroke-linecap="butt"/>
<line x1="679.4" y1="776.8" x2="679.4" y2="758.0" stroke="#fb800a" stroke-width="3.0" stroke-linecap="butt"/>
<line x1="671.9" y1="758.0" x2="686.9" y2="758.0" stroke="#fb800a" stroke-width="3.0" stroke-linecap="butt"/>
<line x1="728.1" y1="776.8" x2="728.1" y2="760.7" stroke="#fb800a" stroke-width="3.0" stroke-linecap="butt"/>
<line x1="720.6" y1="760.7" x2="735.6" y2="760.7" stroke="#fb800a" stroke-width="3.0" stroke-linecap="butt"/>
<line x1="776.9" y1="847.6" x2="776.9" y2="825.2" stroke="#fb800a" stroke-width="3.0" stroke-linecap="butt"/>
<line x1="769.4" y1="825.2" x2="784.4" y2="825.2" stroke="#fb800a" stroke-width="3.0" stroke-linecap="butt"/>
<rect x="478.1" y="788.5" width="12.5" height="12.5" fill="none" stroke="#fb800a" stroke-width="1.9"/>
<rect x="527.0" y="784.0" width="12.5" height="12.5" fill="none" stroke="#fb800a" stroke-width="1.9"/>
<rect x="575.6" y="790.3" width="12.5" height="12.5" fill="none" stroke="#fb800a" stroke-width="1.9"/>
<rect x="624.4" y="790.3" width="12.5" height="12.5" fill="none" stroke="#fb800a" stroke-width="1.9"/>
<rect x="673.1" y="770.5" width="12.5" height="12.5" fill="none" stroke="#fb800a" stroke-width="1.9"/>
<rect x="721.9" y="770.5" width="12.5" height="12.5" fill="none" stroke="#fb800a" stroke-width="1.9"/>
<rect x="770.6" y="841.3" width="12.5" height="12.5" fill="none" stroke="#fb800a" stroke-width="1.9"/>
<line x1="484.4" y1="875.4" x2="484.4" y2="832.4" stroke="#0000ff" stroke-width="3.0" stroke-linecap="butt"/>
<line x1="476.9" y1="875.4" x2="491.9" y2="875.4" stroke="#0000ff" stroke-width="3.0" stroke-linecap="butt"/>
<line x1="533.2" y1="874.5" x2="533.2" y2="831.5" stroke="#0000ff" stroke-width="3.0" stroke-linecap="butt"/>
<line x1="525.7" y1="874.5" x2="540.7" y2="874.5" stroke="#0000ff" stroke-width="3.0" stroke-linecap="butt"/>
<line x1="581.9" y1="877.2" x2="581.9" y2="856.5" stroke="#0000ff" stroke-width="3.0" stroke-linecap="butt"/>
<line x1="574.4" y1="877.2" x2="589.4" y2="877.2" stroke="#0000ff" stroke-width="3.0" stroke-linecap="butt"/>
<line x1="630.6" y1="888.8" x2="630.6" y2="866.4" stroke="#0000ff" stroke-width="3.0" stroke-linecap="butt"/>
<line x1="623.1" y1="888.8" x2="638.1" y2="888.8" stroke="#0000ff" stroke-width="3.0" stroke-linecap="butt"/>
<line x1="679.4" y1="909.4" x2="679.4" y2="881.6" stroke="#0000ff" stroke-width="3.0" stroke-linecap="butt"/>
<line x1="671.9" y1="909.4" x2="686.9" y2="909.4" stroke="#0000ff" stroke-width="3.0" stroke-linecap="butt"/>
<line x1="728.1" y1="904.9" x2="728.1" y2="882.5" stroke="#0000ff" stroke-width="3.0" stroke-linecap="butt"/>
<line x1="720.6" y1="904.9" x2="735.6" y2="904.9" stroke="#0000ff" stroke-width="3.0" stroke-linecap="butt"/>
<line x1="776.9" y1="918.4" x2="776.9" y2="894.2" stroke="#0000ff" stroke-width="3.0" stroke-linecap="butt"/>
<line x1="769.4" y1="918.4" x2="784.4" y2="918.4" stroke="#0000ff" stroke-width="3.0" stroke-linecap="butt"/>
<circle cx="484.4" cy="832.4" r="6.0" fill="none" stroke="#0000ff" stroke-width="1.9"/>
<circle cx="533.2" cy="831.5" r="6.0" fill="none" stroke="#0000ff" stroke-width="1.9"/>
<circle cx="581.9" cy="856.5" r="6.0" fill="none" stroke="#0000ff" stroke-width="1.9"/>
<circle cx="630.6" cy="866.4" r="6.0" fill="none" stroke="#0000ff" stroke-width="1.9"/>
<circle cx="679.4" cy="881.6" r="6.0" fill="none" stroke="#0000ff" stroke-width="1.9"/>
<circle cx="728.1" cy="882.5" r="6.0" fill="none" stroke="#0000ff" stroke-width="1.9"/>
<circle cx="776.9" cy="894.2" r="6.0" fill="none" stroke="#0000ff" stroke-width="1.9"/>
<line x1="484.4" y1="851.2" x2="484.4" y2="832.4" stroke="#0000ff" stroke-width="3.0" stroke-linecap="butt"/>
<line x1="476.9" y1="851.2" x2="491.9" y2="851.2" stroke="#0000ff" stroke-width="3.0" stroke-linecap="butt"/>
<line x1="533.2" y1="855.6" x2="533.2" y2="835.9" stroke="#0000ff" stroke-width="3.0" stroke-linecap="butt"/>
<line x1="525.7" y1="855.6" x2="540.7" y2="855.6" stroke="#0000ff" stroke-width="3.0" stroke-linecap="butt"/>
<line x1="581.9" y1="877.2" x2="581.9" y2="835.9" stroke="#0000ff" stroke-width="3.0" stroke-linecap="butt"/>
<line x1="574.4" y1="877.2" x2="589.4" y2="877.2" stroke="#0000ff" stroke-width="3.0" stroke-linecap="butt"/>
<line x1="630.6" y1="855.6" x2="630.6" y2="840.4" stroke="#0000ff" stroke-width="3.0" stroke-linecap="butt"/>
<line x1="623.1" y1="855.6" x2="638.1" y2="855.6" stroke="#0000ff" stroke-width="3.0" stroke-linecap="butt"/>
<line x1="679.4" y1="857.4" x2="679.4" y2="835.0" stroke="#0000ff" stroke-width="3.0" stroke-linecap="butt"/>
<line x1="671.9" y1="857.4" x2="686.9" y2="857.4" stroke="#0000ff" stroke-width="3.0" stroke-linecap="butt"/>
<line x1="728.1" y1="849.4" x2="728.1" y2="829.7" stroke="#0000ff" stroke-width="3.0" stroke-linecap="butt"/>
<line x1="720.6" y1="849.4" x2="735.6" y2="849.4" stroke="#0000ff" stroke-width="3.0" stroke-linecap="butt"/>
<line x1="776.9" y1="860.1" x2="776.9" y2="851.2" stroke="#0000ff" stroke-width="3.0" stroke-linecap="butt"/>
<line x1="769.4" y1="860.1" x2="784.4" y2="860.1" stroke="#0000ff" stroke-width="3.0" stroke-linecap="butt"/>
<circle cx="484.4" cy="832.4" r="5.5" fill="#0000ff"/>
<circle cx="533.2" cy="835.9" r="5.5" fill="#0000ff"/>
<circle cx="581.9" cy="835.9" r="5.5" fill="#0000ff"/>
<circle cx="630.6" cy="840.4" r="5.5" fill="#0000ff"/>
<circle cx="679.4" cy="835.0" r="5.5" fill="#0000ff"/>
<circle cx="728.1" cy="829.7" r="5.5" fill="#0000ff"/>
<circle cx="776.9" cy="851.2" r="5.5" fill="#0000ff"/>
<line x1="484.4" y1="861.0" x2="484.4" y2="842.2" stroke="#fb800a" stroke-width="3.0" stroke-linecap="butt"/>
<line x1="476.9" y1="861.0" x2="491.9" y2="861.0" stroke="#fb800a" stroke-width="3.0" stroke-linecap="butt"/>
<line x1="533.2" y1="866.4" x2="533.2" y2="846.7" stroke="#fb800a" stroke-width="3.0" stroke-linecap="butt"/>
<line x1="525.7" y1="866.4" x2="540.7" y2="866.4" stroke="#fb800a" stroke-width="3.0" stroke-linecap="butt"/>
<line x1="581.9" y1="869.1" x2="581.9" y2="851.2" stroke="#fb800a" stroke-width="3.0" stroke-linecap="butt"/>
<line x1="574.4" y1="869.1" x2="589.4" y2="869.1" stroke="#fb800a" stroke-width="3.0" stroke-linecap="butt"/>
<line x1="630.6" y1="868.2" x2="630.6" y2="850.3" stroke="#fb800a" stroke-width="3.0" stroke-linecap="butt"/>
<line x1="623.1" y1="868.2" x2="638.1" y2="868.2" stroke="#fb800a" stroke-width="3.0" stroke-linecap="butt"/>
<line x1="679.4" y1="876.3" x2="679.4" y2="854.8" stroke="#fb800a" stroke-width="3.0" stroke-linecap="butt"/>
<line x1="671.9" y1="876.3" x2="686.9" y2="876.3" stroke="#fb800a" stroke-width="3.0" stroke-linecap="butt"/>
<line x1="728.1" y1="871.8" x2="728.1" y2="852.1" stroke="#fb800a" stroke-width="3.0" stroke-linecap="butt"/>
<line x1="720.6" y1="871.8" x2="735.6" y2="871.8" stroke="#fb800a" stroke-width="3.0" stroke-linecap="butt"/>
<line x1="776.9" y1="882.5" x2="776.9" y2="861.9" stroke="#fb800a" stroke-width="3.0" stroke-linecap="butt"/>
<line x1="769.4" y1="882.5" x2="784.4" y2="882.5" stroke="#fb800a" stroke-width="3.0" stroke-linecap="butt"/>
<rect x="479.5" y="837.3" width="9.8" height="9.8" fill="#fb800a"/>
<rect x="528.3" y="841.8" width="9.8" height="9.8" fill="#fb800a"/>
<rect x="577.0" y="846.3" width="9.8" height="9.8" fill="#fb800a"/>
<rect x="625.7" y="845.4" width="9.8" height="9.8" fill="#fb800a"/>
<rect x="674.5" y="849.9" width="9.8" height="9.8" fill="#fb800a"/>
<rect x="723.2" y="847.2" width="9.8" height="9.8" fill="#fb800a"/>
<rect x="772.0" y="857.0" width="9.8" height="9.8" fill="#fb800a"/>
<line x1="485.0" y1="942.3" x2="503.0" y2="942.3" stroke="#0000ff" stroke-width="3.2" stroke-linecap="butt"/>
<circle cx="494.0" cy="942.3" r="5.3" fill="none" stroke="#0000ff" stroke-width="2.0"/>
<text x="513.0" y="949.7" font-size="23.5" font-weight="normal" text-anchor="start" fill="#000">CON-VEH</text>
<line x1="486.7" y1="966.2" x2="504.7" y2="966.2" stroke="#fb800a" stroke-width="3.2" stroke-linecap="butt"/>
<rect x="489.5" y="960.0" width="12.4" height="12.4" fill="none" stroke="#fb800a" stroke-width="2.0"/>
<text x="514.6" y="970.3" font-size="23.5" font-weight="normal" text-anchor="start" fill="#000">CON-VIT<tspan font-size="16.45" dy="7.4">D</tspan></text>
<line x1="488.3" y1="987.3" x2="506.3" y2="987.3" stroke="#0000ff" stroke-width="3.2" stroke-linecap="butt"/>
<circle cx="497.3" cy="987.3" r="5.6" fill="#0000ff"/>
<text x="515.5" y="993.4" font-size="23.5" font-weight="normal" text-anchor="start" fill="#000">POL-VEH</text>
<line x1="490.0" y1="1012.4" x2="508.0" y2="1012.4" stroke="#fb800a" stroke-width="3.2" stroke-linecap="butt"/>
<rect x="494.1" y="1007.5" width="9.8" height="9.8" fill="#fb800a"/>
<text x="516.3" y="1015.7" font-size="23.5" font-weight="normal" text-anchor="start" fill="#000">POL-VIT<tspan font-size="16.45" dy="7.4">D</tspan></text>
<polyline points="618.5,938.2 652.3,938.2 652.3,960.4" fill="none" stroke="#000" stroke-width="4" stroke-linejoin="miter" stroke-linecap="butt"/>
<rect x="618.5" y="958.8" width="34" height="5.8" fill="#000"/>
<polyline points="618.5,962.8 635.8,962.8 635.8,991.0 618.5,991.0" fill="none" stroke="#000" stroke-width="4" stroke-linejoin="miter" stroke-linecap="butt"/>
<polyline points="652.0,962.0 660.5,962.0 660.5,1007.4 616.9,1007.4" fill="none" stroke="#000" stroke-width="4" stroke-linejoin="miter" stroke-linecap="butt"/>
<text x="657.5" y="970.2" font-size="45" font-weight="normal" text-anchor="start" fill="#000">**</text>
<text x="636.7" y="998.4" font-size="48" font-weight="normal" text-anchor="start" fill="#000">*</text>
<text x="662.5" y="1008.9" font-size="45" font-weight="normal" text-anchor="start" fill="#000">*</text>
<text x="357.0" y="653.0" font-size="56" font-weight="bold" text-anchor="start" fill="#000">E</text>
<line x1="478.3" y1="1277.5" x2="478.3" y2="1645.5" stroke="#000" stroke-width="4" stroke-linecap="butt"/>
<line x1="476.3" y1="1643.5" x2="818.8" y2="1643.5" stroke="#000" stroke-width="4" stroke-linecap="butt"/>
<line x1="472.3" y1="1643.5" x2="478.3" y2="1643.5" stroke="#000" stroke-width="4" stroke-linecap="butt"/>
<text x="471.3" y="1650.8" font-size="21" font-weight="bold" text-anchor="end" fill="#000">0.0</text>
<line x1="472.3" y1="1522.2" x2="478.3" y2="1522.2" stroke="#000" stroke-width="4" stroke-linecap="butt"/>
<text x="471.3" y="1529.5" font-size="21" font-weight="bold" text-anchor="end" fill="#000">0.5</text>
<line x1="472.3" y1="1400.8" x2="478.3" y2="1400.8" stroke="#000" stroke-width="4" stroke-linecap="butt"/>
<text x="471.3" y="1408.1" font-size="21" font-weight="bold" text-anchor="end" fill="#000">1.0</text>
<line x1="472.3" y1="1279.5" x2="478.3" y2="1279.5" stroke="#000" stroke-width="4" stroke-linecap="butt"/>
<text x="471.3" y="1286.8" font-size="21" font-weight="bold" text-anchor="end" fill="#000">1.5</text>
<line x1="509.5" y1="1643.5" x2="509.5" y2="1650.5" stroke="#000" stroke-width="4" stroke-linecap="butt"/>
<line x1="556.1" y1="1643.5" x2="556.1" y2="1650.5" stroke="#000" stroke-width="4" stroke-linecap="butt"/>
<line x1="602.7" y1="1643.5" x2="602.7" y2="1650.5" stroke="#000" stroke-width="4" stroke-linecap="butt"/>
<line x1="649.3" y1="1643.5" x2="649.3" y2="1650.5" stroke="#000" stroke-width="4" stroke-linecap="butt"/>
<line x1="695.2" y1="1643.5" x2="695.2" y2="1650.5" stroke="#000" stroke-width="4" stroke-linecap="butt"/>
<line x1="741.8" y1="1643.5" x2="741.8" y2="1650.5" stroke="#000" stroke-width="4" stroke-linecap="butt"/>
<line x1="788.0" y1="1643.5" x2="788.0" y2="1650.5" stroke="#000" stroke-width="4" stroke-linecap="butt"/>
<text x="503.0" y="1679.0" font-size="38" font-weight="bold" text-anchor="middle" fill="#000">A</text>
<text x="796.0" y="1680.0" font-size="38" font-weight="bold" text-anchor="middle" fill="#000">P</text>
<line x1="557.2" y1="1664.3" x2="705.5" y2="1664.3" stroke="#000" stroke-width="5.8" stroke-linecap="butt"/>
<path d="M725.5,1664.3 L697.5,1653.3 L705.5,1664.3 L697.5,1675.3 Z" fill="#000"/>
<text x="399.7" y="1456.3" font-size="36.33" font-weight="bold" text-anchor="middle" transform="rotate(-90 399.7 1456.3)">Mean gray value (x 10<tspan font-size="22.5" dy="-13.8">3</tspan><tspan dy="13.8">)</tspan></text>
<text x="438.7" y="1456.8" font-size="35.76" font-weight="bold" text-anchor="middle" transform="rotate(-90 438.7 1456.8)">per cell / section</text>
<polyline points="509.5,1362.9 556.1,1347.4 602.7,1361.0 649.3,1366.6 695.2,1387.2 741.8,1368.3 788.0,1361.0" fill="none" stroke="#fb800a" stroke-width="3.0" stroke-linejoin="round" stroke-linecap="butt" stroke-dasharray="12 5.5"/>
<polyline points="509.5,1421.9 556.1,1411.2 602.7,1416.6 649.3,1404.7 695.2,1421.4 741.8,1437.2 788.0,1434.5" fill="none" stroke="#0000ff" stroke-width="3.0" stroke-linejoin="round" stroke-linecap="butt" stroke-dasharray="12 5.5"/>
<polyline points="509.5,1380.9 556.1,1373.6 602.7,1369.0 649.3,1366.6 695.2,1393.5 741.8,1392.3 788.0,1426.3" fill="none" stroke="#0000ff" stroke-width="3.8" stroke-linejoin="round" stroke-linecap="butt"/>
<polyline points="509.5,1314.4 556.1,1327.0 602.7,1337.2 649.3,1346.9 695.2,1336.7 741.8,1325.3 788.0,1328.0" fill="none" stroke="#fb800a" stroke-width="3.3" stroke-linejoin="round" stroke-linecap="butt"/>
<line x1="509.5" y1="1362.9" x2="509.5" y2="1343.3" stroke="#fb800a" stroke-width="3.0" stroke-linecap="butt"/>
<line x1="502.0" y1="1343.3" x2="517.0" y2="1343.3" stroke="#fb800a" stroke-width="3.0" stroke-linecap="butt"/>
<line x1="556.1" y1="1347.4" x2="556.1" y2="1335.3" stroke="#fb800a" stroke-width="3.0" stroke-linecap="butt"/>
<line x1="548.6" y1="1335.3" x2="563.6" y2="1335.3" stroke="#fb800a" stroke-width="3.0" stroke-linecap="butt"/>
<line x1="602.7" y1="1361.0" x2="602.7" y2="1348.6" stroke="#fb800a" stroke-width="3.0" stroke-linecap="butt"/>
<line x1="595.2" y1="1348.6" x2="610.2" y2="1348.6" stroke="#fb800a" stroke-width="3.0" stroke-linecap="butt"/>
<line x1="649.3" y1="1366.6" x2="649.3" y2="1354.4" stroke="#fb800a" stroke-width="3.0" stroke-linecap="butt"/>
<line x1="641.8" y1="1354.4" x2="656.8" y2="1354.4" stroke="#fb800a" stroke-width="3.0" stroke-linecap="butt"/>
<line x1="695.2" y1="1387.2" x2="695.2" y2="1374.6" stroke="#fb800a" stroke-width="3.0" stroke-linecap="butt"/>
<line x1="687.7" y1="1374.6" x2="702.7" y2="1374.6" stroke="#fb800a" stroke-width="3.0" stroke-linecap="butt"/>
<line x1="741.8" y1="1368.3" x2="741.8" y2="1351.0" stroke="#fb800a" stroke-width="3.0" stroke-linecap="butt"/>
<line x1="734.3" y1="1351.0" x2="749.3" y2="1351.0" stroke="#fb800a" stroke-width="3.0" stroke-linecap="butt"/>
<line x1="788.0" y1="1361.0" x2="788.0" y2="1349.8" stroke="#fb800a" stroke-width="3.0" stroke-linecap="butt"/>
<line x1="780.5" y1="1349.8" x2="795.5" y2="1349.8" stroke="#fb800a" stroke-width="3.0" stroke-linecap="butt"/>
<rect x="503.2" y="1356.7" width="12.5" height="12.5" fill="none" stroke="#fb800a" stroke-width="1.9"/>
<rect x="549.9" y="1341.2" width="12.5" height="12.5" fill="none" stroke="#fb800a" stroke-width="1.9"/>
<rect x="596.5" y="1354.7" width="12.5" height="12.5" fill="none" stroke="#fb800a" stroke-width="1.9"/>
<rect x="643.0" y="1360.3" width="12.5" height="12.5" fill="none" stroke="#fb800a" stroke-width="1.9"/>
<rect x="689.0" y="1381.0" width="12.5" height="12.5" fill="none" stroke="#fb800a" stroke-width="1.9"/>
<rect x="735.5" y="1362.0" width="12.5" height="12.5" fill="none" stroke="#fb800a" stroke-width="1.9"/>
<rect x="781.8" y="1354.7" width="12.5" height="12.5" fill="none" stroke="#fb800a" stroke-width="1.9"/>
<line x1="509.5" y1="1445.2" x2="509.5" y2="1421.9" stroke="#0000ff" stroke-width="3.0" stroke-linecap="butt"/>
<line x1="502.0" y1="1445.2" x2="517.0" y2="1445.2" stroke="#0000ff" stroke-width="3.0" stroke-linecap="butt"/>
<line x1="556.1" y1="1430.9" x2="556.1" y2="1411.2" stroke="#0000ff" stroke-width="3.0" stroke-linecap="butt"/>
<line x1="548.6" y1="1430.9" x2="563.6" y2="1430.9" stroke="#0000ff" stroke-width="3.0" stroke-linecap="butt"/>
<line x1="602.7" y1="1448.1" x2="602.7" y2="1416.6" stroke="#0000ff" stroke-width="3.0" stroke-linecap="butt"/>
<line x1="595.2" y1="1448.1" x2="610.2" y2="1448.1" stroke="#0000ff" stroke-width="3.0" stroke-linecap="butt"/>
<line x1="649.3" y1="1429.9" x2="649.3" y2="1404.7" stroke="#0000ff" stroke-width="3.0" stroke-linecap="butt"/>
<line x1="641.8" y1="1429.9" x2="656.8" y2="1429.9" stroke="#0000ff" stroke-width="3.0" stroke-linecap="butt"/>
<line x1="695.2" y1="1433.6" x2="695.2" y2="1421.4" stroke="#0000ff" stroke-width="3.0" stroke-linecap="butt"/>
<line x1="687.7" y1="1433.6" x2="702.7" y2="1433.6" stroke="#0000ff" stroke-width="3.0" stroke-linecap="butt"/>
<line x1="741.8" y1="1450.6" x2="741.8" y2="1437.2" stroke="#0000ff" stroke-width="3.0" stroke-linecap="butt"/>
<line x1="734.3" y1="1450.6" x2="749.3" y2="1450.6" stroke="#0000ff" stroke-width="3.0" stroke-linecap="butt"/>
<line x1="788.0" y1="1465.1" x2="788.0" y2="1434.5" stroke="#0000ff" stroke-width="3.0" stroke-linecap="butt"/>
<line x1="780.5" y1="1465.1" x2="795.5" y2="1465.1" stroke="#0000ff" stroke-width="3.0" stroke-linecap="butt"/>
<circle cx="509.5" cy="1421.9" r="6.0" fill="none" stroke="#0000ff" stroke-width="1.9"/>
<circle cx="556.1" cy="1411.2" r="6.0" fill="none" stroke="#0000ff" stroke-width="1.9"/>
<circle cx="602.7" cy="1416.6" r="6.0" fill="none" stroke="#0000ff" stroke-width="1.9"/>
<circle cx="649.3" cy="1404.7" r="6.0" fill="none" stroke="#0000ff" stroke-width="1.9"/>
<circle cx="695.2" cy="1421.4" r="6.0" fill="none" stroke="#0000ff" stroke-width="1.9"/>
<circle cx="741.8" cy="1437.2" r="6.0" fill="none" stroke="#0000ff" stroke-width="1.9"/>
<circle cx="788.0" cy="1434.5" r="6.0" fill="none" stroke="#0000ff" stroke-width="1.9"/>
<line x1="509.5" y1="1399.8" x2="509.5" y2="1380.9" stroke="#0000ff" stroke-width="3.0" stroke-linecap="butt"/>
<line x1="502.0" y1="1399.8" x2="517.0" y2="1399.8" stroke="#0000ff" stroke-width="3.0" stroke-linecap="butt"/>
<line x1="556.1" y1="1394.0" x2="556.1" y2="1373.6" stroke="#0000ff" stroke-width="3.0" stroke-linecap="butt"/>
<line x1="548.6" y1="1394.0" x2="563.6" y2="1394.0" stroke="#0000ff" stroke-width="3.0" stroke-linecap="butt"/>
<line x1="602.7" y1="1395.9" x2="602.7" y2="1369.0" stroke="#0000ff" stroke-width="3.0" stroke-linecap="butt"/>
<line x1="595.2" y1="1395.9" x2="610.2" y2="1395.9" stroke="#0000ff" stroke-width="3.0" stroke-linecap="butt"/>
<line x1="649.3" y1="1396.7" x2="649.3" y2="1366.6" stroke="#0000ff" stroke-width="3.0" stroke-linecap="butt"/>
<line x1="641.8" y1="1396.7" x2="656.8" y2="1396.7" stroke="#0000ff" stroke-width="3.0" stroke-linecap="butt"/>
<line x1="695.2" y1="1413.2" x2="695.2" y2="1393.5" stroke="#0000ff" stroke-width="3.0" stroke-linecap="butt"/>
<line x1="687.7" y1="1413.2" x2="702.7" y2="1413.2" stroke="#0000ff" stroke-width="3.0" stroke-linecap="butt"/>
<line x1="741.8" y1="1423.1" x2="741.8" y2="1392.3" stroke="#0000ff" stroke-width="3.0" stroke-linecap="butt"/>
<line x1="734.3" y1="1423.1" x2="749.3" y2="1423.1" stroke="#0000ff" stroke-width="3.0" stroke-linecap="butt"/>
<line x1="788.0" y1="1471.4" x2="788.0" y2="1426.3" stroke="#0000ff" stroke-width="3.0" stroke-linecap="butt"/>
<line x1="780.5" y1="1471.4" x2="795.5" y2="1471.4" stroke="#0000ff" stroke-width="3.0" stroke-linecap="butt"/>
<circle cx="509.5" cy="1380.9" r="5.5" fill="#0000ff"/>
<circle cx="556.1" cy="1373.6" r="5.5" fill="#0000ff"/>
<circle cx="602.7" cy="1369.0" r="5.5" fill="#0000ff"/>
<circle cx="649.3" cy="1366.6" r="5.5" fill="#0000ff"/>
<circle cx="695.2" cy="1393.5" r="5.5" fill="#0000ff"/>
<circle cx="741.8" cy="1392.3" r="5.5" fill="#0000ff"/>
<circle cx="788.0" cy="1426.3" r="5.5" fill="#0000ff"/>
<line x1="509.5" y1="1314.4" x2="509.5" y2="1288.4" stroke="#fb800a" stroke-width="3.0" stroke-linecap="butt"/>
<line x1="502.0" y1="1288.4" x2="517.0" y2="1288.4" stroke="#fb800a" stroke-width="3.0" stroke-linecap="butt"/>
<line x1="556.1" y1="1327.0" x2="556.1" y2="1309.1" stroke="#fb800a" stroke-width="3.0" stroke-linecap="butt"/>
<line x1="548.6" y1="1309.1" x2="563.6" y2="1309.1" stroke="#fb800a" stroke-width="3.0" stroke-linecap="butt"/>
<line x1="602.7" y1="1337.2" x2="602.7" y2="1320.0" stroke="#fb800a" stroke-width="3.0" stroke-linecap="butt"/>
<line x1="595.2" y1="1320.0" x2="610.2" y2="1320.0" stroke="#fb800a" stroke-width="3.0" stroke-linecap="butt"/>
<line x1="649.3" y1="1346.9" x2="649.3" y2="1333.1" stroke="#fb800a" stroke-width="3.0" stroke-linecap="butt"/>
<line x1="641.8" y1="1333.1" x2="656.8" y2="1333.1" stroke="#fb800a" stroke-width="3.0" stroke-linecap="butt"/>
<line x1="695.2" y1="1336.7" x2="695.2" y2="1321.7" stroke="#fb800a" stroke-width="3.0" stroke-linecap="butt"/>
<line x1="687.7" y1="1321.7" x2="702.7" y2="1321.7" stroke="#fb800a" stroke-width="3.0" stroke-linecap="butt"/>
<line x1="741.8" y1="1325.3" x2="741.8" y2="1302.7" stroke="#fb800a" stroke-width="3.0" stroke-linecap="butt"/>
<line x1="734.3" y1="1302.7" x2="749.3" y2="1302.7" stroke="#fb800a" stroke-width="3.0" stroke-linecap="butt"/>
<line x1="788.0" y1="1328.0" x2="788.0" y2="1310.3" stroke="#fb800a" stroke-width="3.0" stroke-linecap="butt"/>
<line x1="780.5" y1="1310.3" x2="795.5" y2="1310.3" stroke="#fb800a" stroke-width="3.0" stroke-linecap="butt"/>
<rect x="504.6" y="1309.5" width="9.8" height="9.8" fill="#fb800a"/>
<rect x="551.2" y="1322.1" width="9.8" height="9.8" fill="#fb800a"/>
<rect x="597.8" y="1332.3" width="9.8" height="9.8" fill="#fb800a"/>
<rect x="644.4" y="1342.0" width="9.8" height="9.8" fill="#fb800a"/>
<rect x="690.3" y="1331.8" width="9.8" height="9.8" fill="#fb800a"/>
<rect x="736.9" y="1320.4" width="9.8" height="9.8" fill="#fb800a"/>
<rect x="783.1" y="1323.1" width="9.8" height="9.8" fill="#fb800a"/>
<line x1="576.0" y1="1503.1" x2="594.0" y2="1503.1" stroke="#0000ff" stroke-width="3.2" stroke-linecap="butt"/>
<circle cx="585.0" cy="1503.1" r="5.3" fill="none" stroke="#0000ff" stroke-width="2.0"/>
<text x="601.3" y="1510.8" font-size="22.3" font-weight="normal" text-anchor="start" fill="#000">CON-VEH</text>
<line x1="576.0" y1="1534.9" x2="594.0" y2="1534.9" stroke="#fb800a" stroke-width="3.2" stroke-linecap="butt"/>
<rect x="578.8" y="1528.7" width="12.4" height="12.4" fill="none" stroke="#fb800a" stroke-width="2.0"/>
<text x="601.3" y="1537.5" font-size="22.3" font-weight="normal" text-anchor="start" fill="#000">CON-VIT<tspan font-size="15.61" dy="7.0">D</tspan></text>
<line x1="576.0" y1="1565.9" x2="594.0" y2="1565.9" stroke="#0000ff" stroke-width="3.2" stroke-linecap="butt"/>
<circle cx="585.0" cy="1565.9" r="5.6" fill="#0000ff"/>
<text x="601.3" y="1573.6" font-size="22.3" font-weight="normal" text-anchor="start" fill="#000">POL-VEH</text>
<line x1="576.0" y1="1597.7" x2="594.0" y2="1597.7" stroke="#fb800a" stroke-width="3.2" stroke-linecap="butt"/>
<rect x="580.1" y="1592.8" width="9.8" height="9.8" fill="#fb800a"/>
<text x="601.3" y="1602.0" font-size="22.3" font-weight="normal" text-anchor="start" fill="#000">POL-VIT<tspan font-size="15.61" dy="7.0">D</tspan></text>
<polyline points="576.0,1500.5 559.1,1500.5 559.1,1568.4 576.0,1568.4" fill="none" stroke="#000" stroke-width="3.4" stroke-linejoin="miter" stroke-linecap="butt"/>
<polyline points="574.0,1534.0 549.7,1534.0 549.7,1598.5 577.0,1598.5" fill="none" stroke="#000" stroke-width="3.4" stroke-linejoin="miter" stroke-linecap="butt"/>
<polyline points="559.1,1516.8 532.1,1516.8 532.1,1574.5 549.7,1574.5" fill="none" stroke="#000" stroke-width="3.4" stroke-linejoin="miter" stroke-linecap="butt"/>
<text x="487.2" y="1572.7" font-size="46" font-weight="normal" text-anchor="start" fill="#000">**</text>
<text x="357.0" y="1228.0" font-size="56" font-weight="bold" text-anchor="start" fill="#000">H</text>
<line x1="467.6" y1="1875.2" x2="467.6" y2="2228.1" stroke="#000" stroke-width="4" stroke-linecap="butt"/>
<line x1="465.6" y1="2226.1" x2="815.2" y2="2226.1" stroke="#000" stroke-width="4" stroke-linecap="butt"/>
<line x1="461.6" y1="2226.1" x2="467.6" y2="2226.1" stroke="#000" stroke-width="4" stroke-linecap="butt"/>
<text x="460.6" y="2233.4" font-size="21" font-weight="bold" text-anchor="end" fill="#000">0</text>
<line x1="461.6" y1="2109.8" x2="467.6" y2="2109.8" stroke="#000" stroke-width="4" stroke-linecap="butt"/>
<text x="460.6" y="2117.1" font-size="21" font-weight="bold" text-anchor="end" fill="#000">1</text>
<line x1="461.6" y1="1993.5" x2="467.6" y2="1993.5" stroke="#000" stroke-width="4" stroke-linecap="butt"/>
<text x="460.6" y="2000.8" font-size="21" font-weight="bold" text-anchor="end" fill="#000">2</text>
<line x1="461.6" y1="1877.2" x2="467.6" y2="1877.2" stroke="#000" stroke-width="4" stroke-linecap="butt"/>
<text x="460.6" y="1884.5" font-size="21" font-weight="bold" text-anchor="end" fill="#000">3</text>
<line x1="498.7" y1="2226.1" x2="498.7" y2="2233.1" stroke="#000" stroke-width="4" stroke-linecap="butt"/>
<line x1="546.4" y1="2226.1" x2="546.4" y2="2233.1" stroke="#000" stroke-width="4" stroke-linecap="butt"/>
<line x1="593.7" y1="2226.1" x2="593.7" y2="2233.1" stroke="#000" stroke-width="4" stroke-linecap="butt"/>
<line x1="641.0" y1="2226.1" x2="641.0" y2="2233.1" stroke="#000" stroke-width="4" stroke-linecap="butt"/>
<line x1="688.7" y1="2226.1" x2="688.7" y2="2233.1" stroke="#000" stroke-width="4" stroke-linecap="butt"/>
<line x1="736.0" y1="2226.1" x2="736.0" y2="2233.1" stroke="#000" stroke-width="4" stroke-linecap="butt"/>
<line x1="783.7" y1="2226.1" x2="783.7" y2="2233.1" stroke="#000" stroke-width="4" stroke-linecap="butt"/>
<text x="496.6" y="2259.8" font-size="38" font-weight="bold" text-anchor="middle" fill="#000">A</text>
<text x="790.3" y="2260.8" font-size="38" font-weight="bold" text-anchor="middle" fill="#000">P</text>
<line x1="551.6" y1="2245.1" x2="700.1" y2="2245.1" stroke="#000" stroke-width="5" stroke-linecap="butt"/>
<path d="M720.1,2245.1 L692.1,2234.1 L700.1,2245.1 L692.1,2256.1 Z" fill="#000"/>
<text x="400.0" y="2046.9" font-size="34.66" font-weight="bold" text-anchor="middle" transform="rotate(-90 400.0 2046.9)">Mean gray value (x 10<tspan font-size="21.5" dy="-13.2">3</tspan><tspan dy="13.2">)</tspan></text>
<text x="440.3" y="2047.2" font-size="34.09" font-weight="bold" text-anchor="middle" transform="rotate(-90 440.3 2047.2)">per cell / section</text>
<polyline points="498.7,1974.9 546.4,1958.6 593.7,1950.5 641.0,1966.8 688.7,2016.8 736.0,2035.4 783.7,2057.5" fill="none" stroke="#fb800a" stroke-width="3.0" stroke-linejoin="round" stroke-linecap="butt" stroke-dasharray="12 5.5"/>
<polyline points="498.7,2027.2 546.4,2019.1 593.7,2016.8 641.0,2030.7 688.7,2059.8 736.0,2091.2 783.7,2094.7" fill="none" stroke="#0000ff" stroke-width="3.0" stroke-linejoin="round" stroke-linecap="butt" stroke-dasharray="12 5.5"/>
<polyline points="498.7,1992.3 546.4,1979.5 593.7,1997.0 641.0,2016.8 688.7,2056.3 736.0,2070.3 783.7,2086.5" fill="none" stroke="#0000ff" stroke-width="3.8" stroke-linejoin="round" stroke-linecap="butt"/>
<polyline points="498.7,1943.5 546.4,1944.7 593.7,1955.1 641.0,1962.1 688.7,2000.5 736.0,2026.1 783.7,2049.3" fill="none" stroke="#fb800a" stroke-width="3.3" stroke-linejoin="round" stroke-linecap="butt"/>
<line x1="498.7" y1="1974.9" x2="498.7" y2="1957.4" stroke="#fb800a" stroke-width="3.0" stroke-linecap="butt"/>
<line x1="491.2" y1="1957.4" x2="506.2" y2="1957.4" stroke="#fb800a" stroke-width="3.0" stroke-linecap="butt"/>
<line x1="546.4" y1="1958.6" x2="546.4" y2="1933.0" stroke="#fb800a" stroke-width="3.0" stroke-linecap="butt"/>
<line x1="538.9" y1="1933.0" x2="553.9" y2="1933.0" stroke="#fb800a" stroke-width="3.0" stroke-linecap="butt"/>
<line x1="593.7" y1="1950.5" x2="593.7" y2="1934.2" stroke="#fb800a" stroke-width="3.0" stroke-linecap="butt"/>
<line x1="586.2" y1="1934.2" x2="601.2" y2="1934.2" stroke="#fb800a" stroke-width="3.0" stroke-linecap="butt"/>
<line x1="641.0" y1="1966.8" x2="641.0" y2="1945.8" stroke="#fb800a" stroke-width="3.0" stroke-linecap="butt"/>
<line x1="633.5" y1="1945.8" x2="648.5" y2="1945.8" stroke="#fb800a" stroke-width="3.0" stroke-linecap="butt"/>
<line x1="688.7" y1="2016.8" x2="688.7" y2="1991.2" stroke="#fb800a" stroke-width="3.0" stroke-linecap="butt"/>
<line x1="681.2" y1="1991.2" x2="696.2" y2="1991.2" stroke="#fb800a" stroke-width="3.0" stroke-linecap="butt"/>
<line x1="736.0" y1="2035.4" x2="736.0" y2="2012.1" stroke="#fb800a" stroke-width="3.0" stroke-linecap="butt"/>
<line x1="728.5" y1="2012.1" x2="743.5" y2="2012.1" stroke="#fb800a" stroke-width="3.0" stroke-linecap="butt"/>
<line x1="783.7" y1="2057.5" x2="783.7" y2="2040.0" stroke="#fb800a" stroke-width="3.0" stroke-linecap="butt"/>
<line x1="776.2" y1="2040.0" x2="791.2" y2="2040.0" stroke="#fb800a" stroke-width="3.0" stroke-linecap="butt"/>
<rect x="492.4" y="1968.6" width="12.5" height="12.5" fill="none" stroke="#fb800a" stroke-width="1.9"/>
<rect x="540.1" y="1952.4" width="12.5" height="12.5" fill="none" stroke="#fb800a" stroke-width="1.9"/>
<rect x="587.5" y="1944.2" width="12.5" height="12.5" fill="none" stroke="#fb800a" stroke-width="1.9"/>
<rect x="634.8" y="1960.5" width="12.5" height="12.5" fill="none" stroke="#fb800a" stroke-width="1.9"/>
<rect x="682.5" y="2010.5" width="12.5" height="12.5" fill="none" stroke="#fb800a" stroke-width="1.9"/>
<rect x="729.8" y="2029.1" width="12.5" height="12.5" fill="none" stroke="#fb800a" stroke-width="1.9"/>
<rect x="777.5" y="2051.2" width="12.5" height="12.5" fill="none" stroke="#fb800a" stroke-width="1.9"/>
<line x1="498.7" y1="2040.0" x2="498.7" y2="2027.2" stroke="#0000ff" stroke-width="3.0" stroke-linecap="butt"/>
<line x1="491.2" y1="2040.0" x2="506.2" y2="2040.0" stroke="#0000ff" stroke-width="3.0" stroke-linecap="butt"/>
<line x1="546.4" y1="2026.1" x2="546.4" y2="2019.1" stroke="#0000ff" stroke-width="3.0" stroke-linecap="butt"/>
<line x1="538.9" y1="2026.1" x2="553.9" y2="2026.1" stroke="#0000ff" stroke-width="3.0" stroke-linecap="butt"/>
<line x1="593.7" y1="2034.2" x2="593.7" y2="2016.8" stroke="#0000ff" stroke-width="3.0" stroke-linecap="butt"/>
<line x1="586.2" y1="2034.2" x2="601.2" y2="2034.2" stroke="#0000ff" stroke-width="3.0" stroke-linecap="butt"/>
<line x1="641.0" y1="2045.8" x2="641.0" y2="2030.7" stroke="#0000ff" stroke-width="3.0" stroke-linecap="butt"/>
<line x1="633.5" y1="2045.8" x2="648.5" y2="2045.8" stroke="#0000ff" stroke-width="3.0" stroke-linecap="butt"/>
<line x1="688.7" y1="2066.8" x2="688.7" y2="2059.8" stroke="#0000ff" stroke-width="3.0" stroke-linecap="butt"/>
<line x1="681.2" y1="2066.8" x2="696.2" y2="2066.8" stroke="#0000ff" stroke-width="3.0" stroke-linecap="butt"/>
<line x1="736.0" y1="2101.7" x2="736.0" y2="2091.2" stroke="#0000ff" stroke-width="3.0" stroke-linecap="butt"/>
<line x1="728.5" y1="2101.7" x2="743.5" y2="2101.7" stroke="#0000ff" stroke-width="3.0" stroke-linecap="butt"/>
<line x1="783.7" y1="2117.9" x2="783.7" y2="2094.7" stroke="#0000ff" stroke-width="3.0" stroke-linecap="butt"/>
<line x1="776.2" y1="2117.9" x2="791.2" y2="2117.9" stroke="#0000ff" stroke-width="3.0" stroke-linecap="butt"/>
<circle cx="498.7" cy="2027.2" r="6.0" fill="none" stroke="#0000ff" stroke-width="1.9"/>
<circle cx="546.4" cy="2019.1" r="6.0" fill="none" stroke="#0000ff" stroke-width="1.9"/>
<circle cx="593.7" cy="2016.8" r="6.0" fill="none" stroke="#0000ff" stroke-width="1.9"/>
<circle cx="641.0" cy="2030.7" r="6.0" fill="none" stroke="#0000ff" stroke-width="1.9"/>
<circle cx="688.7" cy="2059.8" r="6.0" fill="none" stroke="#0000ff" stroke-width="1.9"/>
<circle cx="736.0" cy="2091.2" r="6.0" fill="none" stroke="#0000ff" stroke-width="1.9"/>
<circle cx="783.7" cy="2094.7" r="6.0" fill="none" stroke="#0000ff" stroke-width="1.9"/>
<line x1="498.7" y1="2009.2" x2="498.7" y2="1992.3" stroke="#0000ff" stroke-width="3.0" stroke-linecap="butt"/>
<line x1="491.2" y1="2009.2" x2="506.2" y2="2009.2" stroke="#0000ff" stroke-width="3.0" stroke-linecap="butt"/>
<line x1="546.4" y1="1999.3" x2="546.4" y2="1979.5" stroke="#0000ff" stroke-width="3.0" stroke-linecap="butt"/>
<line x1="538.9" y1="1999.3" x2="553.9" y2="1999.3" stroke="#0000ff" stroke-width="3.0" stroke-linecap="butt"/>
<line x1="593.7" y1="2034.2" x2="593.7" y2="1997.0" stroke="#0000ff" stroke-width="3.0" stroke-linecap="butt"/>
<line x1="586.2" y1="2034.2" x2="601.2" y2="2034.2" stroke="#0000ff" stroke-width="3.0" stroke-linecap="butt"/>
<line x1="641.0" y1="2043.5" x2="641.0" y2="2016.8" stroke="#0000ff" stroke-width="3.0" stroke-linecap="butt"/>
<line x1="633.5" y1="2043.5" x2="648.5" y2="2043.5" stroke="#0000ff" stroke-width="3.0" stroke-linecap="butt"/>
<line x1="688.7" y1="2069.1" x2="688.7" y2="2056.3" stroke="#0000ff" stroke-width="3.0" stroke-linecap="butt"/>
<line x1="681.2" y1="2069.1" x2="696.2" y2="2069.1" stroke="#0000ff" stroke-width="3.0" stroke-linecap="butt"/>
<line x1="736.0" y1="2079.6" x2="736.0" y2="2070.3" stroke="#0000ff" stroke-width="3.0" stroke-linecap="butt"/>
<line x1="728.5" y1="2079.6" x2="743.5" y2="2079.6" stroke="#0000ff" stroke-width="3.0" stroke-linecap="butt"/>
<line x1="783.7" y1="2106.3" x2="783.7" y2="2086.5" stroke="#0000ff" stroke-width="3.0" stroke-linecap="butt"/>
<line x1="776.2" y1="2106.3" x2="791.2" y2="2106.3" stroke="#0000ff" stroke-width="3.0" stroke-linecap="butt"/>
<circle cx="498.7" cy="1992.3" r="5.5" fill="#0000ff"/>
<circle cx="546.4" cy="1979.5" r="5.5" fill="#0000ff"/>
<circle cx="593.7" cy="1997.0" r="5.5" fill="#0000ff"/>
<circle cx="641.0" cy="2016.8" r="5.5" fill="#0000ff"/>
<circle cx="688.7" cy="2056.3" r="5.5" fill="#0000ff"/>
<circle cx="736.0" cy="2070.3" r="5.5" fill="#0000ff"/>
<circle cx="783.7" cy="2086.5" r="5.5" fill="#0000ff"/>
<line x1="498.7" y1="1943.5" x2="498.7" y2="1921.4" stroke="#fb800a" stroke-width="3.0" stroke-linecap="butt"/>
<line x1="491.2" y1="1921.4" x2="506.2" y2="1921.4" stroke="#fb800a" stroke-width="3.0" stroke-linecap="butt"/>
<line x1="546.4" y1="1944.7" x2="546.4" y2="1917.9" stroke="#fb800a" stroke-width="3.0" stroke-linecap="butt"/>
<line x1="538.9" y1="1917.9" x2="553.9" y2="1917.9" stroke="#fb800a" stroke-width="3.0" stroke-linecap="butt"/>
<line x1="593.7" y1="1955.1" x2="593.7" y2="1923.7" stroke="#fb800a" stroke-width="3.0" stroke-linecap="butt"/>
<line x1="586.2" y1="1923.7" x2="601.2" y2="1923.7" stroke="#fb800a" stroke-width="3.0" stroke-linecap="butt"/>
<line x1="641.0" y1="1962.1" x2="641.0" y2="1933.0" stroke="#fb800a" stroke-width="3.0" stroke-linecap="butt"/>
<line x1="633.5" y1="1933.0" x2="648.5" y2="1933.0" stroke="#fb800a" stroke-width="3.0" stroke-linecap="butt"/>
<line x1="688.7" y1="2000.5" x2="688.7" y2="1983.0" stroke="#fb800a" stroke-width="3.0" stroke-linecap="butt"/>
<line x1="681.2" y1="1983.0" x2="696.2" y2="1983.0" stroke="#fb800a" stroke-width="3.0" stroke-linecap="butt"/>
<line x1="736.0" y1="2026.1" x2="736.0" y2="2008.6" stroke="#fb800a" stroke-width="3.0" stroke-linecap="butt"/>
<line x1="728.5" y1="2008.6" x2="743.5" y2="2008.6" stroke="#fb800a" stroke-width="3.0" stroke-linecap="butt"/>
<line x1="783.7" y1="2049.3" x2="783.7" y2="2036.5" stroke="#fb800a" stroke-width="3.0" stroke-linecap="butt"/>
<line x1="776.2" y1="2036.5" x2="791.2" y2="2036.5" stroke="#fb800a" stroke-width="3.0" stroke-linecap="butt"/>
<rect x="493.8" y="1938.6" width="9.8" height="9.8" fill="#fb800a"/>
<rect x="541.5" y="1939.8" width="9.8" height="9.8" fill="#fb800a"/>
<rect x="588.8" y="1950.2" width="9.8" height="9.8" fill="#fb800a"/>
<rect x="636.1" y="1957.2" width="9.8" height="9.8" fill="#fb800a"/>
<rect x="683.8" y="1995.6" width="9.8" height="9.8" fill="#fb800a"/>
<rect x="731.1" y="2021.2" width="9.8" height="9.8" fill="#fb800a"/>
<rect x="778.8" y="2044.4" width="9.8" height="9.8" fill="#fb800a"/>
<line x1="563.2" y1="2118.6" x2="581.2" y2="2118.6" stroke="#0000ff" stroke-width="3.2" stroke-linecap="butt"/>
<circle cx="572.2" cy="2118.6" r="5.3" fill="none" stroke="#0000ff" stroke-width="2.0"/>
<text x="588.9" y="2125.8" font-size="22.7" font-weight="normal" text-anchor="start" fill="#000">CON-VEH</text>
<line x1="563.2" y1="2149.0" x2="581.2" y2="2149.0" stroke="#fb800a" stroke-width="3.2" stroke-linecap="butt"/>
<rect x="566.0" y="2142.8" width="12.4" height="12.4" fill="none" stroke="#fb800a" stroke-width="2.0"/>
<text x="588.9" y="2152.5" font-size="22.7" font-weight="normal" text-anchor="start" fill="#000">CON-VIT<tspan font-size="15.889999999999999" dy="7.2">D</tspan></text>
<line x1="563.2" y1="2179.1" x2="581.2" y2="2179.1" stroke="#0000ff" stroke-width="3.2" stroke-linecap="butt"/>
<circle cx="572.2" cy="2179.1" r="5.6" fill="#0000ff"/>
<text x="588.9" y="2186.0" font-size="22.7" font-weight="normal" text-anchor="start" fill="#000">POL-VEH</text>
<line x1="563.2" y1="2208.7" x2="581.2" y2="2208.7" stroke="#fb800a" stroke-width="3.2" stroke-linecap="butt"/>
<rect x="567.3" y="2203.8" width="9.8" height="9.8" fill="#fb800a"/>
<text x="588.9" y="2212.7" font-size="22.7" font-weight="normal" text-anchor="start" fill="#000">POL-VIT<tspan font-size="15.889999999999999" dy="7.2">D</tspan></text>
<polyline points="563.0,2116.3 545.0,2116.3 545.0,2180.9 562.0,2180.9" fill="none" stroke="#000" stroke-width="3.4" stroke-linejoin="miter" stroke-linecap="butt"/>
<polyline points="561.0,2147.3 535.5,2147.3 535.5,2209.2 564.0,2209.2" fill="none" stroke="#000" stroke-width="3.4" stroke-linejoin="miter" stroke-linecap="butt"/>
<polyline points="545.0,2131.8 518.3,2131.8 518.3,2186.9 535.5,2186.9" fill="none" stroke="#000" stroke-width="3.4" stroke-linejoin="miter" stroke-linecap="butt"/>
<text x="472.2" y="2183.4" font-size="46" font-weight="normal" text-anchor="start" fill="#000">**</text>
<text x="357.0" y="1794.0" font-size="56" font-weight="bold" text-anchor="start" fill="#000">K</text>
<line x1="953.8" y1="73.0" x2="953.8" y2="156.3" stroke="#000" stroke-width="3.6" stroke-linecap="butt"/>
<line x1="952.0" y1="154.5" x2="1369.5" y2="154.5" stroke="#000" stroke-width="3.6" stroke-linecap="butt"/>
<line x1="953.8" y1="154.5" x2="953.8" y2="161.5" stroke="#000" stroke-width="3.6" stroke-linecap="butt"/>
<line x1="1091.5" y1="154.5" x2="1091.5" y2="161.5" stroke="#000" stroke-width="3.6" stroke-linecap="butt"/>
<line x1="1229.0" y1="154.5" x2="1229.0" y2="161.5" stroke="#000" stroke-width="3.6" stroke-linecap="butt"/>
<line x1="1366.5" y1="154.5" x2="1366.5" y2="161.5" stroke="#000" stroke-width="3.6" stroke-linecap="butt"/>
<line x1="946.8" y1="85.8" x2="953.8" y2="85.8" stroke="#000" stroke-width="3.6" stroke-linecap="butt"/>
<line x1="1075.8" y1="85.8" x2="1083.8" y2="85.8" stroke="#0000ff" stroke-width="2.8" stroke-linecap="butt"/>
<line x1="1083.8" y1="81.8" x2="1083.8" y2="89.8" stroke="#0000ff" stroke-width="2.8" stroke-linecap="round"/>
<rect x="957.0" y="79.9" width="117.4" height="11.8" fill="#fff" stroke="#0000ff" stroke-width="2.8"/>
<text transform="translate(944.3 91.3) scale(1.105 1)" font-size="16.8" font-weight="bold" text-anchor="end">CON-VEH</text>
<line x1="946.8" y1="104.2" x2="953.8" y2="104.2" stroke="#000" stroke-width="3.6" stroke-linecap="butt"/>
<line x1="1087.9" y1="104.2" x2="1092.9" y2="104.2" stroke="#fb800a" stroke-width="2.8" stroke-linecap="butt"/>
<line x1="1092.9" y1="100.2" x2="1092.9" y2="108.2" stroke="#fb800a" stroke-width="2.8" stroke-linecap="round"/>
<rect x="957.0" y="98.1" width="129.5" height="12.3" fill="#fff" stroke="#fb800a" stroke-width="2.8"/>
<text transform="translate(944.3 107.3) scale(1.105 1)" font-size="16.8" font-weight="bold" text-anchor="end">CON-VIT<tspan font-size="12.9" dy="5.3">D</tspan></text>
<line x1="946.8" y1="122.9" x2="953.8" y2="122.9" stroke="#000" stroke-width="3.6" stroke-linecap="butt"/>
<line x1="1081.2" y1="122.9" x2="1088.3" y2="122.9" stroke="#0000ff" stroke-width="2.8" stroke-linecap="butt"/>
<line x1="1088.3" y1="118.9" x2="1088.3" y2="126.9" stroke="#0000ff" stroke-width="2.8" stroke-linecap="round"/>
<rect x="955.6" y="115.2" width="125.6" height="15.5" fill="#0000ff"/>
<text transform="translate(944.3 128.4) scale(1.105 1)" font-size="16.8" font-weight="bold" text-anchor="end">POL-VEH</text>
<line x1="946.8" y1="141.9" x2="953.8" y2="141.9" stroke="#000" stroke-width="3.6" stroke-linecap="butt"/>
<line x1="1084.8" y1="141.9" x2="1091.9" y2="141.9" stroke="#fb800a" stroke-width="2.8" stroke-linecap="butt"/>
<line x1="1091.9" y1="137.9" x2="1091.9" y2="145.9" stroke="#fb800a" stroke-width="2.8" stroke-linecap="round"/>
<rect x="955.6" y="133.9" width="129.2" height="16.1" fill="#fb800a"/>
<text transform="translate(944.3 145.0) scale(1.105 1)" font-size="16.8" font-weight="bold" text-anchor="end">POL-VIT<tspan font-size="12.9" dy="5.3">D</tspan></text>
<line x1="1104.9" y1="81.0" x2="1104.9" y2="145.8" stroke="#000" stroke-width="4" stroke-linecap="round"/>
<text x="1118.0" y="120.2" font-size="56" font-weight="normal" text-anchor="start" fill="#000">n.s.</text>
<line x1="951.7" y1="169.2" x2="951.7" y2="473.4" stroke="#000" stroke-width="3.2" stroke-linecap="butt"/>
<line x1="950.1" y1="471.8" x2="1371.2" y2="471.8" stroke="#000" stroke-width="3.2" stroke-linecap="butt"/>
<line x1="945.7" y1="471.8" x2="951.7" y2="471.8" stroke="#000" stroke-width="3.2" stroke-linecap="butt"/>
<text x="945.4" y="479.6" font-size="21.8" font-weight="bold" text-anchor="end" fill="#000">0</text>
<line x1="945.7" y1="411.6" x2="951.7" y2="411.6" stroke="#000" stroke-width="3.2" stroke-linecap="butt"/>
<text x="945.4" y="419.4" font-size="21.8" font-weight="bold" text-anchor="end" fill="#000">50</text>
<line x1="945.7" y1="351.4" x2="951.7" y2="351.4" stroke="#000" stroke-width="3.2" stroke-linecap="butt"/>
<text x="945.4" y="359.2" font-size="21.8" font-weight="bold" text-anchor="end" fill="#000">100</text>
<line x1="945.7" y1="291.2" x2="951.7" y2="291.2" stroke="#000" stroke-width="3.2" stroke-linecap="butt"/>
<text x="945.4" y="299.0" font-size="21.8" font-weight="bold" text-anchor="end" fill="#000">150</text>
<line x1="945.7" y1="231.0" x2="951.7" y2="231.0" stroke="#000" stroke-width="3.2" stroke-linecap="butt"/>
<text x="945.4" y="238.8" font-size="21.8" font-weight="bold" text-anchor="end" fill="#000">200</text>
<line x1="945.7" y1="170.8" x2="951.7" y2="170.8" stroke="#000" stroke-width="3.2" stroke-linecap="butt"/>
<text x="945.4" y="178.6" font-size="21.8" font-weight="bold" text-anchor="end" fill="#000">250</text>
<line x1="951.7" y1="471.8" x2="951.7" y2="477.8" stroke="#000" stroke-width="3.2" stroke-linecap="butt"/>
<text x="951.7" y="496.4" font-size="21.8" font-weight="bold" text-anchor="middle" fill="#000">0</text>
<line x1="1091.0" y1="471.8" x2="1091.0" y2="477.8" stroke="#000" stroke-width="3.2" stroke-linecap="butt"/>
<text x="1091.0" y="496.4" font-size="21.8" font-weight="bold" text-anchor="middle" fill="#000">1</text>
<line x1="1230.3" y1="471.8" x2="1230.3" y2="477.8" stroke="#000" stroke-width="3.2" stroke-linecap="butt"/>
<text x="1230.3" y="496.4" font-size="21.8" font-weight="bold" text-anchor="middle" fill="#000">2</text>
<line x1="1369.6" y1="471.8" x2="1369.6" y2="477.8" stroke="#000" stroke-width="3.2" stroke-linecap="butt"/>
<text x="1369.6" y="496.4" font-size="21.8" font-weight="bold" text-anchor="middle" fill="#000">3</text>
<text x="900.3" y="321.8" font-size="25.28" font-weight="bold" text-anchor="middle" transform="rotate(-90 900.3 321.8)">Cell number per bin</text>
<text x="1161.8" y="525.7" font-size="26.14" font-weight="bold" text-anchor="middle">Bins (mean gray value x 10<tspan font-size="16.2" dy="-9.9">3</tspan><tspan dy="9.9">)</tspan></text>
<polyline points="951.7,448.0 953.8,445.8 955.9,443.4 958.0,440.9 960.1,438.2 962.1,435.3 964.2,432.2 966.3,429.0 968.4,425.5 970.5,421.9 972.6,418.0 974.7,414.0 976.8,409.8 978.9,405.4 981.0,400.7 983.0,395.9 985.1,390.9 987.2,385.7 989.3,380.3 991.4,374.8 993.5,369.1 995.6,363.2 997.7,357.2 999.8,351.1 1001.8,344.9 1003.9,338.5 1006.0,332.1 1008.1,325.7 1010.2,319.1 1012.3,312.6 1014.4,306.1 1016.5,299.5 1018.6,293.1 1020.7,286.7 1022.7,280.4 1024.8,274.2 1026.9,268.1 1029.0,262.3 1031.1,256.6 1033.2,251.1 1035.3,245.9 1037.4,241.0 1039.5,236.3 1041.5,232.0 1043.6,227.9 1045.7,224.3 1047.8,221.0 1049.9,218.1 1052.0,215.6 1054.1,213.5 1056.2,211.8 1058.3,210.5 1060.4,209.7 1062.4,209.4 1064.5,209.4 1066.6,209.9 1068.7,210.9 1070.8,212.3 1072.9,214.1 1075.0,216.3 1077.1,219.0 1079.2,222.0 1081.2,225.5 1083.3,229.2 1085.4,233.4 1087.5,237.8 1089.6,242.6 1091.7,247.6 1093.8,252.9 1095.9,258.5 1098.0,264.2 1100.1,270.1 1102.1,276.2 1104.2,282.5 1106.3,288.8 1108.4,295.2 1110.5,301.7 1112.6,308.2 1114.7,314.8 1116.8,321.3 1118.9,327.8 1120.9,334.3 1123.0,340.7 1125.1,347.0 1127.2,353.2 1129.3,359.3 1131.4,365.2 1133.5,371.0 1135.6,376.7 1137.7,382.1 1139.8,387.5 1141.8,392.6 1143.9,397.5 1146.0,402.3 1148.1,406.8 1150.2,411.2 1152.3,415.4 1154.4,419.3 1156.5,423.1 1158.6,426.7 1160.7,430.1 1162.7,433.3 1164.8,436.3 1166.9,439.1 1169.0,441.8 1171.1,444.3 1173.2,446.6 1175.3,448.7 1177.4,450.8 1179.5,452.6 1181.5,454.4 1183.6,456.0 1185.7,457.4 1187.8,458.8 1189.9,460.1 1192.0,461.2 1194.1,462.3 1196.2,463.2 1198.3,464.1 1200.4,464.9 1202.4,465.6 1204.5,466.3 1206.6,466.9 1208.7,467.4 1210.8,467.9 1212.9,468.4 1215.0,468.8 1217.1,469.1 1219.2,469.4 1221.2,469.7 1223.3,470.0 1225.4,470.2 1227.5,470.4 1229.6,470.6 1231.7,470.7 1233.8,470.9 1235.9,471.0 1238.0,471.1 1240.1,471.2 1242.1,471.3 1244.2,471.3 1246.3,471.4 1248.4,471.5 1250.5,471.5 1252.6,471.5 1254.7,471.6 1256.8,471.6 1258.9,471.6 1260.9,471.7 1263.0,471.7 1265.1,471.7 1267.2,471.7 1269.3,471.7 1271.4,471.7 1273.5,471.7 1275.6,471.8 1277.7,471.8 1279.8,471.8 1281.8,471.8 1283.9,471.8 1286.0,471.8 1288.1,471.8 1290.2,471.8 1292.3,471.8 1294.4,471.8 1296.5,471.8 1298.6,471.8 1300.6,471.8 1302.7,471.8 1304.8,471.8 1306.9,471.8 1309.0,471.8 1311.1,471.8 1313.2,471.8 1315.3,471.8 1317.4,471.8 1319.5,471.8 1321.5,471.8 1323.6,471.8 1325.7,471.8 1327.8,471.8 1329.9,471.8 1332.0,471.8 1334.1,471.8 1336.2,471.8 1338.3,471.8 1340.3,471.8 1342.4,471.8 1344.5,471.8 1346.6,471.8 1348.7,471.8 1350.8,471.8 1352.9,471.8 1355.0,471.8 1357.1,471.8 1359.2,471.8 1361.2,471.8 1363.3,471.8 1365.4,471.8 1367.5,471.8 1369.6,471.8" fill="none" stroke="#0000ff" stroke-width="2.6" stroke-linejoin="miter" stroke-linecap="butt" stroke-dasharray="9 5"/>
<polyline points="951.7,451.4 953.8,449.7 955.9,448.0 958.0,446.1 960.1,444.1 962.1,442.0 964.2,439.9 966.3,437.5 968.4,435.1 970.5,432.5 972.6,429.9 974.7,427.1 976.8,424.1 978.9,421.1 981.0,417.9 983.0,414.5 985.1,411.1 987.2,407.5 989.3,403.8 991.4,400.0 993.5,396.1 995.6,392.0 997.7,387.9 999.8,383.6 1001.8,379.2 1003.9,374.8 1006.0,370.2 1008.1,365.6 1010.2,361.0 1012.3,356.2 1014.4,351.4 1016.5,346.6 1018.6,341.7 1020.7,336.9 1022.7,332.0 1024.8,327.1 1026.9,322.3 1029.0,317.5 1031.1,312.7 1033.2,308.0 1035.3,303.4 1037.4,298.8 1039.5,294.4 1041.5,290.1 1043.6,285.9 1045.7,281.9 1047.8,278.0 1049.9,274.3 1052.0,270.8 1054.1,267.5 1056.2,264.4 1058.3,261.5 1060.4,258.8 1062.4,256.4 1064.5,254.2 1066.6,252.3 1068.7,250.7 1070.8,249.3 1072.9,248.2 1075.0,247.4 1077.1,246.9 1079.2,246.7 1081.2,246.7 1083.3,247.1 1085.4,247.7 1087.5,248.6 1089.6,249.8 1091.7,251.2 1093.8,252.9 1095.9,254.9 1098.0,257.2 1100.1,259.7 1102.1,262.4 1104.2,265.4 1106.3,268.6 1108.4,271.9 1110.5,275.5 1112.6,279.3 1114.7,283.2 1116.8,287.3 1118.9,291.5 1120.9,295.9 1123.0,300.3 1125.1,304.9 1127.2,309.6 1129.3,314.3 1131.4,319.1 1133.5,323.9 1135.6,328.7 1137.7,333.6 1139.8,338.5 1141.8,343.4 1143.9,348.2 1146.0,353.0 1148.1,357.8 1150.2,362.5 1152.3,367.2 1154.4,371.8 1156.5,376.3 1158.6,380.7 1160.7,385.0 1162.7,389.3 1164.8,393.4 1166.9,397.4 1169.0,401.3 1171.1,405.1 1173.2,408.7 1175.3,412.3 1177.4,415.7 1179.5,418.9 1181.5,422.1 1183.6,425.1 1185.7,428.0 1187.8,430.8 1189.9,433.4 1192.0,435.9 1194.1,438.3 1196.2,440.6 1198.3,442.8 1200.4,444.8 1202.4,446.7 1204.5,448.6 1206.6,450.3 1208.7,451.9 1210.8,453.4 1212.9,454.8 1215.0,456.2 1217.1,457.4 1219.2,458.6 1221.2,459.7 1223.3,460.7 1225.4,461.6 1227.5,462.5 1229.6,463.3 1231.7,464.0 1233.8,464.7 1235.9,465.4 1238.0,466.0 1240.1,466.5 1242.1,467.0 1244.2,467.5 1246.3,467.9 1248.4,468.3 1250.5,468.6 1252.6,468.9 1254.7,469.2 1256.8,469.5 1258.9,469.7 1260.9,469.9 1263.0,470.1 1265.1,470.3 1267.2,470.5 1269.3,470.6 1271.4,470.7 1273.5,470.9 1275.6,471.0 1277.7,471.1 1279.8,471.1 1281.8,471.2 1283.9,471.3 1286.0,471.3 1288.1,471.4 1290.2,471.4 1292.3,471.5 1294.4,471.5 1296.5,471.6 1298.6,471.6 1300.6,471.6 1302.7,471.6 1304.8,471.7 1306.9,471.7 1309.0,471.7 1311.1,471.7 1313.2,471.7 1315.3,471.7 1317.4,471.7 1319.5,471.7 1321.5,471.8 1323.6,471.8 1325.7,471.8 1327.8,471.8 1329.9,471.8 1332.0,471.8 1334.1,471.8 1336.2,471.8 1338.3,471.8 1340.3,471.8 1342.4,471.8 1344.5,471.8 1346.6,471.8 1348.7,471.8 1350.8,471.8 1352.9,471.8 1355.0,471.8 1357.1,471.8 1359.2,471.8 1361.2,471.8 1363.3,471.8 1365.4,471.8 1367.5,471.8 1369.6,471.8" fill="none" stroke="#fb800a" stroke-width="2.6" stroke-linejoin="miter" stroke-linecap="butt" stroke-dasharray="9 5"/>
<polyline points="951.7,452.7 953.8,450.7 955.9,448.4 958.0,446.0 960.1,443.5 962.1,440.7 964.2,437.7 966.3,434.5 968.4,431.0 970.5,427.4 972.6,423.5 974.7,419.3 976.8,415.0 978.9,410.3 981.0,405.5 983.0,400.4 985.1,395.0 987.2,389.4 989.3,383.6 991.4,377.5 993.5,371.2 995.6,364.7 997.7,358.0 999.8,351.1 1001.8,344.1 1003.9,336.9 1006.0,329.6 1008.1,322.1 1010.2,314.6 1012.3,307.1 1014.4,299.5 1016.5,291.9 1018.6,284.3 1020.7,276.8 1022.7,269.4 1024.8,262.1 1026.9,255.0 1029.0,248.0 1031.1,241.3 1033.2,234.9 1035.3,228.7 1037.4,222.9 1039.5,217.4 1041.5,212.4 1043.6,207.7 1045.7,203.5 1047.8,199.7 1049.9,196.4 1052.0,193.6 1054.1,191.3 1056.2,189.6 1058.3,188.4 1060.4,187.8 1062.4,187.7 1064.5,188.1 1066.6,189.2 1068.7,190.7 1070.8,192.8 1072.9,195.4 1075.0,198.5 1077.1,202.1 1079.2,206.2 1081.2,210.8 1083.3,215.7 1085.4,221.0 1087.5,226.8 1089.6,232.8 1091.7,239.1 1093.8,245.8 1095.9,252.6 1098.0,259.7 1100.1,266.9 1102.1,274.3 1104.2,281.8 1106.3,289.3 1108.4,296.9 1110.5,304.5 1112.6,312.1 1114.7,319.6 1116.8,327.1 1118.9,334.5 1120.9,341.7 1123.0,348.8 1125.1,355.7 1127.2,362.5 1129.3,369.1 1131.4,375.4 1133.5,381.6 1135.6,387.5 1137.7,393.2 1139.8,398.6 1141.8,403.8 1143.9,408.8 1146.0,413.5 1148.1,417.9 1150.2,422.1 1152.3,426.1 1154.4,429.8 1156.5,433.3 1158.6,436.6 1160.7,439.7 1162.7,442.5 1164.8,445.2 1166.9,447.7 1169.0,449.9 1171.1,452.0 1173.2,454.0 1175.3,455.7 1177.4,457.4 1179.5,458.8 1181.5,460.2 1183.6,461.4 1185.7,462.6 1187.8,463.6 1189.9,464.5 1192.0,465.3 1194.1,466.1 1196.2,466.7 1198.3,467.3 1200.4,467.9 1202.4,468.4 1204.5,468.8 1206.6,469.2 1208.7,469.5 1210.8,469.8 1212.9,470.1 1215.0,470.3 1217.1,470.5 1219.2,470.7 1221.2,470.8 1223.3,471.0 1225.4,471.1 1227.5,471.2 1229.6,471.3 1231.7,471.3 1233.8,471.4 1235.9,471.5 1238.0,471.5 1240.1,471.6 1242.1,471.6 1244.2,471.6 1246.3,471.7 1248.4,471.7 1250.5,471.7 1252.6,471.7 1254.7,471.7 1256.8,471.7 1258.9,471.8 1260.9,471.8 1263.0,471.8 1265.1,471.8 1267.2,471.8 1269.3,471.8 1271.4,471.8 1273.5,471.8 1275.6,471.8 1277.7,471.8 1279.8,471.8 1281.8,471.8 1283.9,471.8 1286.0,471.8 1288.1,471.8 1290.2,471.8 1292.3,471.8 1294.4,471.8 1296.5,471.8 1298.6,471.8 1300.6,471.8 1302.7,471.8 1304.8,471.8 1306.9,471.8 1309.0,471.8 1311.1,471.8 1313.2,471.8 1315.3,471.8 1317.4,471.8 1319.5,471.8 1321.5,471.8 1323.6,471.8 1325.7,471.8 1327.8,471.8 1329.9,471.8 1332.0,471.8 1334.1,471.8 1336.2,471.8 1338.3,471.8 1340.3,471.8 1342.4,471.8 1344.5,471.8 1346.6,471.8 1348.7,471.8 1350.8,471.8 1352.9,471.8 1355.0,471.8 1357.1,471.8 1359.2,471.8 1361.2,471.8 1363.3,471.8 1365.4,471.8 1367.5,471.8 1369.6,471.8" fill="none" stroke="#0000ff" stroke-width="2.6" stroke-linejoin="miter" stroke-linecap="butt"/>
<polyline points="951.7,438.3 953.8,436.0 955.9,433.6 958.0,431.1 960.1,428.5 962.1,425.7 964.2,422.8 966.3,419.9 968.4,416.8 970.5,413.6 972.6,410.2 974.7,406.8 976.8,403.2 978.9,399.6 981.0,395.8 983.0,391.9 985.1,387.9 987.2,383.8 989.3,379.7 991.4,375.4 993.5,371.1 995.6,366.7 997.7,362.2 999.8,357.7 1001.8,353.1 1003.9,348.5 1006.0,343.9 1008.1,339.2 1010.2,334.5 1012.3,329.8 1014.4,325.2 1016.5,320.5 1018.6,315.9 1020.7,311.3 1022.7,306.8 1024.8,302.4 1026.9,298.0 1029.0,293.8 1031.1,289.6 1033.2,285.6 1035.3,281.7 1037.4,278.0 1039.5,274.4 1041.5,270.9 1043.6,267.7 1045.7,264.6 1047.8,261.7 1049.9,259.1 1052.0,256.6 1054.1,254.4 1056.2,252.4 1058.3,250.7 1060.4,249.2 1062.4,247.9 1064.5,246.9 1066.6,246.2 1068.7,245.7 1070.8,245.5 1072.9,245.5 1075.0,245.8 1077.1,246.4 1079.2,247.2 1081.2,248.3 1083.3,249.6 1085.4,251.2 1087.5,253.0 1089.6,255.1 1091.7,257.4 1093.8,259.9 1095.9,262.7 1098.0,265.6 1100.1,268.7 1102.1,272.0 1104.2,275.5 1106.3,279.2 1108.4,283.0 1110.5,286.9 1112.6,291.0 1114.7,295.2 1116.8,299.5 1118.9,303.9 1120.9,308.3 1123.0,312.9 1125.1,317.4 1127.2,322.1 1129.3,326.7 1131.4,331.4 1133.5,336.1 1135.6,340.7 1137.7,345.4 1139.8,350.0 1141.8,354.7 1143.9,359.2 1146.0,363.7 1148.1,368.2 1150.2,372.5 1152.3,376.9 1154.4,381.1 1156.5,385.2 1158.6,389.3 1160.7,393.2 1162.7,397.1 1164.8,400.8 1166.9,404.4 1169.0,407.9 1171.1,411.4 1173.2,414.6 1175.3,417.8 1177.4,420.9 1179.5,423.8 1181.5,426.6 1183.6,429.3 1185.7,431.9 1187.8,434.4 1189.9,436.8 1192.0,439.0 1194.1,441.2 1196.2,443.2 1198.3,445.1 1200.4,447.0 1202.4,448.7 1204.5,450.3 1206.6,451.9 1208.7,453.3 1210.8,454.7 1212.9,456.0 1215.0,457.2 1217.1,458.3 1219.2,459.4 1221.2,460.4 1223.3,461.3 1225.4,462.1 1227.5,462.9 1229.6,463.7 1231.7,464.4 1233.8,465.0 1235.9,465.6 1238.0,466.1 1240.1,466.6 1242.1,467.1 1244.2,467.5 1246.3,467.9 1248.4,468.3 1250.5,468.6 1252.6,468.9 1254.7,469.2 1256.8,469.5 1258.9,469.7 1260.9,469.9 1263.0,470.1 1265.1,470.3 1267.2,470.4 1269.3,470.6 1271.4,470.7 1273.5,470.8 1275.6,470.9 1277.7,471.0 1279.8,471.1 1281.8,471.2 1283.9,471.2 1286.0,471.3 1288.1,471.4 1290.2,471.4 1292.3,471.5 1294.4,471.5 1296.5,471.5 1298.6,471.6 1300.6,471.6 1302.7,471.6 1304.8,471.6 1306.9,471.7 1309.0,471.7 1311.1,471.7 1313.2,471.7 1315.3,471.7 1317.4,471.7 1319.5,471.7 1321.5,471.7 1323.6,471.8 1325.7,471.8 1327.8,471.8 1329.9,471.8 1332.0,471.8 1334.1,471.8 1336.2,471.8 1338.3,471.8 1340.3,471.8 1342.4,471.8 1344.5,471.8 1346.6,471.8 1348.7,471.8 1350.8,471.8 1352.9,471.8 1355.0,471.8 1357.1,471.8 1359.2,471.8 1361.2,471.8 1363.3,471.8 1365.4,471.8 1367.5,471.8 1369.6,471.8" fill="none" stroke="#fb800a" stroke-width="2.6" stroke-linejoin="miter" stroke-linecap="butt"/>
<rect x="946.1" y="466.2" width="11.2" height="11.2" fill="#fb800a"/>
<rect x="964.5" y="466.2" width="11.2" height="11.2" fill="#fb800a"/>
<rect x="982.9" y="430.1" width="11.2" height="11.2" fill="#fb800a"/>
<line x1="1006.9" y1="347.8" x2="1006.9" y2="326.1" stroke="#fb800a" stroke-width="2.4" stroke-linecap="butt"/>
<line x1="1000.9" y1="326.1" x2="1012.9" y2="326.1" stroke="#fb800a" stroke-width="2.4" stroke-linecap="butt"/>
<rect x="1001.3" y="342.2" width="11.2" height="11.2" fill="#fb800a"/>
<line x1="1025.3" y1="271.9" x2="1025.3" y2="259.9" stroke="#fb800a" stroke-width="2.4" stroke-linecap="butt"/>
<line x1="1019.3" y1="259.9" x2="1031.3" y2="259.9" stroke="#fb800a" stroke-width="2.4" stroke-linecap="butt"/>
<rect x="1019.7" y="266.3" width="11.2" height="11.2" fill="#fb800a"/>
<rect x="1038.0" y="245.9" width="11.2" height="11.2" fill="#fb800a"/>
<line x1="1062.0" y1="253.9" x2="1062.0" y2="244.2" stroke="#fb800a" stroke-width="2.4" stroke-linecap="butt"/>
<line x1="1056.0" y1="244.2" x2="1068.0" y2="244.2" stroke="#fb800a" stroke-width="2.4" stroke-linecap="butt"/>
<rect x="1056.4" y="248.3" width="11.2" height="11.2" fill="#fb800a"/>
<line x1="1080.4" y1="293.6" x2="1080.4" y2="275.5" stroke="#fb800a" stroke-width="2.4" stroke-linecap="butt"/>
<line x1="1074.4" y1="293.6" x2="1086.4" y2="293.6" stroke="#fb800a" stroke-width="2.4" stroke-linecap="butt"/>
<rect x="1074.8" y="269.9" width="11.2" height="11.2" fill="#fb800a"/>
<rect x="1093.2" y="276.0" width="11.2" height="11.2" fill="#fb800a"/>
<line x1="1117.2" y1="315.3" x2="1117.2" y2="303.2" stroke="#fb800a" stroke-width="2.4" stroke-linecap="butt"/>
<line x1="1111.2" y1="303.2" x2="1123.2" y2="303.2" stroke="#fb800a" stroke-width="2.4" stroke-linecap="butt"/>
<rect x="1111.6" y="309.7" width="11.2" height="11.2" fill="#fb800a"/>
<rect x="1130.0" y="341.0" width="11.2" height="11.2" fill="#fb800a"/>
<rect x="1148.4" y="375.9" width="11.2" height="11.2" fill="#fb800a"/>
<rect x="1166.8" y="398.8" width="11.2" height="11.2" fill="#fb800a"/>
<rect x="1185.1" y="418.0" width="11.2" height="11.2" fill="#fb800a"/>
<rect x="1203.5" y="437.3" width="11.2" height="11.2" fill="#fb800a"/>
<rect x="1221.9" y="444.5" width="11.2" height="11.2" fill="#fb800a"/>
<rect x="1240.3" y="455.4" width="11.2" height="11.2" fill="#fb800a"/>
<rect x="1258.7" y="460.2" width="11.2" height="11.2" fill="#fb800a"/>
<rect x="1277.1" y="462.6" width="11.2" height="11.2" fill="#fb800a"/>
<rect x="1295.5" y="463.8" width="11.2" height="11.2" fill="#fb800a"/>
<rect x="1313.9" y="466.2" width="11.2" height="11.2" fill="#fb800a"/>
<rect x="946.7" y="466.8" width="10.1" height="10.1" fill="none" stroke="#fb800a" stroke-width="1.9"/>
<rect x="965.0" y="466.8" width="10.1" height="10.1" fill="none" stroke="#fb800a" stroke-width="1.9"/>
<rect x="983.4" y="433.0" width="10.1" height="10.1" fill="none" stroke="#fb800a" stroke-width="1.9"/>
<line x1="1006.9" y1="346.6" x2="1006.9" y2="324.9" stroke="#fb800a" stroke-width="2.4" stroke-linecap="butt"/>
<line x1="1000.9" y1="324.9" x2="1012.9" y2="324.9" stroke="#fb800a" stroke-width="2.4" stroke-linecap="butt"/>
<rect x="1001.8" y="341.5" width="10.1" height="10.1" fill="none" stroke="#fb800a" stroke-width="1.9"/>
<line x1="1025.3" y1="350.2" x2="1025.3" y2="328.5" stroke="#fb800a" stroke-width="2.4" stroke-linecap="butt"/>
<line x1="1019.3" y1="328.5" x2="1031.3" y2="328.5" stroke="#fb800a" stroke-width="2.4" stroke-linecap="butt"/>
<rect x="1020.2" y="345.1" width="10.1" height="10.1" fill="none" stroke="#fb800a" stroke-width="1.9"/>
<line x1="1043.6" y1="303.2" x2="1043.6" y2="269.5" stroke="#fb800a" stroke-width="2.4" stroke-linecap="butt"/>
<line x1="1037.6" y1="269.5" x2="1049.6" y2="269.5" stroke="#fb800a" stroke-width="2.4" stroke-linecap="butt"/>
<rect x="1038.6" y="298.2" width="10.1" height="10.1" fill="none" stroke="#fb800a" stroke-width="1.9"/>
<line x1="1062.0" y1="264.7" x2="1062.0" y2="240.6" stroke="#fb800a" stroke-width="2.4" stroke-linecap="butt"/>
<line x1="1056.0" y1="240.6" x2="1068.0" y2="240.6" stroke="#fb800a" stroke-width="2.4" stroke-linecap="butt"/>
<rect x="1057.0" y="259.7" width="10.1" height="10.1" fill="none" stroke="#fb800a" stroke-width="1.9"/>
<line x1="1080.4" y1="231.0" x2="1080.4" y2="216.6" stroke="#fb800a" stroke-width="2.4" stroke-linecap="butt"/>
<line x1="1074.4" y1="216.6" x2="1086.4" y2="216.6" stroke="#fb800a" stroke-width="2.4" stroke-linecap="butt"/>
<rect x="1075.4" y="226.0" width="10.1" height="10.1" fill="none" stroke="#fb800a" stroke-width="1.9"/>
<line x1="1098.8" y1="271.9" x2="1098.8" y2="241.8" stroke="#fb800a" stroke-width="2.4" stroke-linecap="butt"/>
<line x1="1092.8" y1="241.8" x2="1104.8" y2="241.8" stroke="#fb800a" stroke-width="2.4" stroke-linecap="butt"/>
<rect x="1093.8" y="266.9" width="10.1" height="10.1" fill="none" stroke="#fb800a" stroke-width="1.9"/>
<line x1="1117.2" y1="281.6" x2="1117.2" y2="251.5" stroke="#fb800a" stroke-width="2.4" stroke-linecap="butt"/>
<line x1="1111.2" y1="251.5" x2="1123.2" y2="251.5" stroke="#fb800a" stroke-width="2.4" stroke-linecap="butt"/>
<rect x="1112.1" y="276.5" width="10.1" height="10.1" fill="none" stroke="#fb800a" stroke-width="1.9"/>
<line x1="1135.6" y1="339.4" x2="1135.6" y2="309.3" stroke="#fb800a" stroke-width="2.4" stroke-linecap="butt"/>
<line x1="1129.6" y1="309.3" x2="1141.6" y2="309.3" stroke="#fb800a" stroke-width="2.4" stroke-linecap="butt"/>
<rect x="1130.5" y="334.3" width="10.1" height="10.1" fill="none" stroke="#fb800a" stroke-width="1.9"/>
<line x1="1154.0" y1="363.4" x2="1154.0" y2="345.4" stroke="#fb800a" stroke-width="2.4" stroke-linecap="butt"/>
<line x1="1148.0" y1="345.4" x2="1160.0" y2="345.4" stroke="#fb800a" stroke-width="2.4" stroke-linecap="butt"/>
<rect x="1148.9" y="358.4" width="10.1" height="10.1" fill="none" stroke="#fb800a" stroke-width="1.9"/>
<rect x="1167.3" y="404.1" width="10.1" height="10.1" fill="none" stroke="#fb800a" stroke-width="1.9"/>
<rect x="1185.7" y="430.6" width="10.1" height="10.1" fill="none" stroke="#fb800a" stroke-width="1.9"/>
<rect x="1204.1" y="442.7" width="10.1" height="10.1" fill="none" stroke="#fb800a" stroke-width="1.9"/>
<rect x="1222.5" y="452.3" width="10.1" height="10.1" fill="none" stroke="#fb800a" stroke-width="1.9"/>
<rect x="1240.9" y="457.1" width="10.1" height="10.1" fill="none" stroke="#fb800a" stroke-width="1.9"/>
<rect x="1259.2" y="461.9" width="10.1" height="10.1" fill="none" stroke="#fb800a" stroke-width="1.9"/>
<rect x="1277.6" y="464.3" width="10.1" height="10.1" fill="none" stroke="#fb800a" stroke-width="1.9"/>
<rect x="1296.0" y="465.5" width="10.1" height="10.1" fill="none" stroke="#fb800a" stroke-width="1.9"/>
<rect x="1314.4" y="466.8" width="10.1" height="10.1" fill="none" stroke="#fb800a" stroke-width="1.9"/>
<circle cx="951.7" cy="471.8" r="5.6" fill="#0000ff"/>
<circle cx="970.1" cy="471.8" r="5.6" fill="#0000ff"/>
<circle cx="988.5" cy="442.9" r="5.6" fill="#0000ff"/>
<line x1="1006.9" y1="362.2" x2="1006.9" y2="347.8" stroke="#0000ff" stroke-width="2.4" stroke-linecap="butt"/>
<line x1="1000.9" y1="362.2" x2="1012.9" y2="362.2" stroke="#0000ff" stroke-width="2.4" stroke-linecap="butt"/>
<circle cx="1006.9" cy="347.8" r="5.6" fill="#0000ff"/>
<line x1="1025.3" y1="310.5" x2="1025.3" y2="276.8" stroke="#0000ff" stroke-width="2.4" stroke-linecap="butt"/>
<line x1="1019.3" y1="310.5" x2="1031.3" y2="310.5" stroke="#0000ff" stroke-width="2.4" stroke-linecap="butt"/>
<circle cx="1025.3" cy="276.8" r="5.6" fill="#0000ff"/>
<line x1="1043.6" y1="220.2" x2="1043.6" y2="196.1" stroke="#0000ff" stroke-width="2.4" stroke-linecap="butt"/>
<line x1="1037.6" y1="220.2" x2="1049.6" y2="220.2" stroke="#0000ff" stroke-width="2.4" stroke-linecap="butt"/>
<circle cx="1043.6" cy="196.1" r="5.6" fill="#0000ff"/>
<line x1="1062.0" y1="235.8" x2="1062.0" y2="187.7" stroke="#0000ff" stroke-width="2.4" stroke-linecap="butt"/>
<line x1="1056.0" y1="235.8" x2="1068.0" y2="235.8" stroke="#0000ff" stroke-width="2.4" stroke-linecap="butt"/>
<circle cx="1062.0" cy="187.7" r="5.6" fill="#0000ff"/>
<line x1="1080.4" y1="255.1" x2="1080.4" y2="243.0" stroke="#0000ff" stroke-width="2.4" stroke-linecap="butt"/>
<line x1="1074.4" y1="255.1" x2="1086.4" y2="255.1" stroke="#0000ff" stroke-width="2.4" stroke-linecap="butt"/>
<circle cx="1080.4" cy="243.0" r="5.6" fill="#0000ff"/>
<line x1="1098.8" y1="303.2" x2="1098.8" y2="269.5" stroke="#0000ff" stroke-width="2.4" stroke-linecap="butt"/>
<line x1="1092.8" y1="303.2" x2="1104.8" y2="303.2" stroke="#0000ff" stroke-width="2.4" stroke-linecap="butt"/>
<circle cx="1098.8" cy="269.5" r="5.6" fill="#0000ff"/>
<line x1="1117.2" y1="361.0" x2="1117.2" y2="324.9" stroke="#0000ff" stroke-width="2.4" stroke-linecap="butt"/>
<line x1="1111.2" y1="361.0" x2="1123.2" y2="361.0" stroke="#0000ff" stroke-width="2.4" stroke-linecap="butt"/>
<circle cx="1117.2" cy="324.9" r="5.6" fill="#0000ff"/>
<line x1="1135.6" y1="394.7" x2="1135.6" y2="373.1" stroke="#0000ff" stroke-width="2.4" stroke-linecap="butt"/>
<line x1="1129.6" y1="394.7" x2="1141.6" y2="394.7" stroke="#0000ff" stroke-width="2.4" stroke-linecap="butt"/>
<circle cx="1135.6" cy="373.1" r="5.6" fill="#0000ff"/>
<line x1="1154.0" y1="420.0" x2="1154.0" y2="408.0" stroke="#0000ff" stroke-width="2.4" stroke-linecap="butt"/>
<line x1="1148.0" y1="420.0" x2="1160.0" y2="420.0" stroke="#0000ff" stroke-width="2.4" stroke-linecap="butt"/>
<circle cx="1154.0" cy="408.0" r="5.6" fill="#0000ff"/>
<line x1="1172.4" y1="438.1" x2="1172.4" y2="423.6" stroke="#0000ff" stroke-width="2.4" stroke-linecap="butt"/>
<line x1="1166.4" y1="438.1" x2="1178.4" y2="438.1" stroke="#0000ff" stroke-width="2.4" stroke-linecap="butt"/>
<circle cx="1172.4" cy="423.6" r="5.6" fill="#0000ff"/>
<circle cx="1190.7" cy="444.1" r="5.6" fill="#0000ff"/>
<circle cx="1209.1" cy="458.6" r="5.6" fill="#0000ff"/>
<circle cx="1227.5" cy="461.0" r="5.6" fill="#0000ff"/>
<circle cx="1245.9" cy="465.8" r="5.6" fill="#0000ff"/>
<circle cx="1264.3" cy="469.4" r="5.6" fill="#0000ff"/>
<circle cx="1282.7" cy="470.6" r="5.6" fill="#0000ff"/>
<circle cx="1301.1" cy="471.8" r="5.6" fill="#0000ff"/>
<circle cx="1319.5" cy="471.8" r="5.6" fill="#0000ff"/>
<circle cx="951.7" cy="471.8" r="5.0" fill="none" stroke="#0000ff" stroke-width="1.9"/>
<circle cx="970.1" cy="471.8" r="5.0" fill="none" stroke="#0000ff" stroke-width="1.9"/>
<circle cx="988.5" cy="436.9" r="5.0" fill="none" stroke="#0000ff" stroke-width="1.9"/>
<line x1="1006.9" y1="324.9" x2="1006.9" y2="306.9" stroke="#0000ff" stroke-width="2.4" stroke-linecap="butt"/>
<line x1="1000.9" y1="324.9" x2="1012.9" y2="324.9" stroke="#0000ff" stroke-width="2.4" stroke-linecap="butt"/>
<circle cx="1006.9" cy="306.9" r="5.0" fill="none" stroke="#0000ff" stroke-width="1.9"/>
<line x1="1025.3" y1="306.9" x2="1025.3" y2="270.7" stroke="#0000ff" stroke-width="2.4" stroke-linecap="butt"/>
<line x1="1019.3" y1="306.9" x2="1031.3" y2="306.9" stroke="#0000ff" stroke-width="2.4" stroke-linecap="butt"/>
<circle cx="1025.3" cy="270.7" r="5.0" fill="none" stroke="#0000ff" stroke-width="1.9"/>
<line x1="1043.6" y1="239.4" x2="1043.6" y2="221.4" stroke="#0000ff" stroke-width="2.4" stroke-linecap="butt"/>
<line x1="1037.6" y1="239.4" x2="1049.6" y2="239.4" stroke="#0000ff" stroke-width="2.4" stroke-linecap="butt"/>
<circle cx="1043.6" cy="221.4" r="5.0" fill="none" stroke="#0000ff" stroke-width="1.9"/>
<line x1="1062.0" y1="239.4" x2="1062.0" y2="217.8" stroke="#0000ff" stroke-width="2.4" stroke-linecap="butt"/>
<line x1="1056.0" y1="239.4" x2="1068.0" y2="239.4" stroke="#0000ff" stroke-width="2.4" stroke-linecap="butt"/>
<circle cx="1062.0" cy="217.8" r="5.0" fill="none" stroke="#0000ff" stroke-width="1.9"/>
<line x1="1080.4" y1="244.2" x2="1080.4" y2="229.8" stroke="#0000ff" stroke-width="2.4" stroke-linecap="butt"/>
<line x1="1074.4" y1="244.2" x2="1086.4" y2="244.2" stroke="#0000ff" stroke-width="2.4" stroke-linecap="butt"/>
<circle cx="1080.4" cy="229.8" r="5.0" fill="none" stroke="#0000ff" stroke-width="1.9"/>
<line x1="1098.8" y1="288.8" x2="1098.8" y2="269.5" stroke="#0000ff" stroke-width="2.4" stroke-linecap="butt"/>
<line x1="1092.8" y1="288.8" x2="1104.8" y2="288.8" stroke="#0000ff" stroke-width="2.4" stroke-linecap="butt"/>
<circle cx="1098.8" cy="269.5" r="5.0" fill="none" stroke="#0000ff" stroke-width="1.9"/>
<line x1="1117.2" y1="339.4" x2="1117.2" y2="327.3" stroke="#0000ff" stroke-width="2.4" stroke-linecap="butt"/>
<line x1="1111.2" y1="339.4" x2="1123.2" y2="339.4" stroke="#0000ff" stroke-width="2.4" stroke-linecap="butt"/>
<circle cx="1117.2" cy="327.3" r="5.0" fill="none" stroke="#0000ff" stroke-width="1.9"/>
<line x1="1135.6" y1="387.5" x2="1135.6" y2="363.4" stroke="#0000ff" stroke-width="2.4" stroke-linecap="butt"/>
<line x1="1129.6" y1="387.5" x2="1141.6" y2="387.5" stroke="#0000ff" stroke-width="2.4" stroke-linecap="butt"/>
<circle cx="1135.6" cy="363.4" r="5.0" fill="none" stroke="#0000ff" stroke-width="1.9"/>
<line x1="1154.0" y1="411.6" x2="1154.0" y2="393.5" stroke="#0000ff" stroke-width="2.4" stroke-linecap="butt"/>
<line x1="1148.0" y1="411.6" x2="1160.0" y2="411.6" stroke="#0000ff" stroke-width="2.4" stroke-linecap="butt"/>
<circle cx="1154.0" cy="393.5" r="5.0" fill="none" stroke="#0000ff" stroke-width="1.9"/>
<circle cx="1172.4" cy="435.7" r="5.0" fill="none" stroke="#0000ff" stroke-width="1.9"/>
<circle cx="1190.7" cy="445.3" r="5.0" fill="none" stroke="#0000ff" stroke-width="1.9"/>
<circle cx="1209.1" cy="457.4" r="5.0" fill="none" stroke="#0000ff" stroke-width="1.9"/>
<circle cx="1227.5" cy="461.0" r="5.0" fill="none" stroke="#0000ff" stroke-width="1.9"/>
<circle cx="1245.9" cy="465.8" r="5.0" fill="none" stroke="#0000ff" stroke-width="1.9"/>
<circle cx="1264.3" cy="469.4" r="5.0" fill="none" stroke="#0000ff" stroke-width="1.9"/>
<circle cx="1282.7" cy="471.8" r="5.0" fill="none" stroke="#0000ff" stroke-width="1.9"/>
<circle cx="1301.1" cy="471.8" r="5.0" fill="none" stroke="#0000ff" stroke-width="1.9"/>
<circle cx="1319.5" cy="471.8" r="5.0" fill="none" stroke="#0000ff" stroke-width="1.9"/>
<line x1="1165.6" y1="192.1" x2="1179.6" y2="192.1" stroke="#0000ff" stroke-width="2.5" stroke-linecap="butt"/>
<circle cx="1172.6" cy="192.1" r="5.0" fill="none" stroke="#0000ff" stroke-width="1.9"/>
<text x="1185.2" y="200.0" font-size="26" font-weight="normal" text-anchor="start" fill="#000">CON-VEH</text>
<line x1="1165.6" y1="220.1" x2="1179.6" y2="220.1" stroke="#fb800a" stroke-width="2.5" stroke-linecap="butt"/>
<rect x="1167.5" y="215.0" width="10.1" height="10.1" fill="none" stroke="#fb800a" stroke-width="1.9"/>
<text x="1185.2" y="224.4" font-size="26" font-weight="normal" text-anchor="start" fill="#000">CON-VIT<tspan font-size="17.16" dy="7.7">D</tspan></text>
<line x1="1165.6" y1="247.6" x2="1179.6" y2="247.6" stroke="#0000ff" stroke-width="2.5" stroke-linecap="butt"/>
<circle cx="1172.6" cy="247.6" r="5.2" fill="#0000ff"/>
<text x="1185.2" y="256.0" font-size="26" font-weight="normal" text-anchor="start" fill="#000">POL-VEH</text>
<line x1="1165.6" y1="276.0" x2="1179.6" y2="276.0" stroke="#fb800a" stroke-width="2.5" stroke-linecap="butt"/>
<rect x="1167.6" y="271.0" width="10.0" height="10.0" fill="#fb800a"/>
<text x="1185.2" y="280.4" font-size="26" font-weight="normal" text-anchor="start" fill="#000">POL-VIT<tspan font-size="17.16" dy="7.7">D</tspan></text>
<line x1="1308.2" y1="182.6" x2="1308.2" y2="285.1" stroke="#000" stroke-width="2.6" stroke-linecap="butt"/>
<text x="1315.2" y="245.7" font-size="34.5" font-weight="normal" text-anchor="start" fill="#000">n.s.</text>
<text x="857.0" y="43.0" font-size="56" font-weight="bold" text-anchor="start" fill="#000">C</text>
<line x1="949.6" y1="679.8" x2="949.6" y2="763.6" stroke="#000" stroke-width="3.6" stroke-linecap="butt"/>
<line x1="947.8" y1="761.8" x2="1346.2" y2="761.8" stroke="#000" stroke-width="3.6" stroke-linecap="butt"/>
<line x1="949.6" y1="761.8" x2="949.6" y2="768.8" stroke="#000" stroke-width="3.6" stroke-linecap="butt"/>
<line x1="1006.3" y1="761.8" x2="1006.3" y2="768.8" stroke="#000" stroke-width="3.6" stroke-linecap="butt"/>
<line x1="1062.9" y1="761.8" x2="1062.9" y2="768.8" stroke="#000" stroke-width="3.6" stroke-linecap="butt"/>
<line x1="1119.6" y1="761.8" x2="1119.6" y2="768.8" stroke="#000" stroke-width="3.6" stroke-linecap="butt"/>
<line x1="1176.2" y1="761.8" x2="1176.2" y2="768.8" stroke="#000" stroke-width="3.6" stroke-linecap="butt"/>
<line x1="1232.9" y1="761.8" x2="1232.9" y2="768.8" stroke="#000" stroke-width="3.6" stroke-linecap="butt"/>
<line x1="1289.5" y1="761.8" x2="1289.5" y2="768.8" stroke="#000" stroke-width="3.6" stroke-linecap="butt"/>
<line x1="1346.2" y1="761.8" x2="1346.2" y2="768.8" stroke="#000" stroke-width="3.6" stroke-linecap="butt"/>
<line x1="942.6" y1="690.5" x2="949.6" y2="690.5" stroke="#000" stroke-width="3.6" stroke-linecap="butt"/>
<line x1="1062.9" y1="690.5" x2="1071.9" y2="690.5" stroke="#0000ff" stroke-width="2.8" stroke-linecap="butt"/>
<line x1="1071.9" y1="686.5" x2="1071.9" y2="694.5" stroke="#0000ff" stroke-width="2.8" stroke-linecap="round"/>
<rect x="952.8" y="685.1" width="108.7" height="10.8" fill="#fff" stroke="#0000ff" stroke-width="2.8"/>
<text transform="translate(940.1 696.0) scale(1.045 1)" font-size="16.7" font-weight="bold" text-anchor="end">CON-VEH</text>
<line x1="942.6" y1="708.7" x2="949.6" y2="708.7" stroke="#000" stroke-width="3.6" stroke-linecap="butt"/>
<line x1="1105.9" y1="708.7" x2="1112.5" y2="708.7" stroke="#fb800a" stroke-width="2.8" stroke-linecap="butt"/>
<line x1="1112.5" y1="704.7" x2="1112.5" y2="712.7" stroke="#fb800a" stroke-width="2.8" stroke-linecap="round"/>
<rect x="952.8" y="702.7" width="151.7" height="12.0" fill="#fff" stroke="#fb800a" stroke-width="2.8"/>
<text transform="translate(940.1 711.8) scale(1.045 1)" font-size="16.7" font-weight="bold" text-anchor="end">CON-VIT<tspan font-size="12.9" dy="5.3">D</tspan></text>
<line x1="942.6" y1="726.6" x2="949.6" y2="726.6" stroke="#000" stroke-width="3.6" stroke-linecap="butt"/>
<line x1="1083.6" y1="726.6" x2="1086.0" y2="726.6" stroke="#0000ff" stroke-width="2.8" stroke-linecap="butt"/>
<line x1="1086.0" y1="722.6" x2="1086.0" y2="730.6" stroke="#0000ff" stroke-width="2.8" stroke-linecap="round"/>
<rect x="951.4" y="720.0" width="132.2" height="13.3" fill="#0000ff"/>
<text transform="translate(940.1 732.1) scale(1.045 1)" font-size="16.7" font-weight="bold" text-anchor="end">POL-VEH</text>
<line x1="942.6" y1="744.6" x2="949.6" y2="744.6" stroke="#000" stroke-width="3.6" stroke-linecap="butt"/>
<line x1="1074.6" y1="744.6" x2="1076.0" y2="744.6" stroke="#fb800a" stroke-width="2.8" stroke-linecap="butt"/>
<line x1="1076.0" y1="740.6" x2="1076.0" y2="748.6" stroke="#fb800a" stroke-width="2.8" stroke-linecap="round"/>
<rect x="951.4" y="737.2" width="123.2" height="14.8" fill="#fb800a"/>
<text transform="translate(940.1 747.7) scale(1.045 1)" font-size="16.7" font-weight="bold" text-anchor="end">POL-VIT<tspan font-size="12.9" dy="5.3">D</tspan></text>
<polyline points="1088.6,690.2 1156.3,690.2 1156.3,704.9 1127.0,704.9" fill="none" stroke="#000" stroke-width="3.3" stroke-linejoin="miter" stroke-linecap="butt"/>
<line x1="1127.0" y1="709.7" x2="1189.2" y2="709.7" stroke="#000" stroke-width="3.3" stroke-linecap="butt"/>
<polyline points="1189.2,709.7 1189.2,746.9 1085.0,746.9" fill="none" stroke="#000" stroke-width="3.3" stroke-linejoin="miter" stroke-linecap="butt"/>
<polyline points="1127.0,714.6 1156.3,714.6 1156.3,726.8 1089.2,726.8" fill="none" stroke="#000" stroke-width="3.3" stroke-linejoin="miter" stroke-linecap="butt"/>
<text x="1160.3" y="721.0" font-size="52" font-weight="normal" text-anchor="start" fill="#000">**</text>
<text x="1160.4" y="747.2" font-size="52" font-weight="normal" text-anchor="start" fill="#000">*</text>
<text x="1191.4" y="755.1" font-size="52" font-weight="normal" text-anchor="start" fill="#000">*</text>
<line x1="946.2" y1="773.4" x2="946.2" y2="1069.0" stroke="#000" stroke-width="3.2" stroke-linecap="butt"/>
<line x1="944.6" y1="1067.4" x2="1344.0" y2="1067.4" stroke="#000" stroke-width="3.2" stroke-linecap="butt"/>
<line x1="940.2" y1="1067.4" x2="946.2" y2="1067.4" stroke="#000" stroke-width="3.2" stroke-linecap="butt"/>
<text x="939.9" y="1075.2" font-size="21.8" font-weight="bold" text-anchor="end" fill="#000">0</text>
<line x1="940.2" y1="994.3" x2="946.2" y2="994.3" stroke="#000" stroke-width="3.2" stroke-linecap="butt"/>
<text x="939.9" y="1002.1" font-size="21.8" font-weight="bold" text-anchor="end" fill="#000">200</text>
<line x1="940.2" y1="921.2" x2="946.2" y2="921.2" stroke="#000" stroke-width="3.2" stroke-linecap="butt"/>
<text x="939.9" y="929.0" font-size="21.8" font-weight="bold" text-anchor="end" fill="#000">400</text>
<line x1="940.2" y1="848.1" x2="946.2" y2="848.1" stroke="#000" stroke-width="3.2" stroke-linecap="butt"/>
<text x="939.9" y="855.9" font-size="21.8" font-weight="bold" text-anchor="end" fill="#000">600</text>
<line x1="940.2" y1="775.0" x2="946.2" y2="775.0" stroke="#000" stroke-width="3.2" stroke-linecap="butt"/>
<text x="939.9" y="782.8" font-size="21.8" font-weight="bold" text-anchor="end" fill="#000">800</text>
<line x1="946.2" y1="1067.4" x2="946.2" y2="1073.4" stroke="#000" stroke-width="3.2" stroke-linecap="butt"/>
<text x="946.2" y="1092.0" font-size="21.8" font-weight="bold" text-anchor="middle" fill="#000">0</text>
<line x1="1002.8" y1="1067.4" x2="1002.8" y2="1073.4" stroke="#000" stroke-width="3.2" stroke-linecap="butt"/>
<text x="1002.8" y="1092.0" font-size="21.8" font-weight="bold" text-anchor="middle" fill="#000">1</text>
<line x1="1059.4" y1="1067.4" x2="1059.4" y2="1073.4" stroke="#000" stroke-width="3.2" stroke-linecap="butt"/>
<text x="1059.4" y="1092.0" font-size="21.8" font-weight="bold" text-anchor="middle" fill="#000">2</text>
<line x1="1116.0" y1="1067.4" x2="1116.0" y2="1073.4" stroke="#000" stroke-width="3.2" stroke-linecap="butt"/>
<text x="1116.0" y="1092.0" font-size="21.8" font-weight="bold" text-anchor="middle" fill="#000">3</text>
<line x1="1172.6" y1="1067.4" x2="1172.6" y2="1073.4" stroke="#000" stroke-width="3.2" stroke-linecap="butt"/>
<text x="1172.6" y="1092.0" font-size="21.8" font-weight="bold" text-anchor="middle" fill="#000">4</text>
<line x1="1229.2" y1="1067.4" x2="1229.2" y2="1073.4" stroke="#000" stroke-width="3.2" stroke-linecap="butt"/>
<text x="1229.2" y="1092.0" font-size="21.8" font-weight="bold" text-anchor="middle" fill="#000">5</text>
<line x1="1285.8" y1="1067.4" x2="1285.8" y2="1073.4" stroke="#000" stroke-width="3.2" stroke-linecap="butt"/>
<text x="1285.8" y="1092.0" font-size="21.8" font-weight="bold" text-anchor="middle" fill="#000">6</text>
<line x1="1342.4" y1="1067.4" x2="1342.4" y2="1073.4" stroke="#000" stroke-width="3.2" stroke-linecap="butt"/>
<text x="1342.4" y="1092.0" font-size="21.8" font-weight="bold" text-anchor="middle" fill="#000">7</text>
<text x="897.5" y="914.5" font-size="24.44" font-weight="bold" text-anchor="middle" transform="rotate(-90 897.5 914.5)">Cell number per bin</text>
<text x="1145.4" y="1119.7" font-size="24.58" font-weight="bold" text-anchor="middle">Bins (mean gray value x 10<tspan font-size="15.2" dy="-9.3">3</tspan><tspan dy="9.3">)</tspan></text>
<polyline points="946.2,1035.3 948.2,1032.7 950.2,1030.0 952.1,1027.2 954.1,1024.2 956.1,1021.1 958.1,1017.8 960.1,1014.4 962.0,1010.8 964.0,1007.0 966.0,1003.1 968.0,999.0 970.0,994.8 972.0,990.5 973.9,986.0 975.9,981.4 977.9,976.6 979.9,971.7 981.9,966.7 983.8,961.6 985.8,956.4 987.8,951.2 989.8,945.8 991.8,940.4 993.7,935.0 995.7,929.5 997.7,924.0 999.7,918.5 1001.7,913.1 1003.6,907.6 1005.6,902.2 1007.6,896.9 1009.6,891.7 1011.6,886.6 1013.6,881.6 1015.5,876.8 1017.5,872.1 1019.5,867.6 1021.5,863.3 1023.5,859.2 1025.4,855.4 1027.4,851.8 1029.4,848.4 1031.4,845.4 1033.4,842.6 1035.3,840.1 1037.3,838.0 1039.3,836.1 1041.3,834.6 1043.3,833.5 1045.2,832.6 1047.2,832.2 1049.2,832.0 1051.2,832.2 1053.2,832.8 1055.2,833.7 1057.1,834.9 1059.1,836.5 1061.1,838.4 1063.1,840.7 1065.1,843.2 1067.0,846.0 1069.0,849.2 1071.0,852.6 1073.0,856.2 1075.0,860.1 1076.9,864.3 1078.9,868.6 1080.9,873.2 1082.9,877.9 1084.9,882.7 1086.9,887.8 1088.8,892.9 1090.8,898.1 1092.8,903.5 1094.8,908.9 1096.8,914.3 1098.7,919.8 1100.7,925.3 1102.7,930.7 1104.7,936.2 1106.7,941.7 1108.6,947.0 1110.6,952.4 1112.6,957.6 1114.6,962.8 1116.6,967.9 1118.5,972.8 1120.5,977.7 1122.5,982.4 1124.5,987.0 1126.5,991.5 1128.5,995.8 1130.4,1000.0 1132.4,1004.0 1134.4,1007.9 1136.4,1011.6 1138.4,1015.2 1140.3,1018.6 1142.3,1021.8 1144.3,1024.9 1146.3,1027.9 1148.3,1030.7 1150.2,1033.3 1152.2,1035.8 1154.2,1038.2 1156.2,1040.4 1158.2,1042.5 1160.1,1044.5 1162.1,1046.3 1164.1,1048.0 1166.1,1049.6 1168.1,1051.1 1170.1,1052.5 1172.0,1053.8 1174.0,1055.0 1176.0,1056.1 1178.0,1057.2 1180.0,1058.1 1181.9,1059.0 1183.9,1059.8 1185.9,1060.5 1187.9,1061.2 1189.9,1061.8 1191.8,1062.4 1193.8,1062.9 1195.8,1063.4 1197.8,1063.8 1199.8,1064.2 1201.7,1064.5 1203.7,1064.8 1205.7,1065.1 1207.7,1065.4 1209.7,1065.6 1211.7,1065.8 1213.6,1066.0 1215.6,1066.1 1217.6,1066.3 1219.6,1066.4 1221.6,1066.5 1223.5,1066.6 1225.5,1066.7 1227.5,1066.8 1229.5,1066.9 1231.5,1067.0 1233.4,1067.0 1235.4,1067.1 1237.4,1067.1 1239.4,1067.1 1241.4,1067.2 1243.4,1067.2 1245.3,1067.2 1247.3,1067.3 1249.3,1067.3 1251.3,1067.3 1253.3,1067.3 1255.2,1067.3 1257.2,1067.3 1259.2,1067.3 1261.2,1067.4 1263.2,1067.4 1265.1,1067.4 1267.1,1067.4 1269.1,1067.4 1271.1,1067.4 1273.1,1067.4 1275.0,1067.4 1277.0,1067.4 1279.0,1067.4 1281.0,1067.4 1283.0,1067.4 1285.0,1067.4 1286.9,1067.4 1288.9,1067.4 1290.9,1067.4 1292.9,1067.4 1294.9,1067.4 1296.8,1067.4 1298.8,1067.4 1300.8,1067.4 1302.8,1067.4 1304.8,1067.4 1306.7,1067.4 1308.7,1067.4 1310.7,1067.4 1312.7,1067.4 1314.7,1067.4 1316.6,1067.4 1318.6,1067.4 1320.6,1067.4 1322.6,1067.4 1324.6,1067.4 1326.6,1067.4 1328.5,1067.4 1330.5,1067.4 1332.5,1067.4 1334.5,1067.4 1336.5,1067.4 1338.4,1067.4 1340.4,1067.4 1342.4,1067.4" fill="none" stroke="#0000ff" stroke-width="2.6" stroke-linejoin="miter" stroke-linecap="butt" stroke-dasharray="9 5"/>
<polyline points="946.2,1061.8 948.2,1061.2 950.2,1060.6 952.1,1059.9 954.1,1059.1 956.1,1058.3 958.1,1057.5 960.1,1056.5 962.0,1055.5 964.0,1054.5 966.0,1053.3 968.0,1052.0 970.0,1050.7 972.0,1049.3 973.9,1047.7 975.9,1046.1 977.9,1044.4 979.9,1042.6 981.9,1040.6 983.8,1038.5 985.8,1036.4 987.8,1034.1 989.8,1031.6 991.8,1029.1 993.7,1026.4 995.7,1023.6 997.7,1020.7 999.7,1017.6 1001.7,1014.4 1003.6,1011.1 1005.6,1007.6 1007.6,1004.1 1009.6,1000.4 1011.6,996.5 1013.6,992.6 1015.5,988.5 1017.5,984.3 1019.5,980.1 1021.5,975.7 1023.5,971.2 1025.4,966.7 1027.4,962.0 1029.4,957.3 1031.4,952.6 1033.4,947.8 1035.3,943.0 1037.3,938.1 1039.3,933.2 1041.3,928.4 1043.3,923.5 1045.2,918.7 1047.2,913.9 1049.2,909.2 1051.2,904.6 1053.2,900.0 1055.2,895.6 1057.1,891.2 1059.1,887.0 1061.1,882.9 1063.1,879.0 1065.1,875.3 1067.0,871.7 1069.0,868.4 1071.0,865.2 1073.0,862.3 1075.0,859.6 1076.9,857.2 1078.9,855.0 1080.9,853.1 1082.9,851.4 1084.9,850.0 1086.9,848.9 1088.8,848.1 1090.8,847.6 1092.8,847.4 1094.8,847.4 1096.8,847.8 1098.7,848.4 1100.7,849.4 1102.7,850.6 1104.7,852.1 1106.7,853.9 1108.6,855.9 1110.6,858.2 1112.6,860.7 1114.6,863.5 1116.6,866.5 1118.5,869.8 1120.5,873.2 1122.5,876.9 1124.5,880.7 1126.5,884.7 1128.5,888.8 1130.4,893.1 1132.4,897.5 1134.4,902.0 1136.4,906.6 1138.4,911.2 1140.3,916.0 1142.3,920.8 1144.3,925.6 1146.3,930.5 1148.3,935.3 1150.2,940.2 1152.2,945.0 1154.2,949.9 1156.2,954.6 1158.2,959.4 1160.1,964.0 1162.1,968.6 1164.1,973.1 1166.1,977.6 1168.1,981.9 1170.1,986.1 1172.0,990.3 1174.0,994.3 1176.0,998.2 1178.0,1002.0 1180.0,1005.6 1181.9,1009.1 1183.9,1012.5 1185.9,1015.8 1187.9,1018.9 1189.9,1022.0 1191.8,1024.8 1193.8,1027.6 1195.8,1030.2 1197.8,1032.7 1199.8,1035.1 1201.7,1037.3 1203.7,1039.4 1205.7,1041.5 1207.7,1043.4 1209.7,1045.1 1211.7,1046.8 1213.6,1048.4 1215.6,1049.9 1217.6,1051.3 1219.6,1052.6 1221.6,1053.8 1223.5,1054.9 1225.5,1056.0 1227.5,1057.0 1229.5,1057.9 1231.5,1058.7 1233.4,1059.5 1235.4,1060.2 1237.4,1060.8 1239.4,1061.5 1241.4,1062.0 1243.4,1062.5 1245.3,1063.0 1247.3,1063.4 1249.3,1063.8 1251.3,1064.2 1253.3,1064.5 1255.2,1064.8 1257.2,1065.1 1259.2,1065.3 1261.2,1065.5 1263.2,1065.7 1265.1,1065.9 1267.1,1066.1 1269.1,1066.2 1271.1,1066.4 1273.1,1066.5 1275.0,1066.6 1277.0,1066.7 1279.0,1066.8 1281.0,1066.8 1283.0,1066.9 1285.0,1067.0 1286.9,1067.0 1288.9,1067.1 1290.9,1067.1 1292.9,1067.1 1294.9,1067.2 1296.8,1067.2 1298.8,1067.2 1300.8,1067.2 1302.8,1067.3 1304.8,1067.3 1306.7,1067.3 1308.7,1067.3 1310.7,1067.3 1312.7,1067.3 1314.7,1067.3 1316.6,1067.4 1318.6,1067.4 1320.6,1067.4 1322.6,1067.4 1324.6,1067.4 1326.6,1067.4 1328.5,1067.4 1330.5,1067.4 1332.5,1067.4 1334.5,1067.4 1336.5,1067.4 1338.4,1067.4 1340.4,1067.4 1342.4,1067.4" fill="none" stroke="#fb800a" stroke-width="2.6" stroke-linejoin="miter" stroke-linecap="butt" stroke-dasharray="9 5"/>
<polyline points="946.2,1060.1 948.2,1059.3 950.2,1058.4 952.1,1057.4 954.1,1056.4 956.1,1055.2 958.1,1053.9 960.1,1052.6 962.0,1051.1 964.0,1049.5 966.0,1047.8 968.0,1046.0 970.0,1044.0 972.0,1041.9 973.9,1039.6 975.9,1037.2 977.9,1034.7 979.9,1032.0 981.9,1029.1 983.8,1026.1 985.8,1022.9 987.8,1019.5 989.8,1016.0 991.8,1012.3 993.7,1008.4 995.7,1004.4 997.7,1000.2 999.7,995.8 1001.7,991.4 1003.6,986.7 1005.6,981.9 1007.6,977.0 1009.6,972.0 1011.6,966.9 1013.6,961.6 1015.5,956.3 1017.5,950.9 1019.5,945.5 1021.5,940.0 1023.5,934.5 1025.4,929.0 1027.4,923.5 1029.4,918.1 1031.4,912.7 1033.4,907.4 1035.3,902.1 1037.3,897.0 1039.3,892.1 1041.3,887.3 1043.3,882.7 1045.2,878.2 1047.2,874.1 1049.2,870.1 1051.2,866.4 1053.2,863.0 1055.2,859.9 1057.1,857.1 1059.1,854.6 1061.1,852.4 1063.1,850.6 1065.1,849.2 1067.0,848.1 1069.0,847.4 1071.0,847.0 1073.0,847.1 1075.0,847.5 1076.9,848.2 1078.9,849.4 1080.9,850.9 1082.9,852.7 1084.9,854.9 1086.9,857.5 1088.8,860.3 1090.8,863.5 1092.8,866.9 1094.8,870.7 1096.8,874.6 1098.7,878.9 1100.7,883.3 1102.7,888.0 1104.7,892.8 1106.7,897.8 1108.6,902.9 1110.6,908.1 1112.6,913.4 1114.6,918.8 1116.6,924.3 1118.5,929.8 1120.5,935.3 1122.5,940.8 1124.5,946.3 1126.5,951.7 1128.5,957.1 1130.4,962.4 1132.4,967.6 1134.4,972.7 1136.4,977.7 1138.4,982.6 1140.3,987.4 1142.3,992.0 1144.3,996.5 1146.3,1000.8 1148.3,1005.0 1150.2,1009.0 1152.2,1012.8 1154.2,1016.5 1156.2,1020.0 1158.2,1023.3 1160.1,1026.5 1162.1,1029.5 1164.1,1032.4 1166.1,1035.0 1168.1,1037.6 1170.1,1040.0 1172.0,1042.2 1174.0,1044.3 1176.0,1046.2 1178.0,1048.1 1180.0,1049.7 1181.9,1051.3 1183.9,1052.8 1185.9,1054.1 1187.9,1055.4 1189.9,1056.5 1191.8,1057.6 1193.8,1058.5 1195.8,1059.4 1197.8,1060.2 1199.8,1061.0 1201.7,1061.6 1203.7,1062.3 1205.7,1062.8 1207.7,1063.3 1209.7,1063.8 1211.7,1064.2 1213.6,1064.5 1215.6,1064.9 1217.6,1065.2 1219.6,1065.4 1221.6,1065.7 1223.5,1065.9 1225.5,1066.1 1227.5,1066.2 1229.5,1066.4 1231.5,1066.5 1233.4,1066.6 1235.4,1066.7 1237.4,1066.8 1239.4,1066.9 1241.4,1067.0 1243.4,1067.0 1245.3,1067.1 1247.3,1067.1 1249.3,1067.2 1251.3,1067.2 1253.3,1067.2 1255.2,1067.2 1257.2,1067.3 1259.2,1067.3 1261.2,1067.3 1263.2,1067.3 1265.1,1067.3 1267.1,1067.3 1269.1,1067.4 1271.1,1067.4 1273.1,1067.4 1275.0,1067.4 1277.0,1067.4 1279.0,1067.4 1281.0,1067.4 1283.0,1067.4 1285.0,1067.4 1286.9,1067.4 1288.9,1067.4 1290.9,1067.4 1292.9,1067.4 1294.9,1067.4 1296.8,1067.4 1298.8,1067.4 1300.8,1067.4 1302.8,1067.4 1304.8,1067.4 1306.7,1067.4 1308.7,1067.4 1310.7,1067.4 1312.7,1067.4 1314.7,1067.4 1316.6,1067.4 1318.6,1067.4 1320.6,1067.4 1322.6,1067.4 1324.6,1067.4 1326.6,1067.4 1328.5,1067.4 1330.5,1067.4 1332.5,1067.4 1334.5,1067.4 1336.5,1067.4 1338.4,1067.4 1340.4,1067.4 1342.4,1067.4" fill="none" stroke="#0000ff" stroke-width="2.6" stroke-linejoin="miter" stroke-linecap="butt"/>
<polyline points="946.2,1034.7 948.2,1032.3 950.2,1029.6 952.1,1026.9 954.1,1024.0 956.1,1020.9 958.1,1017.8 960.1,1014.4 962.0,1011.0 964.0,1007.3 966.0,1003.6 968.0,999.7 970.0,995.6 972.0,991.5 973.9,987.2 975.9,982.7 977.9,978.2 979.9,973.5 981.9,968.7 983.8,963.8 985.8,958.8 987.8,953.8 989.8,948.7 991.8,943.5 993.7,938.3 995.7,933.0 997.7,927.7 999.7,922.4 1001.7,917.1 1003.6,911.9 1005.6,906.7 1007.6,901.5 1009.6,896.4 1011.6,891.4 1013.6,886.5 1015.5,881.7 1017.5,877.1 1019.5,872.6 1021.5,868.3 1023.5,864.1 1025.4,860.2 1027.4,856.5 1029.4,853.0 1031.4,849.8 1033.4,846.8 1035.3,844.1 1037.3,841.6 1039.3,839.5 1041.3,837.7 1043.3,836.1 1045.2,834.9 1047.2,834.0 1049.2,833.4 1051.2,833.1 1053.2,833.2 1055.2,833.6 1057.1,834.3 1059.1,835.3 1061.1,836.7 1063.1,838.3 1065.1,840.3 1067.0,842.5 1069.0,845.1 1071.0,847.9 1073.0,850.9 1075.0,854.3 1076.9,857.8 1078.9,861.6 1080.9,865.6 1082.9,869.9 1084.9,874.2 1086.9,878.8 1088.8,883.5 1090.8,888.3 1092.8,893.2 1094.8,898.3 1096.8,903.4 1098.7,908.6 1100.7,913.8 1102.7,919.1 1104.7,924.4 1106.7,929.7 1108.6,935.0 1110.6,940.2 1112.6,945.4 1114.6,950.6 1116.6,955.7 1118.5,960.7 1120.5,965.6 1122.5,970.5 1124.5,975.2 1126.5,979.9 1128.5,984.4 1130.4,988.8 1132.4,993.0 1134.4,997.2 1136.4,1001.1 1138.4,1005.0 1140.3,1008.7 1142.3,1012.3 1144.3,1015.7 1146.3,1019.0 1148.3,1022.1 1150.2,1025.1 1152.2,1027.9 1154.2,1030.6 1156.2,1033.2 1158.2,1035.6 1160.1,1037.9 1162.1,1040.1 1164.1,1042.1 1166.1,1044.1 1168.1,1045.9 1170.1,1047.6 1172.0,1049.2 1174.0,1050.6 1176.0,1052.0 1178.0,1053.3 1180.0,1054.5 1181.9,1055.6 1183.9,1056.7 1185.9,1057.6 1187.9,1058.5 1189.9,1059.3 1191.8,1060.1 1193.8,1060.8 1195.8,1061.4 1197.8,1062.0 1199.8,1062.5 1201.7,1063.0 1203.7,1063.4 1205.7,1063.8 1207.7,1064.2 1209.7,1064.5 1211.7,1064.8 1213.6,1065.1 1215.6,1065.4 1217.6,1065.6 1219.6,1065.8 1221.6,1066.0 1223.5,1066.1 1225.5,1066.3 1227.5,1066.4 1229.5,1066.5 1231.5,1066.6 1233.4,1066.7 1235.4,1066.8 1237.4,1066.9 1239.4,1066.9 1241.4,1067.0 1243.4,1067.0 1245.3,1067.1 1247.3,1067.1 1249.3,1067.2 1251.3,1067.2 1253.3,1067.2 1255.2,1067.2 1257.2,1067.3 1259.2,1067.3 1261.2,1067.3 1263.2,1067.3 1265.1,1067.3 1267.1,1067.3 1269.1,1067.3 1271.1,1067.4 1273.1,1067.4 1275.0,1067.4 1277.0,1067.4 1279.0,1067.4 1281.0,1067.4 1283.0,1067.4 1285.0,1067.4 1286.9,1067.4 1288.9,1067.4 1290.9,1067.4 1292.9,1067.4 1294.9,1067.4 1296.8,1067.4 1298.8,1067.4 1300.8,1067.4 1302.8,1067.4 1304.8,1067.4 1306.7,1067.4 1308.7,1067.4 1310.7,1067.4 1312.7,1067.4 1314.7,1067.4 1316.6,1067.4 1318.6,1067.4 1320.6,1067.4 1322.6,1067.4 1324.6,1067.4 1326.6,1067.4 1328.5,1067.4 1330.5,1067.4 1332.5,1067.4 1334.5,1067.4 1336.5,1067.4 1338.4,1067.4 1340.4,1067.4 1342.4,1067.4" fill="none" stroke="#fb800a" stroke-width="2.6" stroke-linejoin="miter" stroke-linecap="butt"/>
<rect x="940.6" y="1061.8" width="11.2" height="11.2" fill="#fb800a"/>
<rect x="977.7" y="1000.8" width="11.2" height="11.2" fill="#fb800a"/>
<line x1="1020.3" y1="872.6" x2="1020.3" y2="814.1" stroke="#fb800a" stroke-width="2.4" stroke-linecap="butt"/>
<line x1="1014.3" y1="872.6" x2="1026.3" y2="872.6" stroke="#fb800a" stroke-width="2.4" stroke-linecap="butt"/>
<rect x="1014.7" y="808.5" width="11.2" height="11.2" fill="#fb800a"/>
<line x1="1057.4" y1="882.5" x2="1057.4" y2="860.5" stroke="#fb800a" stroke-width="2.4" stroke-linecap="butt"/>
<line x1="1051.4" y1="882.5" x2="1063.4" y2="882.5" stroke="#fb800a" stroke-width="2.4" stroke-linecap="butt"/>
<rect x="1051.8" y="854.9" width="11.2" height="11.2" fill="#fb800a"/>
<line x1="1094.5" y1="941.3" x2="1094.5" y2="912.1" stroke="#fb800a" stroke-width="2.4" stroke-linecap="butt"/>
<line x1="1088.5" y1="941.3" x2="1100.5" y2="941.3" stroke="#fb800a" stroke-width="2.4" stroke-linecap="butt"/>
<rect x="1088.9" y="906.5" width="11.2" height="11.2" fill="#fb800a"/>
<line x1="1131.6" y1="988.5" x2="1131.6" y2="970.2" stroke="#fb800a" stroke-width="2.4" stroke-linecap="butt"/>
<line x1="1125.6" y1="988.5" x2="1137.6" y2="988.5" stroke="#fb800a" stroke-width="2.4" stroke-linecap="butt"/>
<rect x="1126.0" y="964.6" width="11.2" height="11.2" fill="#fb800a"/>
<rect x="1163.0" y="1011.0" width="11.2" height="11.2" fill="#fb800a"/>
<rect x="1200.1" y="1036.9" width="11.2" height="11.2" fill="#fb800a"/>
<rect x="1237.2" y="1055.2" width="11.2" height="11.2" fill="#fb800a"/>
<rect x="1274.3" y="1060.0" width="11.2" height="11.2" fill="#fb800a"/>
<rect x="1311.3" y="1061.8" width="11.2" height="11.2" fill="#fb800a"/>
<rect x="941.2" y="1062.4" width="10.1" height="10.1" fill="none" stroke="#fb800a" stroke-width="1.9"/>
<line x1="983.3" y1="1046.6" x2="983.3" y2="1024.6" stroke="#fb800a" stroke-width="2.4" stroke-linecap="butt"/>
<line x1="977.3" y1="1024.6" x2="989.3" y2="1024.6" stroke="#fb800a" stroke-width="2.4" stroke-linecap="butt"/>
<rect x="978.2" y="1041.5" width="10.1" height="10.1" fill="none" stroke="#fb800a" stroke-width="1.9"/>
<line x1="1020.3" y1="960.3" x2="1020.3" y2="931.1" stroke="#fb800a" stroke-width="2.4" stroke-linecap="butt"/>
<line x1="1014.3" y1="931.1" x2="1026.3" y2="931.1" stroke="#fb800a" stroke-width="2.4" stroke-linecap="butt"/>
<rect x="1015.3" y="955.3" width="10.1" height="10.1" fill="none" stroke="#fb800a" stroke-width="1.9"/>
<line x1="1057.4" y1="872.2" x2="1057.4" y2="835.7" stroke="#fb800a" stroke-width="2.4" stroke-linecap="butt"/>
<line x1="1051.4" y1="835.7" x2="1063.4" y2="835.7" stroke="#fb800a" stroke-width="2.4" stroke-linecap="butt"/>
<rect x="1052.4" y="867.2" width="10.1" height="10.1" fill="none" stroke="#fb800a" stroke-width="1.9"/>
<line x1="1094.5" y1="846.6" x2="1094.5" y2="802.8" stroke="#fb800a" stroke-width="2.4" stroke-linecap="butt"/>
<line x1="1088.5" y1="802.8" x2="1100.5" y2="802.8" stroke="#fb800a" stroke-width="2.4" stroke-linecap="butt"/>
<rect x="1089.4" y="841.6" width="10.1" height="10.1" fill="none" stroke="#fb800a" stroke-width="1.9"/>
<line x1="1131.6" y1="905.5" x2="1131.6" y2="872.6" stroke="#fb800a" stroke-width="2.4" stroke-linecap="butt"/>
<line x1="1125.6" y1="872.6" x2="1137.6" y2="872.6" stroke="#fb800a" stroke-width="2.4" stroke-linecap="butt"/>
<rect x="1126.5" y="900.4" width="10.1" height="10.1" fill="none" stroke="#fb800a" stroke-width="1.9"/>
<line x1="1168.6" y1="981.9" x2="1168.6" y2="963.6" stroke="#fb800a" stroke-width="2.4" stroke-linecap="butt"/>
<line x1="1162.6" y1="963.6" x2="1174.6" y2="963.6" stroke="#fb800a" stroke-width="2.4" stroke-linecap="butt"/>
<rect x="1163.6" y="976.8" width="10.1" height="10.1" fill="none" stroke="#fb800a" stroke-width="1.9"/>
<line x1="1205.7" y1="1025.0" x2="1205.7" y2="1014.0" stroke="#fb800a" stroke-width="2.4" stroke-linecap="butt"/>
<line x1="1199.7" y1="1014.0" x2="1211.7" y2="1014.0" stroke="#fb800a" stroke-width="2.4" stroke-linecap="butt"/>
<rect x="1200.7" y="1020.0" width="10.1" height="10.1" fill="none" stroke="#fb800a" stroke-width="1.9"/>
<line x1="1242.8" y1="1049.5" x2="1242.8" y2="1045.8" stroke="#fb800a" stroke-width="2.4" stroke-linecap="butt"/>
<line x1="1236.8" y1="1045.8" x2="1248.8" y2="1045.8" stroke="#fb800a" stroke-width="2.4" stroke-linecap="butt"/>
<rect x="1237.7" y="1044.4" width="10.1" height="10.1" fill="none" stroke="#fb800a" stroke-width="1.9"/>
<rect x="1274.8" y="1055.4" width="10.1" height="10.1" fill="none" stroke="#fb800a" stroke-width="1.9"/>
<rect x="1311.9" y="1059.8" width="10.1" height="10.1" fill="none" stroke="#fb800a" stroke-width="1.9"/>
<circle cx="946.2" cy="1067.4" r="5.6" fill="#0000ff"/>
<line x1="983.3" y1="1049.9" x2="983.3" y2="1038.9" stroke="#0000ff" stroke-width="2.4" stroke-linecap="butt"/>
<line x1="977.3" y1="1049.9" x2="989.3" y2="1049.9" stroke="#0000ff" stroke-width="2.4" stroke-linecap="butt"/>
<circle cx="983.3" cy="1038.9" r="5.6" fill="#0000ff"/>
<line x1="1020.3" y1="974.6" x2="1020.3" y2="938.0" stroke="#0000ff" stroke-width="2.4" stroke-linecap="butt"/>
<line x1="1014.3" y1="974.6" x2="1026.3" y2="974.6" stroke="#0000ff" stroke-width="2.4" stroke-linecap="butt"/>
<circle cx="1020.3" cy="938.0" r="5.6" fill="#0000ff"/>
<line x1="1057.4" y1="884.7" x2="1057.4" y2="848.1" stroke="#0000ff" stroke-width="2.4" stroke-linecap="butt"/>
<line x1="1051.4" y1="884.7" x2="1063.4" y2="884.7" stroke="#0000ff" stroke-width="2.4" stroke-linecap="butt"/>
<circle cx="1057.4" cy="848.1" r="5.6" fill="#0000ff"/>
<line x1="1094.5" y1="918.6" x2="1094.5" y2="882.1" stroke="#0000ff" stroke-width="2.4" stroke-linecap="butt"/>
<line x1="1088.5" y1="918.6" x2="1100.5" y2="918.6" stroke="#0000ff" stroke-width="2.4" stroke-linecap="butt"/>
<circle cx="1094.5" cy="882.1" r="5.6" fill="#0000ff"/>
<line x1="1131.6" y1="989.5" x2="1131.6" y2="971.3" stroke="#0000ff" stroke-width="2.4" stroke-linecap="butt"/>
<line x1="1125.6" y1="989.5" x2="1137.6" y2="989.5" stroke="#0000ff" stroke-width="2.4" stroke-linecap="butt"/>
<circle cx="1131.6" cy="971.3" r="5.6" fill="#0000ff"/>
<circle cx="1168.6" cy="1029.8" r="5.6" fill="#0000ff"/>
<circle cx="1205.7" cy="1050.6" r="5.6" fill="#0000ff"/>
<circle cx="1242.8" cy="1063.0" r="5.6" fill="#0000ff"/>
<circle cx="1279.9" cy="1066.3" r="5.6" fill="#0000ff"/>
<circle cx="1316.9" cy="1067.4" r="5.6" fill="#0000ff"/>
<circle cx="946.2" cy="1067.4" r="5.0" fill="none" stroke="#0000ff" stroke-width="1.9"/>
<line x1="983.3" y1="1030.5" x2="983.3" y2="968.3" stroke="#0000ff" stroke-width="2.4" stroke-linecap="butt"/>
<line x1="977.3" y1="1030.5" x2="989.3" y2="1030.5" stroke="#0000ff" stroke-width="2.4" stroke-linecap="butt"/>
<circle cx="983.3" cy="968.3" r="5.0" fill="none" stroke="#0000ff" stroke-width="1.9"/>
<line x1="1020.3" y1="892.7" x2="1020.3" y2="832.4" stroke="#0000ff" stroke-width="2.4" stroke-linecap="butt"/>
<line x1="1014.3" y1="892.7" x2="1026.3" y2="892.7" stroke="#0000ff" stroke-width="2.4" stroke-linecap="butt"/>
<circle cx="1020.3" cy="832.4" r="5.0" fill="none" stroke="#0000ff" stroke-width="1.9"/>
<line x1="1057.4" y1="911.3" x2="1057.4" y2="865.6" stroke="#0000ff" stroke-width="2.4" stroke-linecap="butt"/>
<line x1="1051.4" y1="911.3" x2="1063.4" y2="911.3" stroke="#0000ff" stroke-width="2.4" stroke-linecap="butt"/>
<circle cx="1057.4" cy="865.6" r="5.0" fill="none" stroke="#0000ff" stroke-width="1.9"/>
<line x1="1094.5" y1="943.1" x2="1094.5" y2="902.9" stroke="#0000ff" stroke-width="2.4" stroke-linecap="butt"/>
<line x1="1088.5" y1="943.1" x2="1100.5" y2="943.1" stroke="#0000ff" stroke-width="2.4" stroke-linecap="butt"/>
<circle cx="1094.5" cy="902.9" r="5.0" fill="none" stroke="#0000ff" stroke-width="1.9"/>
<line x1="1131.6" y1="1018.1" x2="1131.6" y2="999.8" stroke="#0000ff" stroke-width="2.4" stroke-linecap="butt"/>
<line x1="1125.6" y1="1018.1" x2="1137.6" y2="1018.1" stroke="#0000ff" stroke-width="2.4" stroke-linecap="butt"/>
<circle cx="1131.6" cy="999.8" r="5.0" fill="none" stroke="#0000ff" stroke-width="1.9"/>
<line x1="1168.6" y1="1052.0" x2="1168.6" y2="1044.7" stroke="#0000ff" stroke-width="2.4" stroke-linecap="butt"/>
<line x1="1162.6" y1="1052.0" x2="1174.6" y2="1052.0" stroke="#0000ff" stroke-width="2.4" stroke-linecap="butt"/>
<circle cx="1168.6" cy="1044.7" r="5.0" fill="none" stroke="#0000ff" stroke-width="1.9"/>
<circle cx="1205.7" cy="1059.7" r="5.0" fill="none" stroke="#0000ff" stroke-width="1.9"/>
<circle cx="1242.8" cy="1063.0" r="5.0" fill="none" stroke="#0000ff" stroke-width="1.9"/>
<circle cx="1279.9" cy="1066.3" r="5.0" fill="none" stroke="#0000ff" stroke-width="1.9"/>
<circle cx="1316.9" cy="1067.4" r="5.0" fill="none" stroke="#0000ff" stroke-width="1.9"/>
<line x1="1146.8" y1="803.7" x2="1160.8" y2="803.7" stroke="#0000ff" stroke-width="2.5" stroke-linecap="butt"/>
<circle cx="1153.8" cy="803.7" r="5.0" fill="none" stroke="#0000ff" stroke-width="1.9"/>
<text x="1166.0" y="810.8" font-size="24.1" font-weight="normal" text-anchor="start" fill="#000">CON-VEH</text>
<line x1="1146.8" y1="829.5" x2="1160.8" y2="829.5" stroke="#fb800a" stroke-width="2.5" stroke-linecap="butt"/>
<rect x="1148.8" y="824.5" width="10.1" height="10.1" fill="none" stroke="#fb800a" stroke-width="1.9"/>
<text x="1166.0" y="833.8" font-size="24.1" font-weight="normal" text-anchor="start" fill="#000">CON-VIT<tspan font-size="15.906000000000002" dy="7.2">D</tspan></text>
<line x1="1146.8" y1="853.1" x2="1160.8" y2="853.1" stroke="#0000ff" stroke-width="2.5" stroke-linecap="butt"/>
<circle cx="1153.8" cy="853.1" r="5.2" fill="#0000ff"/>
<text x="1166.0" y="859.6" font-size="24.1" font-weight="normal" text-anchor="start" fill="#000">POL-VEH</text>
<line x1="1146.8" y1="878.9" x2="1160.8" y2="878.9" stroke="#fb800a" stroke-width="2.5" stroke-linecap="butt"/>
<rect x="1148.8" y="873.9" width="10.0" height="10.0" fill="#fb800a"/>
<text x="1166.0" y="882.5" font-size="24.1" font-weight="normal" text-anchor="start" fill="#000">POL-VIT<tspan font-size="15.906000000000002" dy="7.2">D</tspan></text>
<polyline points="1279.4,803.5 1291.9,803.5 1291.9,824.8 1279.4,824.8" fill="none" stroke="#000" stroke-width="2.1" stroke-linejoin="miter" stroke-linecap="butt"/>
<polyline points="1279.4,828.4 1311.9,828.4 1311.9,875.2 1280.3,875.2" fill="none" stroke="#000" stroke-width="2.1" stroke-linejoin="miter" stroke-linecap="butt"/>
<polyline points="1280.0,832.3 1291.9,832.3 1291.9,853.9 1280.0,853.9" fill="none" stroke="#000" stroke-width="2.1" stroke-linejoin="miter" stroke-linecap="butt"/>
<text x="1293.9" y="837.5" font-size="44" font-weight="normal" text-anchor="start" fill="#000">*</text>
<text x="1293.6" y="862.0" font-size="44" font-weight="normal" text-anchor="start" fill="#000">*</text>
<text x="1314.6" y="870.1" font-size="44" font-weight="normal" text-anchor="start" fill="#000">*</text>
<text x="856.0" y="653.0" font-size="56" font-weight="bold" text-anchor="start" fill="#000">F</text>
<line x1="950.8" y1="1233.9" x2="950.8" y2="1314.6" stroke="#000" stroke-width="3.6" stroke-linecap="butt"/>
<line x1="949.0" y1="1312.8" x2="1346.2" y2="1312.8" stroke="#000" stroke-width="3.6" stroke-linecap="butt"/>
<line x1="950.8" y1="1312.8" x2="950.8" y2="1319.8" stroke="#000" stroke-width="3.6" stroke-linecap="butt"/>
<line x1="1082.5" y1="1312.8" x2="1082.5" y2="1319.8" stroke="#000" stroke-width="3.6" stroke-linecap="butt"/>
<line x1="1213.3" y1="1312.8" x2="1213.3" y2="1319.8" stroke="#000" stroke-width="3.6" stroke-linecap="butt"/>
<line x1="1345.4" y1="1312.8" x2="1345.4" y2="1319.8" stroke="#000" stroke-width="3.6" stroke-linecap="butt"/>
<line x1="943.8" y1="1245.7" x2="950.8" y2="1245.7" stroke="#000" stroke-width="3.6" stroke-linecap="butt"/>
<line x1="1068.8" y1="1245.7" x2="1073.5" y2="1245.7" stroke="#0000ff" stroke-width="2.8" stroke-linecap="butt"/>
<line x1="1073.5" y1="1241.7" x2="1073.5" y2="1249.7" stroke="#0000ff" stroke-width="2.8" stroke-linecap="round"/>
<rect x="954.0" y="1240.0" width="113.4" height="11.3" fill="#fff" stroke="#0000ff" stroke-width="2.8"/>
<text transform="translate(941.3 1251.2) scale(1.0 1)" font-size="17.3" font-weight="bold" text-anchor="end">CON-VEH</text>
<line x1="943.8" y1="1263.8" x2="950.8" y2="1263.8" stroke="#000" stroke-width="3.6" stroke-linecap="butt"/>
<line x1="1100.0" y1="1263.8" x2="1104.7" y2="1263.8" stroke="#fb800a" stroke-width="2.8" stroke-linecap="butt"/>
<line x1="1104.7" y1="1259.8" x2="1104.7" y2="1267.8" stroke="#fb800a" stroke-width="2.8" stroke-linecap="round"/>
<rect x="954.0" y="1258.0" width="144.6" height="11.6" fill="#fff" stroke="#fb800a" stroke-width="2.8"/>
<text transform="translate(941.3 1266.9) scale(1.0 1)" font-size="17.3" font-weight="bold" text-anchor="end">CON-VIT<tspan font-size="13.3" dy="5.3">D</tspan></text>
<line x1="943.8" y1="1282.2" x2="950.8" y2="1282.2" stroke="#000" stroke-width="3.6" stroke-linecap="butt"/>
<line x1="1089.1" y1="1282.2" x2="1094.2" y2="1282.2" stroke="#0000ff" stroke-width="2.8" stroke-linecap="butt"/>
<line x1="1094.2" y1="1278.2" x2="1094.2" y2="1286.2" stroke="#0000ff" stroke-width="2.8" stroke-linecap="round"/>
<rect x="952.6" y="1275.0" width="136.5" height="14.4" fill="#0000ff"/>
<text transform="translate(941.3 1287.7) scale(1.0 1)" font-size="17.3" font-weight="bold" text-anchor="end">POL-VEH</text>
<line x1="943.8" y1="1300.7" x2="950.8" y2="1300.7" stroke="#000" stroke-width="3.6" stroke-linecap="butt"/>
<line x1="1119.6" y1="1300.7" x2="1122.3" y2="1300.7" stroke="#fb800a" stroke-width="2.8" stroke-linecap="butt"/>
<line x1="1122.3" y1="1296.7" x2="1122.3" y2="1304.7" stroke="#fb800a" stroke-width="2.8" stroke-linecap="round"/>
<rect x="952.6" y="1293.3" width="167.0" height="14.8" fill="#fb800a"/>
<text transform="translate(941.3 1303.8) scale(1.0 1)" font-size="17.3" font-weight="bold" text-anchor="end">POL-VIT<tspan font-size="13.3" dy="5.3">D</tspan></text>
<polyline points="1081.7,1245.6 1128.2,1245.6 1128.2,1281.6 1109.8,1281.6" fill="none" stroke="#000" stroke-width="2.6" stroke-linejoin="miter" stroke-linecap="butt"/>
<polyline points="1111.0,1264.4 1143.8,1264.4 1143.8,1301.5 1131.3,1301.5" fill="none" stroke="#000" stroke-width="2.6" stroke-linejoin="miter" stroke-linecap="butt"/>
<polyline points="1128.2,1257.3 1182.9,1257.3 1182.9,1285.5 1143.8,1285.5" fill="none" stroke="#000" stroke-width="2.6" stroke-linejoin="miter" stroke-linecap="butt"/>
<text x="1187.0" y="1297.0" font-size="46" font-weight="normal" text-anchor="start" fill="#000">**</text>
<line x1="949.6" y1="1340.5" x2="949.6" y2="1651.6" stroke="#000" stroke-width="3.2" stroke-linecap="butt"/>
<line x1="948.0" y1="1650.0" x2="1367.1" y2="1650.0" stroke="#000" stroke-width="3.2" stroke-linecap="butt"/>
<line x1="943.6" y1="1650.0" x2="949.6" y2="1650.0" stroke="#000" stroke-width="3.2" stroke-linecap="butt"/>
<text x="943.3" y="1657.8" font-size="21.8" font-weight="bold" text-anchor="end" fill="#000">0</text>
<line x1="943.6" y1="1573.0" x2="949.6" y2="1573.0" stroke="#000" stroke-width="3.2" stroke-linecap="butt"/>
<text x="943.3" y="1580.9" font-size="21.8" font-weight="bold" text-anchor="end" fill="#000">50</text>
<line x1="943.6" y1="1496.0" x2="949.6" y2="1496.0" stroke="#000" stroke-width="3.2" stroke-linecap="butt"/>
<text x="943.3" y="1503.9" font-size="21.8" font-weight="bold" text-anchor="end" fill="#000">100</text>
<line x1="943.6" y1="1419.1" x2="949.6" y2="1419.1" stroke="#000" stroke-width="3.2" stroke-linecap="butt"/>
<text x="943.3" y="1426.9" font-size="21.8" font-weight="bold" text-anchor="end" fill="#000">150</text>
<line x1="943.6" y1="1342.1" x2="949.6" y2="1342.1" stroke="#000" stroke-width="3.2" stroke-linecap="butt"/>
<text x="943.3" y="1349.9" font-size="21.8" font-weight="bold" text-anchor="end" fill="#000">200</text>
<line x1="950.0" y1="1650.0" x2="950.0" y2="1656.0" stroke="#000" stroke-width="3.2" stroke-linecap="butt"/>
<text x="950.0" y="1674.6" font-size="21.8" font-weight="bold" text-anchor="middle" fill="#000">0</text>
<line x1="1088.5" y1="1650.0" x2="1088.5" y2="1656.0" stroke="#000" stroke-width="3.2" stroke-linecap="butt"/>
<text x="1088.5" y="1674.6" font-size="21.8" font-weight="bold" text-anchor="middle" fill="#000">1</text>
<line x1="1227.0" y1="1650.0" x2="1227.0" y2="1656.0" stroke="#000" stroke-width="3.2" stroke-linecap="butt"/>
<text x="1227.0" y="1674.6" font-size="21.8" font-weight="bold" text-anchor="middle" fill="#000">2</text>
<line x1="1365.5" y1="1650.0" x2="1365.5" y2="1656.0" stroke="#000" stroke-width="3.2" stroke-linecap="butt"/>
<text x="1365.5" y="1674.6" font-size="21.8" font-weight="bold" text-anchor="middle" fill="#000">3</text>
<text x="902.3" y="1496.5" font-size="25.74" font-weight="bold" text-anchor="middle" transform="rotate(-90 902.3 1496.5)">Cell number per bin</text>
<text x="1157.8" y="1699.8" font-size="20.07" font-weight="bold" text-anchor="middle">Bins (mean gray value x 10<tspan font-size="12.4" dy="-7.6">3</tspan><tspan dy="7.6">)</tspan></text>
<polyline points="950.0,1649.3 952.1,1649.1 954.2,1649.0 956.2,1648.8 958.3,1648.6 960.4,1648.4 962.5,1648.1 964.5,1647.8 966.6,1647.5 968.7,1647.1 970.8,1646.6 972.9,1646.2 974.9,1645.6 977.0,1645.0 979.1,1644.3 981.2,1643.5 983.2,1642.7 985.3,1641.7 987.4,1640.6 989.5,1639.5 991.5,1638.2 993.6,1636.8 995.7,1635.3 997.8,1633.6 999.9,1631.8 1001.9,1629.9 1004.0,1627.7 1006.1,1625.5 1008.2,1623.0 1010.2,1620.4 1012.3,1617.7 1014.4,1614.7 1016.5,1611.6 1018.6,1608.3 1020.6,1604.9 1022.7,1601.3 1024.8,1597.5 1026.9,1593.6 1028.9,1589.5 1031.0,1585.3 1033.1,1581.0 1035.2,1576.6 1037.3,1572.0 1039.3,1567.5 1041.4,1562.8 1043.5,1558.2 1045.6,1553.5 1047.6,1548.9 1049.7,1544.3 1051.8,1539.7 1053.9,1535.3 1056.0,1530.9 1058.0,1526.7 1060.1,1522.7 1062.2,1518.9 1064.3,1515.3 1066.3,1511.9 1068.4,1508.9 1070.5,1506.1 1072.6,1503.6 1074.7,1501.4 1076.7,1499.6 1078.8,1498.2 1080.9,1497.1 1083.0,1496.4 1085.0,1496.1 1087.1,1496.1 1089.2,1496.6 1091.3,1497.4 1093.3,1498.6 1095.4,1500.2 1097.5,1502.1 1099.6,1504.4 1101.7,1507.0 1103.7,1509.8 1105.8,1513.0 1107.9,1516.5 1110.0,1520.1 1112.0,1524.0 1114.1,1528.1 1116.2,1532.3 1118.3,1536.7 1120.4,1541.2 1122.4,1545.8 1124.5,1550.4 1126.6,1555.1 1128.7,1559.7 1130.7,1564.4 1132.8,1569.0 1134.9,1573.6 1137.0,1578.0 1139.1,1582.4 1141.1,1586.7 1143.2,1590.9 1145.3,1594.9 1147.4,1598.8 1149.4,1602.5 1151.5,1606.0 1153.6,1609.4 1155.7,1612.7 1157.8,1615.7 1159.8,1618.6 1161.9,1621.3 1164.0,1623.9 1166.1,1626.2 1168.1,1628.5 1170.2,1630.5 1172.3,1632.4 1174.4,1634.2 1176.4,1635.8 1178.5,1637.3 1180.6,1638.6 1182.7,1639.9 1184.8,1641.0 1186.8,1642.0 1188.9,1642.9 1191.0,1643.8 1193.1,1644.5 1195.1,1645.2 1197.2,1645.8 1199.3,1646.3 1201.4,1646.8 1203.5,1647.2 1205.5,1647.6 1207.6,1647.9 1209.7,1648.2 1211.8,1648.5 1213.8,1648.7 1215.9,1648.9 1218.0,1649.0 1220.1,1649.2 1222.2,1649.3 1224.2,1649.4 1226.3,1649.5 1228.4,1649.6 1230.5,1649.6 1232.5,1649.7 1234.6,1649.7 1236.7,1649.8 1238.8,1649.8 1240.8,1649.9 1242.9,1649.9 1245.0,1649.9 1247.1,1649.9 1249.2,1649.9 1251.2,1649.9 1253.3,1650.0 1255.4,1650.0 1257.5,1650.0 1259.5,1650.0 1261.6,1650.0 1263.7,1650.0 1265.8,1650.0 1267.9,1650.0 1269.9,1650.0 1272.0,1650.0 1274.1,1650.0 1276.2,1650.0 1278.2,1650.0 1280.3,1650.0 1282.4,1650.0 1284.5,1650.0 1286.6,1650.0 1288.6,1650.0 1290.7,1650.0 1292.8,1650.0 1294.9,1650.0 1296.9,1650.0 1299.0,1650.0 1301.1,1650.0 1303.2,1650.0 1305.3,1650.0 1307.3,1650.0 1309.4,1650.0 1311.5,1650.0 1313.6,1650.0 1315.6,1650.0 1317.7,1650.0 1319.8,1650.0 1321.9,1650.0 1324.0,1650.0 1326.0,1650.0 1328.1,1650.0 1330.2,1650.0 1332.3,1650.0 1334.3,1650.0 1336.4,1650.0 1338.5,1650.0 1340.6,1650.0 1342.6,1650.0 1344.7,1650.0 1346.8,1650.0 1348.9,1650.0 1351.0,1650.0 1353.0,1650.0 1355.1,1650.0 1357.2,1650.0 1359.3,1650.0 1361.3,1650.0 1363.4,1650.0 1365.5,1650.0" fill="none" stroke="#0000ff" stroke-width="2.6" stroke-linejoin="miter" stroke-linecap="butt" stroke-dasharray="9 5"/>
<polyline points="950.0,1650.0 952.1,1650.0 954.2,1649.9 956.2,1649.9 958.3,1649.9 960.4,1649.9 962.5,1649.9 964.5,1649.8 966.6,1649.8 968.7,1649.8 970.8,1649.7 972.9,1649.7 974.9,1649.6 977.0,1649.5 979.1,1649.4 981.2,1649.3 983.2,1649.1 985.3,1649.0 987.4,1648.8 989.5,1648.5 991.5,1648.3 993.6,1648.0 995.7,1647.6 997.8,1647.2 999.9,1646.7 1001.9,1646.2 1004.0,1645.5 1006.1,1644.8 1008.2,1644.0 1010.2,1643.1 1012.3,1642.1 1014.4,1640.9 1016.5,1639.7 1018.6,1638.2 1020.6,1636.6 1022.7,1634.8 1024.8,1632.9 1026.9,1630.7 1028.9,1628.3 1031.0,1625.7 1033.1,1622.9 1035.2,1619.8 1037.3,1616.4 1039.3,1612.8 1041.4,1609.0 1043.5,1604.8 1045.6,1600.4 1047.6,1595.7 1049.7,1590.8 1051.8,1585.5 1053.9,1580.0 1056.0,1574.3 1058.0,1568.3 1060.1,1562.1 1062.2,1555.7 1064.3,1549.1 1066.3,1542.4 1068.4,1535.5 1070.5,1528.6 1072.6,1521.6 1074.7,1514.6 1076.7,1507.6 1078.8,1500.7 1080.9,1493.9 1083.0,1487.3 1085.0,1480.9 1087.1,1474.7 1089.2,1468.8 1091.3,1463.3 1093.3,1458.1 1095.4,1453.4 1097.5,1449.1 1099.6,1445.3 1101.7,1442.1 1103.7,1439.4 1105.8,1437.2 1107.9,1435.7 1110.0,1434.8 1112.0,1434.5 1114.1,1434.8 1116.2,1435.7 1118.3,1437.2 1120.4,1439.4 1122.4,1442.1 1124.5,1445.3 1126.6,1449.1 1128.7,1453.4 1130.7,1458.1 1132.8,1463.3 1134.9,1468.8 1137.0,1474.7 1139.1,1480.9 1141.1,1487.3 1143.2,1493.9 1145.3,1500.7 1147.4,1507.6 1149.4,1514.6 1151.5,1521.6 1153.6,1528.6 1155.7,1535.5 1157.8,1542.4 1159.8,1549.1 1161.9,1555.7 1164.0,1562.1 1166.1,1568.3 1168.1,1574.3 1170.2,1580.0 1172.3,1585.5 1174.4,1590.8 1176.4,1595.7 1178.5,1600.4 1180.6,1604.8 1182.7,1609.0 1184.8,1612.8 1186.8,1616.4 1188.9,1619.8 1191.0,1622.9 1193.1,1625.7 1195.1,1628.3 1197.2,1630.7 1199.3,1632.9 1201.4,1634.8 1203.5,1636.6 1205.5,1638.2 1207.6,1639.7 1209.7,1640.9 1211.8,1642.1 1213.8,1643.1 1215.9,1644.0 1218.0,1644.8 1220.1,1645.5 1222.2,1646.2 1224.2,1646.7 1226.3,1647.2 1228.4,1647.6 1230.5,1648.0 1232.5,1648.3 1234.6,1648.5 1236.7,1648.8 1238.8,1649.0 1240.8,1649.1 1242.9,1649.3 1245.0,1649.4 1247.1,1649.5 1249.2,1649.6 1251.2,1649.7 1253.3,1649.7 1255.4,1649.8 1257.5,1649.8 1259.5,1649.8 1261.6,1649.9 1263.7,1649.9 1265.8,1649.9 1267.9,1649.9 1269.9,1649.9 1272.0,1650.0 1274.1,1650.0 1276.2,1650.0 1278.2,1650.0 1280.3,1650.0 1282.4,1650.0 1284.5,1650.0 1286.6,1650.0 1288.6,1650.0 1290.7,1650.0 1292.8,1650.0 1294.9,1650.0 1296.9,1650.0 1299.0,1650.0 1301.1,1650.0 1303.2,1650.0 1305.3,1650.0 1307.3,1650.0 1309.4,1650.0 1311.5,1650.0 1313.6,1650.0 1315.6,1650.0 1317.7,1650.0 1319.8,1650.0 1321.9,1650.0 1324.0,1650.0 1326.0,1650.0 1328.1,1650.0 1330.2,1650.0 1332.3,1650.0 1334.3,1650.0 1336.4,1650.0 1338.5,1650.0 1340.6,1650.0 1342.6,1650.0 1344.7,1650.0 1346.8,1650.0 1348.9,1650.0 1351.0,1650.0 1353.0,1650.0 1355.1,1650.0 1357.2,1650.0 1359.3,1650.0 1361.3,1650.0 1363.4,1650.0 1365.5,1650.0" fill="none" stroke="#fb800a" stroke-width="2.6" stroke-linejoin="miter" stroke-linecap="butt" stroke-dasharray="9 5"/>
<polyline points="950.0,1646.8 952.1,1646.5 954.2,1646.2 956.2,1645.8 958.3,1645.5 960.4,1645.0 962.5,1644.6 964.5,1644.1 966.6,1643.6 968.7,1643.1 970.8,1642.5 972.9,1641.9 974.9,1641.3 977.0,1640.6 979.1,1639.9 981.2,1639.1 983.2,1638.3 985.3,1637.5 987.4,1636.6 989.5,1635.7 991.5,1634.7 993.6,1633.7 995.7,1632.6 997.8,1631.5 999.9,1630.4 1001.9,1629.2 1004.0,1627.9 1006.1,1626.6 1008.2,1625.3 1010.2,1624.0 1012.3,1622.5 1014.4,1621.1 1016.5,1619.6 1018.6,1618.1 1020.6,1616.6 1022.7,1615.0 1024.8,1613.4 1026.9,1611.8 1028.9,1610.2 1031.0,1608.6 1033.1,1606.9 1035.2,1605.3 1037.3,1603.6 1039.3,1602.0 1041.4,1600.3 1043.5,1598.7 1045.6,1597.1 1047.6,1595.5 1049.7,1593.9 1051.8,1592.4 1053.9,1590.9 1056.0,1589.4 1058.0,1588.0 1060.1,1586.6 1062.2,1585.3 1064.3,1584.1 1066.3,1582.9 1068.4,1581.8 1070.5,1580.8 1072.6,1579.9 1074.7,1579.0 1076.7,1578.2 1078.8,1577.5 1080.9,1576.9 1083.0,1576.4 1085.0,1576.0 1087.1,1575.7 1089.2,1575.5 1091.3,1575.4 1093.3,1575.3 1095.4,1575.4 1097.5,1575.6 1099.6,1575.9 1101.7,1576.3 1103.7,1576.7 1105.8,1577.3 1107.9,1578.0 1110.0,1578.7 1112.0,1579.6 1114.1,1580.5 1116.2,1581.5 1118.3,1582.6 1120.4,1583.7 1122.4,1584.9 1124.5,1586.2 1126.6,1587.5 1128.7,1588.9 1130.7,1590.4 1132.8,1591.9 1134.9,1593.4 1137.0,1594.9 1139.1,1596.5 1141.1,1598.1 1143.2,1599.8 1145.3,1601.4 1147.4,1603.1 1149.4,1604.7 1151.5,1606.4 1153.6,1608.0 1155.7,1609.7 1157.8,1611.3 1159.8,1612.9 1161.9,1614.5 1164.0,1616.1 1166.1,1617.6 1168.1,1619.1 1170.2,1620.6 1172.3,1622.1 1174.4,1623.5 1176.4,1624.9 1178.5,1626.2 1180.6,1627.5 1182.7,1628.8 1184.8,1630.0 1186.8,1631.1 1188.9,1632.3 1191.0,1633.3 1193.1,1634.4 1195.1,1635.4 1197.2,1636.3 1199.3,1637.2 1201.4,1638.1 1203.5,1638.9 1205.5,1639.6 1207.6,1640.4 1209.7,1641.1 1211.8,1641.7 1213.8,1642.3 1215.9,1642.9 1218.0,1643.5 1220.1,1644.0 1222.2,1644.5 1224.2,1644.9 1226.3,1645.3 1228.4,1645.7 1230.5,1646.1 1232.5,1646.4 1234.6,1646.7 1236.7,1647.0 1238.8,1647.3 1240.8,1647.5 1242.9,1647.7 1245.0,1648.0 1247.1,1648.2 1249.2,1648.3 1251.2,1648.5 1253.3,1648.6 1255.4,1648.8 1257.5,1648.9 1259.5,1649.0 1261.6,1649.1 1263.7,1649.2 1265.8,1649.3 1267.9,1649.4 1269.9,1649.4 1272.0,1649.5 1274.1,1649.5 1276.2,1649.6 1278.2,1649.6 1280.3,1649.7 1282.4,1649.7 1284.5,1649.8 1286.6,1649.8 1288.6,1649.8 1290.7,1649.8 1292.8,1649.9 1294.9,1649.9 1296.9,1649.9 1299.0,1649.9 1301.1,1649.9 1303.2,1649.9 1305.3,1649.9 1307.3,1649.9 1309.4,1649.9 1311.5,1650.0 1313.6,1650.0 1315.6,1650.0 1317.7,1650.0 1319.8,1650.0 1321.9,1650.0 1324.0,1650.0 1326.0,1650.0 1328.1,1650.0 1330.2,1650.0 1332.3,1650.0 1334.3,1650.0 1336.4,1650.0 1338.5,1650.0 1340.6,1650.0 1342.6,1650.0 1344.7,1650.0 1346.8,1650.0 1348.9,1650.0 1351.0,1650.0 1353.0,1650.0 1355.1,1650.0 1357.2,1650.0 1359.3,1650.0 1361.3,1650.0 1363.4,1650.0 1365.5,1650.0" fill="none" stroke="#0000ff" stroke-width="2.6" stroke-linejoin="miter" stroke-linecap="butt"/>
<polyline points="950.0,1649.9 952.1,1649.9 954.2,1649.9 956.2,1649.9 958.3,1649.9 960.4,1649.9 962.5,1649.8 964.5,1649.8 966.6,1649.8 968.7,1649.7 970.8,1649.7 972.9,1649.7 974.9,1649.6 977.0,1649.5 979.1,1649.4 981.2,1649.4 983.2,1649.3 985.3,1649.1 987.4,1649.0 989.5,1648.9 991.5,1648.7 993.6,1648.5 995.7,1648.3 997.8,1648.0 999.9,1647.8 1001.9,1647.5 1004.0,1647.1 1006.1,1646.7 1008.2,1646.3 1010.2,1645.9 1012.3,1645.3 1014.4,1644.8 1016.5,1644.1 1018.6,1643.4 1020.6,1642.7 1022.7,1641.8 1024.8,1640.9 1026.9,1639.9 1028.9,1638.9 1031.0,1637.7 1033.1,1636.4 1035.2,1635.1 1037.3,1633.6 1039.3,1632.0 1041.4,1630.4 1043.5,1628.6 1045.6,1626.7 1047.6,1624.7 1049.7,1622.5 1051.8,1620.3 1053.9,1617.9 1056.0,1615.4 1058.0,1612.8 1060.1,1610.1 1062.2,1607.3 1064.3,1604.3 1066.3,1601.3 1068.4,1598.2 1070.5,1594.9 1072.6,1591.6 1074.7,1588.3 1076.7,1584.8 1078.8,1581.4 1080.9,1577.8 1083.0,1574.3 1085.0,1570.8 1087.1,1567.2 1089.2,1563.7 1091.3,1560.2 1093.3,1556.8 1095.4,1553.4 1097.5,1550.1 1099.6,1546.9 1101.7,1543.9 1103.7,1541.0 1105.8,1538.2 1107.9,1535.6 1110.0,1533.1 1112.0,1530.9 1114.1,1528.9 1116.2,1527.1 1118.3,1525.5 1120.4,1524.2 1122.4,1523.1 1124.5,1522.2 1126.6,1521.7 1128.7,1521.4 1130.7,1521.3 1132.8,1521.5 1134.9,1522.0 1137.0,1522.8 1139.1,1523.8 1141.1,1525.0 1143.2,1526.5 1145.3,1528.3 1147.4,1530.2 1149.4,1532.4 1151.5,1534.7 1153.6,1537.3 1155.7,1540.0 1157.8,1542.9 1159.8,1545.9 1161.9,1549.1 1164.0,1552.3 1166.1,1555.6 1168.1,1559.1 1170.2,1562.5 1172.3,1566.0 1174.4,1569.6 1176.4,1573.1 1178.5,1576.7 1180.6,1580.2 1182.7,1583.7 1184.8,1587.1 1186.8,1590.5 1188.9,1593.8 1191.0,1597.1 1193.1,1600.3 1195.1,1603.3 1197.2,1606.3 1199.3,1609.2 1201.4,1611.9 1203.5,1614.6 1205.5,1617.1 1207.6,1619.5 1209.7,1621.8 1211.8,1624.0 1213.8,1626.0 1215.9,1628.0 1218.0,1629.8 1220.1,1631.5 1222.2,1633.1 1224.2,1634.6 1226.3,1636.0 1228.4,1637.3 1230.5,1638.5 1232.5,1639.6 1234.6,1640.6 1236.7,1641.5 1238.8,1642.4 1240.8,1643.2 1242.9,1643.9 1245.0,1644.6 1247.1,1645.1 1249.2,1645.7 1251.2,1646.2 1253.3,1646.6 1255.4,1647.0 1257.5,1647.4 1259.5,1647.7 1261.6,1648.0 1263.7,1648.2 1265.8,1648.4 1267.9,1648.6 1269.9,1648.8 1272.0,1649.0 1274.1,1649.1 1276.2,1649.2 1278.2,1649.3 1280.3,1649.4 1282.4,1649.5 1284.5,1649.6 1286.6,1649.6 1288.6,1649.7 1290.7,1649.7 1292.8,1649.8 1294.9,1649.8 1296.9,1649.8 1299.0,1649.9 1301.1,1649.9 1303.2,1649.9 1305.3,1649.9 1307.3,1649.9 1309.4,1649.9 1311.5,1650.0 1313.6,1650.0 1315.6,1650.0 1317.7,1650.0 1319.8,1650.0 1321.9,1650.0 1324.0,1650.0 1326.0,1650.0 1328.1,1650.0 1330.2,1650.0 1332.3,1650.0 1334.3,1650.0 1336.4,1650.0 1338.5,1650.0 1340.6,1650.0 1342.6,1650.0 1344.7,1650.0 1346.8,1650.0 1348.9,1650.0 1351.0,1650.0 1353.0,1650.0 1355.1,1650.0 1357.2,1650.0 1359.3,1650.0 1361.3,1650.0 1363.4,1650.0 1365.5,1650.0" fill="none" stroke="#fb800a" stroke-width="2.6" stroke-linejoin="miter" stroke-linecap="butt"/>
<rect x="944.4" y="1644.4" width="11.2" height="11.2" fill="#fb800a"/>
<rect x="962.5" y="1644.4" width="11.2" height="11.2" fill="#fb800a"/>
<rect x="980.7" y="1644.4" width="11.2" height="11.2" fill="#fb800a"/>
<rect x="998.8" y="1644.4" width="11.2" height="11.2" fill="#fb800a"/>
<rect x="1017.0" y="1641.3" width="11.2" height="11.2" fill="#fb800a"/>
<rect x="1035.1" y="1626.8" width="11.2" height="11.2" fill="#fb800a"/>
<rect x="1053.3" y="1605.3" width="11.2" height="11.2" fill="#fb800a"/>
<line x1="1077.0" y1="1574.6" x2="1077.0" y2="1560.7" stroke="#fb800a" stroke-width="2.4" stroke-linecap="butt"/>
<line x1="1071.0" y1="1560.7" x2="1083.0" y2="1560.7" stroke="#fb800a" stroke-width="2.4" stroke-linecap="butt"/>
<rect x="1071.4" y="1569.0" width="11.2" height="11.2" fill="#fb800a"/>
<line x1="1095.1" y1="1536.7" x2="1095.1" y2="1518.2" stroke="#fb800a" stroke-width="2.4" stroke-linecap="butt"/>
<line x1="1089.1" y1="1518.2" x2="1101.1" y2="1518.2" stroke="#fb800a" stroke-width="2.4" stroke-linecap="butt"/>
<rect x="1089.5" y="1531.1" width="11.2" height="11.2" fill="#fb800a"/>
<line x1="1113.3" y1="1523.8" x2="1113.3" y2="1502.2" stroke="#fb800a" stroke-width="2.4" stroke-linecap="butt"/>
<line x1="1107.3" y1="1502.2" x2="1119.3" y2="1502.2" stroke="#fb800a" stroke-width="2.4" stroke-linecap="butt"/>
<rect x="1107.7" y="1518.2" width="11.2" height="11.2" fill="#fb800a"/>
<line x1="1131.4" y1="1523.8" x2="1131.4" y2="1506.8" stroke="#fb800a" stroke-width="2.4" stroke-linecap="butt"/>
<line x1="1125.4" y1="1506.8" x2="1137.4" y2="1506.8" stroke="#fb800a" stroke-width="2.4" stroke-linecap="butt"/>
<rect x="1125.8" y="1518.2" width="11.2" height="11.2" fill="#fb800a"/>
<line x1="1149.6" y1="1534.5" x2="1149.6" y2="1506.8" stroke="#fb800a" stroke-width="2.4" stroke-linecap="butt"/>
<line x1="1143.6" y1="1506.8" x2="1155.6" y2="1506.8" stroke="#fb800a" stroke-width="2.4" stroke-linecap="butt"/>
<rect x="1144.0" y="1528.9" width="11.2" height="11.2" fill="#fb800a"/>
<line x1="1167.7" y1="1565.9" x2="1167.7" y2="1553.6" stroke="#fb800a" stroke-width="2.4" stroke-linecap="butt"/>
<line x1="1161.7" y1="1553.6" x2="1173.7" y2="1553.6" stroke="#fb800a" stroke-width="2.4" stroke-linecap="butt"/>
<rect x="1162.1" y="1560.3" width="11.2" height="11.2" fill="#fb800a"/>
<line x1="1185.9" y1="1584.7" x2="1185.9" y2="1572.4" stroke="#fb800a" stroke-width="2.4" stroke-linecap="butt"/>
<line x1="1179.9" y1="1572.4" x2="1191.9" y2="1572.4" stroke="#fb800a" stroke-width="2.4" stroke-linecap="butt"/>
<rect x="1180.3" y="1579.1" width="11.2" height="11.2" fill="#fb800a"/>
<line x1="1204.0" y1="1610.0" x2="1204.0" y2="1600.7" stroke="#fb800a" stroke-width="2.4" stroke-linecap="butt"/>
<line x1="1198.0" y1="1600.7" x2="1210.0" y2="1600.7" stroke="#fb800a" stroke-width="2.4" stroke-linecap="butt"/>
<rect x="1198.4" y="1604.4" width="11.2" height="11.2" fill="#fb800a"/>
<line x1="1222.2" y1="1620.7" x2="1222.2" y2="1613.1" stroke="#fb800a" stroke-width="2.4" stroke-linecap="butt"/>
<line x1="1216.2" y1="1613.1" x2="1228.2" y2="1613.1" stroke="#fb800a" stroke-width="2.4" stroke-linecap="butt"/>
<rect x="1216.6" y="1615.1" width="11.2" height="11.2" fill="#fb800a"/>
<line x1="1240.3" y1="1629.2" x2="1240.3" y2="1623.1" stroke="#fb800a" stroke-width="2.4" stroke-linecap="butt"/>
<line x1="1234.3" y1="1623.1" x2="1246.3" y2="1623.1" stroke="#fb800a" stroke-width="2.4" stroke-linecap="butt"/>
<rect x="1234.7" y="1623.6" width="11.2" height="11.2" fill="#fb800a"/>
<rect x="1252.8" y="1632.7" width="11.2" height="11.2" fill="#fb800a"/>
<rect x="1271.0" y="1637.5" width="11.2" height="11.2" fill="#fb800a"/>
<rect x="1289.1" y="1641.3" width="11.2" height="11.2" fill="#fb800a"/>
<rect x="1307.3" y="1642.9" width="11.2" height="11.2" fill="#fb800a"/>
<rect x="945.0" y="1645.0" width="10.1" height="10.1" fill="none" stroke="#fb800a" stroke-width="1.9"/>
<rect x="963.1" y="1645.0" width="10.1" height="10.1" fill="none" stroke="#fb800a" stroke-width="1.9"/>
<rect x="981.2" y="1645.0" width="10.1" height="10.1" fill="none" stroke="#fb800a" stroke-width="1.9"/>
<rect x="999.4" y="1644.2" width="10.1" height="10.1" fill="none" stroke="#fb800a" stroke-width="1.9"/>
<rect x="1017.5" y="1641.9" width="10.1" height="10.1" fill="none" stroke="#fb800a" stroke-width="1.9"/>
<line x1="1040.7" y1="1616.7" x2="1040.7" y2="1601.4" stroke="#fb800a" stroke-width="2.4" stroke-linecap="butt"/>
<line x1="1034.7" y1="1601.4" x2="1046.7" y2="1601.4" stroke="#fb800a" stroke-width="2.4" stroke-linecap="butt"/>
<rect x="1035.7" y="1611.7" width="10.1" height="10.1" fill="none" stroke="#fb800a" stroke-width="1.9"/>
<line x1="1058.9" y1="1557.6" x2="1058.9" y2="1529.9" stroke="#fb800a" stroke-width="2.4" stroke-linecap="butt"/>
<line x1="1052.9" y1="1529.9" x2="1064.9" y2="1529.9" stroke="#fb800a" stroke-width="2.4" stroke-linecap="butt"/>
<rect x="1053.8" y="1552.6" width="10.1" height="10.1" fill="none" stroke="#fb800a" stroke-width="1.9"/>
<line x1="1077.0" y1="1489.9" x2="1077.0" y2="1445.2" stroke="#fb800a" stroke-width="2.4" stroke-linecap="butt"/>
<line x1="1071.0" y1="1445.2" x2="1083.0" y2="1445.2" stroke="#fb800a" stroke-width="2.4" stroke-linecap="butt"/>
<rect x="1072.0" y="1484.8" width="10.1" height="10.1" fill="none" stroke="#fb800a" stroke-width="1.9"/>
<line x1="1095.1" y1="1454.5" x2="1095.1" y2="1400.6" stroke="#fb800a" stroke-width="2.4" stroke-linecap="butt"/>
<line x1="1089.1" y1="1400.6" x2="1101.1" y2="1400.6" stroke="#fb800a" stroke-width="2.4" stroke-linecap="butt"/>
<rect x="1090.1" y="1449.4" width="10.1" height="10.1" fill="none" stroke="#fb800a" stroke-width="1.9"/>
<line x1="1113.3" y1="1434.5" x2="1113.3" y2="1371.4" stroke="#fb800a" stroke-width="2.4" stroke-linecap="butt"/>
<line x1="1107.3" y1="1371.4" x2="1119.3" y2="1371.4" stroke="#fb800a" stroke-width="2.4" stroke-linecap="butt"/>
<rect x="1108.2" y="1429.4" width="10.1" height="10.1" fill="none" stroke="#fb800a" stroke-width="1.9"/>
<line x1="1131.4" y1="1463.7" x2="1131.4" y2="1411.4" stroke="#fb800a" stroke-width="2.4" stroke-linecap="butt"/>
<line x1="1125.4" y1="1411.4" x2="1137.4" y2="1411.4" stroke="#fb800a" stroke-width="2.4" stroke-linecap="butt"/>
<rect x="1126.4" y="1458.7" width="10.1" height="10.1" fill="none" stroke="#fb800a" stroke-width="1.9"/>
<line x1="1149.6" y1="1538.5" x2="1149.6" y2="1504.7" stroke="#fb800a" stroke-width="2.4" stroke-linecap="butt"/>
<line x1="1143.6" y1="1504.7" x2="1155.6" y2="1504.7" stroke="#fb800a" stroke-width="2.4" stroke-linecap="butt"/>
<rect x="1144.5" y="1533.5" width="10.1" height="10.1" fill="none" stroke="#fb800a" stroke-width="1.9"/>
<line x1="1167.7" y1="1578.4" x2="1167.7" y2="1553.8" stroke="#fb800a" stroke-width="2.4" stroke-linecap="butt"/>
<line x1="1161.7" y1="1553.8" x2="1173.7" y2="1553.8" stroke="#fb800a" stroke-width="2.4" stroke-linecap="butt"/>
<rect x="1162.7" y="1573.4" width="10.1" height="10.1" fill="none" stroke="#fb800a" stroke-width="1.9"/>
<line x1="1185.9" y1="1610.9" x2="1185.9" y2="1592.4" stroke="#fb800a" stroke-width="2.4" stroke-linecap="butt"/>
<line x1="1179.9" y1="1592.4" x2="1191.9" y2="1592.4" stroke="#fb800a" stroke-width="2.4" stroke-linecap="butt"/>
<rect x="1180.8" y="1605.8" width="10.1" height="10.1" fill="none" stroke="#fb800a" stroke-width="1.9"/>
<line x1="1204.0" y1="1629.2" x2="1204.0" y2="1616.9" stroke="#fb800a" stroke-width="2.4" stroke-linecap="butt"/>
<line x1="1198.0" y1="1616.9" x2="1210.0" y2="1616.9" stroke="#fb800a" stroke-width="2.4" stroke-linecap="butt"/>
<rect x="1199.0" y="1624.2" width="10.1" height="10.1" fill="none" stroke="#fb800a" stroke-width="1.9"/>
<rect x="1217.1" y="1634.2" width="10.1" height="10.1" fill="none" stroke="#fb800a" stroke-width="1.9"/>
<rect x="1235.2" y="1640.9" width="10.1" height="10.1" fill="none" stroke="#fb800a" stroke-width="1.9"/>
<rect x="1253.4" y="1643.4" width="10.1" height="10.1" fill="none" stroke="#fb800a" stroke-width="1.9"/>
<rect x="1271.5" y="1644.2" width="10.1" height="10.1" fill="none" stroke="#fb800a" stroke-width="1.9"/>
<rect x="1289.7" y="1644.2" width="10.1" height="10.1" fill="none" stroke="#fb800a" stroke-width="1.9"/>
<rect x="1307.8" y="1645.0" width="10.1" height="10.1" fill="none" stroke="#fb800a" stroke-width="1.9"/>
<circle cx="950.0" cy="1650.0" r="5.6" fill="#0000ff"/>
<circle cx="968.1" cy="1650.0" r="5.6" fill="#0000ff"/>
<circle cx="986.3" cy="1649.2" r="5.6" fill="#0000ff"/>
<line x1="1004.4" y1="1639.7" x2="1004.4" y2="1630.4" stroke="#0000ff" stroke-width="2.4" stroke-linecap="butt"/>
<line x1="998.4" y1="1639.7" x2="1010.4" y2="1639.7" stroke="#0000ff" stroke-width="2.4" stroke-linecap="butt"/>
<circle cx="1004.4" cy="1630.4" r="5.6" fill="#0000ff"/>
<line x1="1022.6" y1="1620.7" x2="1022.6" y2="1605.4" stroke="#0000ff" stroke-width="2.4" stroke-linecap="butt"/>
<line x1="1016.6" y1="1620.7" x2="1028.6" y2="1620.7" stroke="#0000ff" stroke-width="2.4" stroke-linecap="butt"/>
<circle cx="1022.6" cy="1605.4" r="5.6" fill="#0000ff"/>
<line x1="1040.7" y1="1603.8" x2="1040.7" y2="1588.4" stroke="#0000ff" stroke-width="2.4" stroke-linecap="butt"/>
<line x1="1034.7" y1="1603.8" x2="1046.7" y2="1603.8" stroke="#0000ff" stroke-width="2.4" stroke-linecap="butt"/>
<circle cx="1040.7" cy="1588.4" r="5.6" fill="#0000ff"/>
<line x1="1058.9" y1="1600.1" x2="1058.9" y2="1584.7" stroke="#0000ff" stroke-width="2.4" stroke-linecap="butt"/>
<line x1="1052.9" y1="1600.1" x2="1064.9" y2="1600.1" stroke="#0000ff" stroke-width="2.4" stroke-linecap="butt"/>
<circle cx="1058.9" cy="1584.7" r="5.6" fill="#0000ff"/>
<line x1="1077.0" y1="1598.1" x2="1077.0" y2="1582.7" stroke="#0000ff" stroke-width="2.4" stroke-linecap="butt"/>
<line x1="1071.0" y1="1598.1" x2="1083.0" y2="1598.1" stroke="#0000ff" stroke-width="2.4" stroke-linecap="butt"/>
<circle cx="1077.0" cy="1582.7" r="5.6" fill="#0000ff"/>
<line x1="1095.1" y1="1595.0" x2="1095.1" y2="1579.6" stroke="#0000ff" stroke-width="2.4" stroke-linecap="butt"/>
<line x1="1089.1" y1="1595.0" x2="1101.1" y2="1595.0" stroke="#0000ff" stroke-width="2.4" stroke-linecap="butt"/>
<circle cx="1095.1" cy="1579.6" r="5.6" fill="#0000ff"/>
<line x1="1113.3" y1="1597.0" x2="1113.3" y2="1581.6" stroke="#0000ff" stroke-width="2.4" stroke-linecap="butt"/>
<line x1="1107.3" y1="1597.0" x2="1119.3" y2="1597.0" stroke="#0000ff" stroke-width="2.4" stroke-linecap="butt"/>
<circle cx="1113.3" cy="1581.6" r="5.6" fill="#0000ff"/>
<line x1="1131.4" y1="1604.7" x2="1131.4" y2="1589.3" stroke="#0000ff" stroke-width="2.4" stroke-linecap="butt"/>
<line x1="1125.4" y1="1604.7" x2="1137.4" y2="1604.7" stroke="#0000ff" stroke-width="2.4" stroke-linecap="butt"/>
<circle cx="1131.4" cy="1589.3" r="5.6" fill="#0000ff"/>
<line x1="1149.6" y1="1617.7" x2="1149.6" y2="1608.4" stroke="#0000ff" stroke-width="2.4" stroke-linecap="butt"/>
<line x1="1143.6" y1="1617.7" x2="1155.6" y2="1617.7" stroke="#0000ff" stroke-width="2.4" stroke-linecap="butt"/>
<circle cx="1149.6" cy="1608.4" r="5.6" fill="#0000ff"/>
<circle cx="1167.7" cy="1620.7" r="5.6" fill="#0000ff"/>
<circle cx="1185.9" cy="1629.2" r="5.6" fill="#0000ff"/>
<circle cx="1204.0" cy="1639.4" r="5.6" fill="#0000ff"/>
<circle cx="1222.2" cy="1645.4" r="5.6" fill="#0000ff"/>
<circle cx="1240.3" cy="1648.5" r="5.6" fill="#0000ff"/>
<circle cx="1258.4" cy="1649.2" r="5.6" fill="#0000ff"/>
<circle cx="1276.6" cy="1650.0" r="5.6" fill="#0000ff"/>
<circle cx="1294.7" cy="1650.0" r="5.6" fill="#0000ff"/>
<circle cx="1312.9" cy="1650.0" r="5.6" fill="#0000ff"/>
<circle cx="950.0" cy="1650.0" r="5.0" fill="none" stroke="#0000ff" stroke-width="1.9"/>
<circle cx="968.1" cy="1650.0" r="5.0" fill="none" stroke="#0000ff" stroke-width="1.9"/>
<circle cx="986.3" cy="1648.5" r="5.0" fill="none" stroke="#0000ff" stroke-width="1.9"/>
<line x1="1004.4" y1="1636.9" x2="1004.4" y2="1624.6" stroke="#0000ff" stroke-width="2.4" stroke-linecap="butt"/>
<line x1="998.4" y1="1636.9" x2="1010.4" y2="1636.9" stroke="#0000ff" stroke-width="2.4" stroke-linecap="butt"/>
<circle cx="1004.4" cy="1624.6" r="5.0" fill="none" stroke="#0000ff" stroke-width="1.9"/>
<line x1="1022.6" y1="1622.3" x2="1022.6" y2="1597.7" stroke="#0000ff" stroke-width="2.4" stroke-linecap="butt"/>
<line x1="1016.6" y1="1622.3" x2="1028.6" y2="1622.3" stroke="#0000ff" stroke-width="2.4" stroke-linecap="butt"/>
<circle cx="1022.6" cy="1597.7" r="5.0" fill="none" stroke="#0000ff" stroke-width="1.9"/>
<line x1="1040.7" y1="1596.7" x2="1040.7" y2="1558.2" stroke="#0000ff" stroke-width="2.4" stroke-linecap="butt"/>
<line x1="1034.7" y1="1596.7" x2="1046.7" y2="1596.7" stroke="#0000ff" stroke-width="2.4" stroke-linecap="butt"/>
<circle cx="1040.7" cy="1558.2" r="5.0" fill="none" stroke="#0000ff" stroke-width="1.9"/>
<line x1="1058.9" y1="1559.8" x2="1058.9" y2="1529.0" stroke="#0000ff" stroke-width="2.4" stroke-linecap="butt"/>
<line x1="1052.9" y1="1559.8" x2="1064.9" y2="1559.8" stroke="#0000ff" stroke-width="2.4" stroke-linecap="butt"/>
<circle cx="1058.9" cy="1529.0" r="5.0" fill="none" stroke="#0000ff" stroke-width="1.9"/>
<line x1="1077.0" y1="1539.2" x2="1077.0" y2="1500.7" stroke="#0000ff" stroke-width="2.4" stroke-linecap="butt"/>
<line x1="1071.0" y1="1539.2" x2="1083.0" y2="1539.2" stroke="#0000ff" stroke-width="2.4" stroke-linecap="butt"/>
<circle cx="1077.0" cy="1500.7" r="5.0" fill="none" stroke="#0000ff" stroke-width="1.9"/>
<line x1="1095.1" y1="1543.8" x2="1095.1" y2="1497.6" stroke="#0000ff" stroke-width="2.4" stroke-linecap="butt"/>
<line x1="1089.1" y1="1543.8" x2="1101.1" y2="1543.8" stroke="#0000ff" stroke-width="2.4" stroke-linecap="butt"/>
<circle cx="1095.1" cy="1497.6" r="5.0" fill="none" stroke="#0000ff" stroke-width="1.9"/>
<line x1="1113.3" y1="1585.6" x2="1113.3" y2="1539.5" stroke="#0000ff" stroke-width="2.4" stroke-linecap="butt"/>
<line x1="1107.3" y1="1585.6" x2="1119.3" y2="1585.6" stroke="#0000ff" stroke-width="2.4" stroke-linecap="butt"/>
<circle cx="1113.3" cy="1539.5" r="5.0" fill="none" stroke="#0000ff" stroke-width="1.9"/>
<line x1="1131.4" y1="1600.7" x2="1131.4" y2="1588.4" stroke="#0000ff" stroke-width="2.4" stroke-linecap="butt"/>
<line x1="1125.4" y1="1600.7" x2="1137.4" y2="1600.7" stroke="#0000ff" stroke-width="2.4" stroke-linecap="butt"/>
<circle cx="1131.4" cy="1588.4" r="5.0" fill="none" stroke="#0000ff" stroke-width="1.9"/>
<line x1="1149.6" y1="1625.4" x2="1149.6" y2="1620.7" stroke="#0000ff" stroke-width="2.4" stroke-linecap="butt"/>
<line x1="1143.6" y1="1625.4" x2="1155.6" y2="1625.4" stroke="#0000ff" stroke-width="2.4" stroke-linecap="butt"/>
<circle cx="1149.6" cy="1620.7" r="5.0" fill="none" stroke="#0000ff" stroke-width="1.9"/>
<circle cx="1167.7" cy="1641.1" r="5.0" fill="none" stroke="#0000ff" stroke-width="1.9"/>
<circle cx="1185.9" cy="1647.2" r="5.0" fill="none" stroke="#0000ff" stroke-width="1.9"/>
<circle cx="1204.0" cy="1649.2" r="5.0" fill="none" stroke="#0000ff" stroke-width="1.9"/>
<circle cx="1222.2" cy="1650.0" r="5.0" fill="none" stroke="#0000ff" stroke-width="1.9"/>
<circle cx="1240.3" cy="1650.0" r="5.0" fill="none" stroke="#0000ff" stroke-width="1.9"/>
<circle cx="1258.4" cy="1650.0" r="5.0" fill="none" stroke="#0000ff" stroke-width="1.9"/>
<circle cx="1276.6" cy="1650.0" r="5.0" fill="none" stroke="#0000ff" stroke-width="1.9"/>
<circle cx="1294.7" cy="1650.0" r="5.0" fill="none" stroke="#0000ff" stroke-width="1.9"/>
<circle cx="1312.9" cy="1650.0" r="5.0" fill="none" stroke="#0000ff" stroke-width="1.9"/>
<line x1="1167.1" y1="1375.6" x2="1181.1" y2="1375.6" stroke="#0000ff" stroke-width="2.5" stroke-linecap="butt"/>
<circle cx="1174.1" cy="1375.6" r="5.0" fill="none" stroke="#0000ff" stroke-width="1.9"/>
<text x="1186.4" y="1383.9" font-size="26" font-weight="normal" text-anchor="start" fill="#000">CON-VEH</text>
<line x1="1167.1" y1="1411.1" x2="1181.1" y2="1411.1" stroke="#fb800a" stroke-width="2.5" stroke-linecap="butt"/>
<rect x="1169.0" y="1406.0" width="10.1" height="10.1" fill="none" stroke="#fb800a" stroke-width="1.9"/>
<text x="1186.4" y="1415.2" font-size="26" font-weight="normal" text-anchor="start" fill="#000">CON-VIT<tspan font-size="17.16" dy="7.7">D</tspan></text>
<line x1="1167.1" y1="1445.7" x2="1181.1" y2="1445.7" stroke="#0000ff" stroke-width="2.5" stroke-linecap="butt"/>
<circle cx="1174.1" cy="1445.7" r="5.2" fill="#0000ff"/>
<text x="1186.4" y="1454.8" font-size="26" font-weight="normal" text-anchor="start" fill="#000">POL-VEH</text>
<line x1="1167.1" y1="1482.0" x2="1181.1" y2="1482.0" stroke="#fb800a" stroke-width="2.5" stroke-linecap="butt"/>
<rect x="1169.1" y="1477.0" width="10.0" height="10.0" fill="#fb800a"/>
<text x="1186.4" y="1486.9" font-size="26" font-weight="normal" text-anchor="start" fill="#000">POL-VIT<tspan font-size="17.16" dy="7.7">D</tspan></text>
<polyline points="1306.0,1376.1 1320.0,1376.1 1320.0,1444.9 1303.5,1444.9" fill="none" stroke="#000" stroke-width="2.6" stroke-linejoin="miter" stroke-linecap="butt"/>
<polyline points="1308.4,1406.9 1337.3,1406.9 1337.3,1479.5 1308.4,1479.5" fill="none" stroke="#000" stroke-width="2.6" stroke-linejoin="miter" stroke-linecap="butt"/>
<polyline points="1320.0,1397.5 1348.0,1397.5 1348.0,1448.2 1338.1,1448.2" fill="none" stroke="#000" stroke-width="2.6" stroke-linejoin="miter" stroke-linecap="butt"/>
<text x="1349.3" y="1443.7" font-size="41" font-weight="normal" text-anchor="start" fill="#000">**</text>
<text x="858.0" y="1228.0" font-size="56" font-weight="bold" text-anchor="start" fill="#000">I</text>
<line x1="949.6" y1="1817.6" x2="949.6" y2="1901.4" stroke="#000" stroke-width="3.6" stroke-linecap="butt"/>
<line x1="947.8" y1="1899.6" x2="1344.2" y2="1899.6" stroke="#000" stroke-width="3.6" stroke-linecap="butt"/>
<line x1="949.6" y1="1899.6" x2="949.6" y2="1906.6" stroke="#000" stroke-width="3.6" stroke-linecap="butt"/>
<line x1="1006.3" y1="1899.6" x2="1006.3" y2="1906.6" stroke="#000" stroke-width="3.6" stroke-linecap="butt"/>
<line x1="1062.9" y1="1899.6" x2="1062.9" y2="1906.6" stroke="#000" stroke-width="3.6" stroke-linecap="butt"/>
<line x1="1118.8" y1="1899.6" x2="1118.8" y2="1906.6" stroke="#000" stroke-width="3.6" stroke-linecap="butt"/>
<line x1="1174.3" y1="1899.6" x2="1174.3" y2="1906.6" stroke="#000" stroke-width="3.6" stroke-linecap="butt"/>
<line x1="1230.9" y1="1899.6" x2="1230.9" y2="1906.6" stroke="#000" stroke-width="3.6" stroke-linecap="butt"/>
<line x1="1286.8" y1="1899.6" x2="1286.8" y2="1906.6" stroke="#000" stroke-width="3.6" stroke-linecap="butt"/>
<line x1="1343.0" y1="1899.6" x2="1343.0" y2="1906.6" stroke="#000" stroke-width="3.6" stroke-linecap="butt"/>
<line x1="942.6" y1="1830.2" x2="949.6" y2="1830.2" stroke="#000" stroke-width="3.6" stroke-linecap="butt"/>
<line x1="1033.6" y1="1830.2" x2="1041.4" y2="1830.2" stroke="#0000ff" stroke-width="2.8" stroke-linecap="butt"/>
<line x1="1041.4" y1="1826.2" x2="1041.4" y2="1834.2" stroke="#0000ff" stroke-width="2.8" stroke-linecap="round"/>
<rect x="952.8" y="1824.8" width="79.4" height="10.9" fill="#fff" stroke="#0000ff" stroke-width="2.8"/>
<text transform="translate(940.1 1835.8) scale(1.0 1)" font-size="17.3" font-weight="bold" text-anchor="end">CON-VEH</text>
<line x1="942.6" y1="1847.8" x2="949.6" y2="1847.8" stroke="#000" stroke-width="3.6" stroke-linecap="butt"/>
<line x1="1061.0" y1="1847.8" x2="1069.6" y2="1847.8" stroke="#fb800a" stroke-width="2.8" stroke-linecap="butt"/>
<line x1="1069.6" y1="1843.8" x2="1069.6" y2="1851.8" stroke="#fb800a" stroke-width="2.8" stroke-linecap="round"/>
<rect x="952.8" y="1842.4" width="106.8" height="10.9" fill="#fff" stroke="#fb800a" stroke-width="2.8"/>
<text transform="translate(940.1 1850.9) scale(1.0 1)" font-size="17.3" font-weight="bold" text-anchor="end">CON-VIT<tspan font-size="13.3" dy="5.3">D</tspan></text>
<line x1="942.6" y1="1866.0" x2="949.6" y2="1866.0" stroke="#000" stroke-width="3.6" stroke-linecap="butt"/>
<line x1="1044.6" y1="1866.0" x2="1052.4" y2="1866.0" stroke="#0000ff" stroke-width="2.8" stroke-linecap="butt"/>
<line x1="1052.4" y1="1862.0" x2="1052.4" y2="1870.0" stroke="#0000ff" stroke-width="2.8" stroke-linecap="round"/>
<rect x="951.4" y="1858.6" width="93.2" height="14.8" fill="#0000ff"/>
<text transform="translate(940.1 1871.5) scale(1.0 1)" font-size="17.3" font-weight="bold" text-anchor="end">POL-VEH</text>
<line x1="942.6" y1="1885.0" x2="949.6" y2="1885.0" stroke="#000" stroke-width="3.6" stroke-linecap="butt"/>
<line x1="1066.8" y1="1885.0" x2="1074.6" y2="1885.0" stroke="#fb800a" stroke-width="2.8" stroke-linecap="butt"/>
<line x1="1074.6" y1="1881.0" x2="1074.6" y2="1889.0" stroke="#fb800a" stroke-width="2.8" stroke-linecap="round"/>
<rect x="951.4" y="1877.4" width="115.4" height="15.2" fill="#fb800a"/>
<text transform="translate(940.1 1888.1) scale(1.0 1)" font-size="17.3" font-weight="bold" text-anchor="end">POL-VIT<tspan font-size="13.3" dy="5.3">D</tspan></text>
<polyline points="1049.3,1829.3 1096.1,1829.3 1096.1,1864.5 1076.6,1864.5" fill="none" stroke="#000" stroke-width="2.6" stroke-linejoin="miter" stroke-linecap="butt"/>
<polyline points="1075.8,1846.9 1109.0,1846.9 1109.0,1884.0 1082.5,1884.0" fill="none" stroke="#000" stroke-width="2.6" stroke-linejoin="miter" stroke-linecap="butt"/>
<polyline points="1096.1,1839.0 1150.8,1839.0 1150.8,1866.4 1109.0,1866.4" fill="none" stroke="#000" stroke-width="2.6" stroke-linejoin="miter" stroke-linecap="butt"/>
<text x="1155.0" y="1876.0" font-size="46" font-weight="normal" text-anchor="start" fill="#000">**</text>
<line x1="949.2" y1="1919.4" x2="949.2" y2="2234.6" stroke="#000" stroke-width="3.2" stroke-linecap="butt"/>
<line x1="947.6" y1="2233.0" x2="1371.2" y2="2233.0" stroke="#000" stroke-width="3.2" stroke-linecap="butt"/>
<line x1="943.2" y1="2233.0" x2="949.2" y2="2233.0" stroke="#000" stroke-width="3.2" stroke-linecap="butt"/>
<text x="942.9" y="2240.8" font-size="21.8" font-weight="bold" text-anchor="end" fill="#000">0</text>
<line x1="943.2" y1="2170.6" x2="949.2" y2="2170.6" stroke="#000" stroke-width="3.2" stroke-linecap="butt"/>
<text x="942.9" y="2178.4" font-size="21.8" font-weight="bold" text-anchor="end" fill="#000">20</text>
<line x1="943.2" y1="2108.2" x2="949.2" y2="2108.2" stroke="#000" stroke-width="3.2" stroke-linecap="butt"/>
<text x="942.9" y="2116.0" font-size="21.8" font-weight="bold" text-anchor="end" fill="#000">40</text>
<line x1="943.2" y1="2045.8" x2="949.2" y2="2045.8" stroke="#000" stroke-width="3.2" stroke-linecap="butt"/>
<text x="942.9" y="2053.6" font-size="21.8" font-weight="bold" text-anchor="end" fill="#000">60</text>
<line x1="943.2" y1="1983.4" x2="949.2" y2="1983.4" stroke="#000" stroke-width="3.2" stroke-linecap="butt"/>
<text x="942.9" y="1991.2" font-size="21.8" font-weight="bold" text-anchor="end" fill="#000">80</text>
<line x1="943.2" y1="1921.0" x2="949.2" y2="1921.0" stroke="#000" stroke-width="3.2" stroke-linecap="butt"/>
<text x="942.9" y="1928.8" font-size="21.8" font-weight="bold" text-anchor="end" fill="#000">100</text>
<line x1="948.9" y1="2233.0" x2="948.9" y2="2239.0" stroke="#000" stroke-width="3.2" stroke-linecap="butt"/>
<text x="948.9" y="2257.6" font-size="21.8" font-weight="bold" text-anchor="middle" fill="#000">0</text>
<line x1="1009.0" y1="2233.0" x2="1009.0" y2="2239.0" stroke="#000" stroke-width="3.2" stroke-linecap="butt"/>
<text x="1009.0" y="2257.6" font-size="21.8" font-weight="bold" text-anchor="middle" fill="#000">1</text>
<line x1="1069.1" y1="2233.0" x2="1069.1" y2="2239.0" stroke="#000" stroke-width="3.2" stroke-linecap="butt"/>
<text x="1069.1" y="2257.6" font-size="21.8" font-weight="bold" text-anchor="middle" fill="#000">2</text>
<line x1="1129.2" y1="2233.0" x2="1129.2" y2="2239.0" stroke="#000" stroke-width="3.2" stroke-linecap="butt"/>
<text x="1129.2" y="2257.6" font-size="21.8" font-weight="bold" text-anchor="middle" fill="#000">3</text>
<line x1="1189.3" y1="2233.0" x2="1189.3" y2="2239.0" stroke="#000" stroke-width="3.2" stroke-linecap="butt"/>
<text x="1189.3" y="2257.6" font-size="21.8" font-weight="bold" text-anchor="middle" fill="#000">4</text>
<line x1="1249.4" y1="2233.0" x2="1249.4" y2="2239.0" stroke="#000" stroke-width="3.2" stroke-linecap="butt"/>
<text x="1249.4" y="2257.6" font-size="21.8" font-weight="bold" text-anchor="middle" fill="#000">5</text>
<line x1="1309.5" y1="2233.0" x2="1309.5" y2="2239.0" stroke="#000" stroke-width="3.2" stroke-linecap="butt"/>
<text x="1309.5" y="2257.6" font-size="21.8" font-weight="bold" text-anchor="middle" fill="#000">6</text>
<line x1="1369.6" y1="2233.0" x2="1369.6" y2="2239.0" stroke="#000" stroke-width="3.2" stroke-linecap="butt"/>
<text x="1369.6" y="2257.6" font-size="21.8" font-weight="bold" text-anchor="middle" fill="#000">7</text>
<text x="898.1" y="2077.8" font-size="26.1" font-weight="bold" text-anchor="middle" transform="rotate(-90 898.1 2077.8)">Cell number per bin</text>
<text x="1159.7" y="2287.8" font-size="26.1" font-weight="bold" text-anchor="middle">Bins (mean gray value x 10<tspan font-size="16.2" dy="-9.9">3</tspan><tspan dy="9.9">)</tspan></text>
<polyline points="948.9,2231.2 951.0,2230.8 953.1,2230.4 955.2,2229.8 957.3,2229.1 959.4,2228.3 961.5,2227.4 963.6,2226.3 965.7,2225.0 967.8,2223.5 969.9,2221.8 972.0,2219.9 974.1,2217.7 976.2,2215.2 978.3,2212.4 980.5,2209.3 982.6,2205.8 984.7,2202.0 986.8,2197.8 988.9,2193.2 991.0,2188.1 993.1,2182.7 995.2,2176.9 997.3,2170.7 999.4,2164.1 1001.5,2157.1 1003.6,2149.8 1005.7,2142.3 1007.8,2134.4 1009.9,2126.5 1012.0,2118.3 1014.1,2110.2 1016.2,2102.0 1018.3,2093.9 1020.4,2086.0 1022.5,2078.3 1024.6,2071.0 1026.7,2064.1 1028.8,2057.7 1030.9,2051.9 1033.0,2046.7 1035.1,2042.2 1037.2,2038.6 1039.4,2035.7 1041.5,2033.7 1043.6,2032.6 1045.7,2032.4 1047.8,2033.1 1049.9,2034.7 1052.0,2037.2 1054.1,2040.6 1056.2,2044.7 1058.3,2049.6 1060.4,2055.1 1062.5,2061.3 1064.6,2068.0 1066.7,2075.1 1068.8,2082.7 1070.9,2090.5 1073.0,2098.5 1075.1,2106.6 1077.2,2114.8 1079.3,2123.0 1081.4,2131.0 1083.5,2138.9 1085.6,2146.6 1087.7,2154.0 1089.8,2161.1 1091.9,2167.9 1094.0,2174.3 1096.1,2180.3 1098.2,2185.9 1100.4,2191.1 1102.5,2195.9 1104.6,2200.2 1106.7,2204.2 1108.8,2207.9 1110.9,2211.1 1113.0,2214.1 1115.1,2216.7 1117.2,2219.0 1119.3,2221.0 1121.4,2222.8 1123.5,2224.4 1125.6,2225.7 1127.7,2226.9 1129.8,2227.9 1131.9,2228.8 1134.0,2229.5 1136.1,2230.1 1138.2,2230.6 1140.3,2231.1 1142.4,2231.4 1144.5,2231.7 1146.6,2232.0 1148.7,2232.2 1150.8,2232.3 1152.9,2232.5 1155.0,2232.6 1157.1,2232.7 1159.2,2232.7 1161.4,2232.8 1163.5,2232.8 1165.6,2232.9 1167.7,2232.9 1169.8,2232.9 1171.9,2232.9 1174.0,2233.0 1176.1,2233.0 1178.2,2233.0 1180.3,2233.0 1182.4,2233.0 1184.5,2233.0 1186.6,2233.0 1188.7,2233.0 1190.8,2233.0 1192.9,2233.0 1195.0,2233.0 1197.1,2233.0 1199.2,2233.0 1201.3,2233.0 1203.4,2233.0 1205.5,2233.0 1207.6,2233.0 1209.7,2233.0 1211.8,2233.0 1213.9,2233.0 1216.0,2233.0 1218.1,2233.0 1220.3,2233.0 1222.4,2233.0 1224.5,2233.0 1226.6,2233.0 1228.7,2233.0 1230.8,2233.0 1232.9,2233.0 1235.0,2233.0 1237.1,2233.0 1239.2,2233.0 1241.3,2233.0 1243.4,2233.0 1245.5,2233.0 1247.6,2233.0 1249.7,2233.0 1251.8,2233.0 1253.9,2233.0 1256.0,2233.0 1258.1,2233.0 1260.2,2233.0 1262.3,2233.0 1264.4,2233.0 1266.5,2233.0 1268.6,2233.0 1270.7,2233.0 1272.8,2233.0 1274.9,2233.0 1277.0,2233.0 1279.1,2233.0 1281.3,2233.0 1283.4,2233.0 1285.5,2233.0 1287.6,2233.0 1289.7,2233.0 1291.8,2233.0 1293.9,2233.0 1296.0,2233.0 1298.1,2233.0 1300.2,2233.0 1302.3,2233.0 1304.4,2233.0 1306.5,2233.0 1308.6,2233.0 1310.7,2233.0 1312.8,2233.0 1314.9,2233.0 1317.0,2233.0 1319.1,2233.0 1321.2,2233.0 1323.3,2233.0 1325.4,2233.0 1327.5,2233.0 1329.6,2233.0 1331.7,2233.0 1333.8,2233.0 1335.9,2233.0 1338.0,2233.0 1340.2,2233.0 1342.3,2233.0 1344.4,2233.0 1346.5,2233.0 1348.6,2233.0 1350.7,2233.0 1352.8,2233.0 1354.9,2233.0 1357.0,2233.0 1359.1,2233.0 1361.2,2233.0 1363.3,2233.0 1365.4,2233.0 1367.5,2233.0 1369.6,2233.0" fill="none" stroke="#0000ff" stroke-width="2.6" stroke-linejoin="miter" stroke-linecap="butt" stroke-dasharray="9 5"/>
<polyline points="948.9,2230.2 951.0,2229.8 953.1,2229.3 955.2,2228.8 957.3,2228.3 959.4,2227.6 961.5,2227.0 963.6,2226.2 965.7,2225.3 967.8,2224.4 969.9,2223.4 972.0,2222.2 974.1,2221.0 976.2,2219.7 978.3,2218.2 980.5,2216.6 982.6,2214.9 984.7,2213.0 986.8,2211.0 988.9,2208.8 991.0,2206.5 993.1,2204.1 995.2,2201.4 997.3,2198.6 999.4,2195.7 1001.5,2192.5 1003.6,2189.3 1005.7,2185.8 1007.8,2182.2 1009.9,2178.4 1012.0,2174.5 1014.1,2170.4 1016.2,2166.2 1018.3,2161.8 1020.4,2157.4 1022.5,2152.8 1024.6,2148.1 1026.7,2143.4 1028.8,2138.6 1030.9,2133.8 1033.0,2128.9 1035.1,2124.1 1037.2,2119.2 1039.4,2114.4 1041.5,2109.7 1043.6,2105.1 1045.7,2100.6 1047.8,2096.2 1049.9,2092.0 1052.0,2088.0 1054.1,2084.1 1056.2,2080.6 1058.3,2077.2 1060.4,2074.2 1062.5,2071.4 1064.6,2069.0 1066.7,2066.8 1068.8,2065.0 1070.9,2063.6 1073.0,2062.5 1075.1,2061.8 1077.2,2061.4 1079.3,2061.5 1081.4,2061.9 1083.5,2062.6 1085.6,2063.8 1087.7,2065.3 1089.8,2067.1 1091.9,2069.3 1094.0,2071.8 1096.1,2074.6 1098.2,2077.7 1100.4,2081.1 1102.5,2084.7 1104.6,2088.5 1106.7,2092.6 1108.8,2096.8 1110.9,2101.2 1113.0,2105.8 1115.1,2110.4 1117.2,2115.1 1119.3,2119.9 1121.4,2124.8 1123.5,2129.6 1125.6,2134.5 1127.7,2139.3 1129.8,2144.1 1131.9,2148.8 1134.0,2153.5 1136.1,2158.0 1138.2,2162.5 1140.3,2166.8 1142.4,2171.0 1144.5,2175.0 1146.6,2178.9 1148.7,2182.7 1150.8,2186.3 1152.9,2189.7 1155.0,2193.0 1157.1,2196.1 1159.2,2199.0 1161.4,2201.8 1163.5,2204.4 1165.6,2206.9 1167.7,2209.2 1169.8,2211.3 1171.9,2213.3 1174.0,2215.1 1176.1,2216.8 1178.2,2218.4 1180.3,2219.9 1182.4,2221.2 1184.5,2222.4 1186.6,2223.5 1188.7,2224.5 1190.8,2225.5 1192.9,2226.3 1195.0,2227.1 1197.1,2227.7 1199.2,2228.4 1201.3,2228.9 1203.4,2229.4 1205.5,2229.8 1207.6,2230.2 1209.7,2230.6 1211.8,2230.9 1213.9,2231.2 1216.0,2231.4 1218.1,2231.6 1220.3,2231.8 1222.4,2232.0 1224.5,2232.1 1226.6,2232.2 1228.7,2232.4 1230.8,2232.4 1232.9,2232.5 1235.0,2232.6 1237.1,2232.7 1239.2,2232.7 1241.3,2232.8 1243.4,2232.8 1245.5,2232.8 1247.6,2232.9 1249.7,2232.9 1251.8,2232.9 1253.9,2232.9 1256.0,2232.9 1258.1,2232.9 1260.2,2233.0 1262.3,2233.0 1264.4,2233.0 1266.5,2233.0 1268.6,2233.0 1270.7,2233.0 1272.8,2233.0 1274.9,2233.0 1277.0,2233.0 1279.1,2233.0 1281.3,2233.0 1283.4,2233.0 1285.5,2233.0 1287.6,2233.0 1289.7,2233.0 1291.8,2233.0 1293.9,2233.0 1296.0,2233.0 1298.1,2233.0 1300.2,2233.0 1302.3,2233.0 1304.4,2233.0 1306.5,2233.0 1308.6,2233.0 1310.7,2233.0 1312.8,2233.0 1314.9,2233.0 1317.0,2233.0 1319.1,2233.0 1321.2,2233.0 1323.3,2233.0 1325.4,2233.0 1327.5,2233.0 1329.6,2233.0 1331.7,2233.0 1333.8,2233.0 1335.9,2233.0 1338.0,2233.0 1340.2,2233.0 1342.3,2233.0 1344.4,2233.0 1346.5,2233.0 1348.6,2233.0 1350.7,2233.0 1352.8,2233.0 1354.9,2233.0 1357.0,2233.0 1359.1,2233.0 1361.2,2233.0 1363.3,2233.0 1365.4,2233.0 1367.5,2233.0 1369.6,2233.0" fill="none" stroke="#fb800a" stroke-width="2.6" stroke-linejoin="miter" stroke-linecap="butt" stroke-dasharray="9 5"/>
<polyline points="948.9,2229.3 951.0,2228.8 953.1,2228.1 955.2,2227.4 957.3,2226.6 959.4,2225.7 961.5,2224.7 963.6,2223.6 965.7,2222.4 967.8,2221.0 969.9,2219.5 972.0,2217.9 974.1,2216.2 976.2,2214.3 978.3,2212.2 980.5,2210.0 982.6,2207.6 984.7,2205.1 986.8,2202.5 988.9,2199.6 991.0,2196.7 993.1,2193.6 995.2,2190.3 997.3,2186.9 999.4,2183.4 1001.5,2179.9 1003.6,2176.2 1005.7,2172.4 1007.8,2168.7 1009.9,2164.9 1012.0,2161.0 1014.1,2157.2 1016.2,2153.5 1018.3,2149.8 1020.4,2146.2 1022.5,2142.8 1024.6,2139.5 1026.7,2136.4 1028.8,2133.5 1030.9,2130.8 1033.0,2128.3 1035.1,2126.2 1037.2,2124.3 1039.4,2122.7 1041.5,2121.5 1043.6,2120.5 1045.7,2120.0 1047.8,2119.7 1049.9,2119.9 1052.0,2120.3 1054.1,2121.2 1056.2,2122.3 1058.3,2123.8 1060.4,2125.6 1062.5,2127.7 1064.6,2130.0 1066.7,2132.7 1068.8,2135.5 1070.9,2138.6 1073.0,2141.8 1075.1,2145.2 1077.2,2148.8 1079.3,2152.4 1081.4,2156.2 1083.5,2160.0 1085.6,2163.8 1087.7,2167.6 1089.8,2171.4 1091.9,2175.1 1094.0,2178.8 1096.1,2182.4 1098.2,2185.9 1100.4,2189.4 1102.5,2192.6 1104.6,2195.8 1106.7,2198.8 1108.8,2201.7 1110.9,2204.4 1113.0,2206.9 1115.1,2209.3 1117.2,2211.6 1119.3,2213.7 1121.4,2215.6 1123.5,2217.4 1125.6,2219.1 1127.7,2220.6 1129.8,2222.0 1131.9,2223.2 1134.0,2224.4 1136.1,2225.4 1138.2,2226.3 1140.3,2227.2 1142.4,2227.9 1144.5,2228.6 1146.6,2229.2 1148.7,2229.7 1150.8,2230.2 1152.9,2230.6 1155.0,2230.9 1157.1,2231.2 1159.2,2231.5 1161.4,2231.7 1163.5,2231.9 1165.6,2232.1 1167.7,2232.2 1169.8,2232.4 1171.9,2232.5 1174.0,2232.6 1176.1,2232.6 1178.2,2232.7 1180.3,2232.7 1182.4,2232.8 1184.5,2232.8 1186.6,2232.9 1188.7,2232.9 1190.8,2232.9 1192.9,2232.9 1195.0,2232.9 1197.1,2233.0 1199.2,2233.0 1201.3,2233.0 1203.4,2233.0 1205.5,2233.0 1207.6,2233.0 1209.7,2233.0 1211.8,2233.0 1213.9,2233.0 1216.0,2233.0 1218.1,2233.0 1220.3,2233.0 1222.4,2233.0 1224.5,2233.0 1226.6,2233.0 1228.7,2233.0 1230.8,2233.0 1232.9,2233.0 1235.0,2233.0 1237.1,2233.0 1239.2,2233.0 1241.3,2233.0 1243.4,2233.0 1245.5,2233.0 1247.6,2233.0 1249.7,2233.0 1251.8,2233.0 1253.9,2233.0 1256.0,2233.0 1258.1,2233.0 1260.2,2233.0 1262.3,2233.0 1264.4,2233.0 1266.5,2233.0 1268.6,2233.0 1270.7,2233.0 1272.8,2233.0 1274.9,2233.0 1277.0,2233.0 1279.1,2233.0 1281.3,2233.0 1283.4,2233.0 1285.5,2233.0 1287.6,2233.0 1289.7,2233.0 1291.8,2233.0 1293.9,2233.0 1296.0,2233.0 1298.1,2233.0 1300.2,2233.0 1302.3,2233.0 1304.4,2233.0 1306.5,2233.0 1308.6,2233.0 1310.7,2233.0 1312.8,2233.0 1314.9,2233.0 1317.0,2233.0 1319.1,2233.0 1321.2,2233.0 1323.3,2233.0 1325.4,2233.0 1327.5,2233.0 1329.6,2233.0 1331.7,2233.0 1333.8,2233.0 1335.9,2233.0 1338.0,2233.0 1340.2,2233.0 1342.3,2233.0 1344.4,2233.0 1346.5,2233.0 1348.6,2233.0 1350.7,2233.0 1352.8,2233.0 1354.9,2233.0 1357.0,2233.0 1359.1,2233.0 1361.2,2233.0 1363.3,2233.0 1365.4,2233.0 1367.5,2233.0 1369.6,2233.0" fill="none" stroke="#0000ff" stroke-width="2.6" stroke-linejoin="miter" stroke-linecap="butt"/>
<polyline points="948.9,2226.8 951.0,2226.2 953.1,2225.4 955.2,2224.6 957.3,2223.8 959.4,2222.9 961.5,2221.9 963.6,2220.8 965.7,2219.7 967.8,2218.4 969.9,2217.1 972.0,2215.7 974.1,2214.2 976.2,2212.6 978.3,2210.9 980.5,2209.1 982.6,2207.2 984.7,2205.2 986.8,2203.1 988.9,2200.9 991.0,2198.6 993.1,2196.2 995.2,2193.7 997.3,2191.1 999.4,2188.4 1001.5,2185.6 1003.6,2182.7 1005.7,2179.8 1007.8,2176.7 1009.9,2173.6 1012.0,2170.5 1014.1,2167.3 1016.2,2164.0 1018.3,2160.7 1020.4,2157.4 1022.5,2154.0 1024.6,2150.7 1026.7,2147.3 1028.8,2144.0 1030.9,2140.7 1033.0,2137.4 1035.1,2134.3 1037.2,2131.1 1039.4,2128.1 1041.5,2125.2 1043.6,2122.3 1045.7,2119.6 1047.8,2117.0 1049.9,2114.6 1052.0,2112.3 1054.1,2110.2 1056.2,2108.3 1058.3,2106.6 1060.4,2105.1 1062.5,2103.7 1064.6,2102.6 1066.7,2101.7 1068.8,2101.1 1070.9,2100.6 1073.0,2100.4 1075.1,2100.4 1077.2,2100.7 1079.3,2101.2 1081.4,2101.9 1083.5,2102.8 1085.6,2103.9 1087.7,2105.3 1089.8,2106.8 1091.9,2108.6 1094.0,2110.5 1096.1,2112.7 1098.2,2115.0 1100.4,2117.4 1102.5,2120.0 1104.6,2122.7 1106.7,2125.6 1108.8,2128.5 1110.9,2131.6 1113.0,2134.7 1115.1,2137.9 1117.2,2141.2 1119.3,2144.5 1121.4,2147.8 1123.5,2151.1 1125.6,2154.5 1127.7,2157.8 1129.8,2161.2 1131.9,2164.5 1134.0,2167.7 1136.1,2170.9 1138.2,2174.1 1140.3,2177.2 1142.4,2180.2 1144.5,2183.2 1146.6,2186.0 1148.7,2188.8 1150.8,2191.5 1152.9,2194.1 1155.0,2196.6 1157.1,2198.9 1159.2,2201.2 1161.4,2203.4 1163.5,2205.5 1165.6,2207.5 1167.7,2209.4 1169.8,2211.1 1171.9,2212.8 1174.0,2214.4 1176.1,2215.9 1178.2,2217.3 1180.3,2218.6 1182.4,2219.8 1184.5,2221.0 1186.6,2222.0 1188.7,2223.0 1190.8,2223.9 1192.9,2224.8 1195.0,2225.5 1197.1,2226.3 1199.2,2226.9 1201.3,2227.5 1203.4,2228.1 1205.5,2228.6 1207.6,2229.0 1209.7,2229.4 1211.8,2229.8 1213.9,2230.2 1216.0,2230.5 1218.1,2230.8 1220.3,2231.0 1222.4,2231.2 1224.5,2231.4 1226.6,2231.6 1228.7,2231.8 1230.8,2231.9 1232.9,2232.1 1235.0,2232.2 1237.1,2232.3 1239.2,2232.4 1241.3,2232.5 1243.4,2232.5 1245.5,2232.6 1247.6,2232.6 1249.7,2232.7 1251.8,2232.7 1253.9,2232.8 1256.0,2232.8 1258.1,2232.8 1260.2,2232.9 1262.3,2232.9 1264.4,2232.9 1266.5,2232.9 1268.6,2232.9 1270.7,2232.9 1272.8,2232.9 1274.9,2233.0 1277.0,2233.0 1279.1,2233.0 1281.3,2233.0 1283.4,2233.0 1285.5,2233.0 1287.6,2233.0 1289.7,2233.0 1291.8,2233.0 1293.9,2233.0 1296.0,2233.0 1298.1,2233.0 1300.2,2233.0 1302.3,2233.0 1304.4,2233.0 1306.5,2233.0 1308.6,2233.0 1310.7,2233.0 1312.8,2233.0 1314.9,2233.0 1317.0,2233.0 1319.1,2233.0 1321.2,2233.0 1323.3,2233.0 1325.4,2233.0 1327.5,2233.0 1329.6,2233.0 1331.7,2233.0 1333.8,2233.0 1335.9,2233.0 1338.0,2233.0 1340.2,2233.0 1342.3,2233.0 1344.4,2233.0 1346.5,2233.0 1348.6,2233.0 1350.7,2233.0 1352.8,2233.0 1354.9,2233.0 1357.0,2233.0 1359.1,2233.0 1361.2,2233.0 1363.3,2233.0 1365.4,2233.0 1367.5,2233.0 1369.6,2233.0" fill="none" stroke="#fb800a" stroke-width="2.6" stroke-linejoin="miter" stroke-linecap="butt"/>
<rect x="943.3" y="2227.4" width="11.2" height="11.2" fill="#fb800a"/>
<rect x="963.0" y="2227.4" width="11.2" height="11.2" fill="#fb800a"/>
<rect x="982.7" y="2211.8" width="11.2" height="11.2" fill="#fb800a"/>
<line x1="1007.9" y1="2178.7" x2="1007.9" y2="2166.5" stroke="#fb800a" stroke-width="2.4" stroke-linecap="butt"/>
<line x1="1001.9" y1="2178.7" x2="1013.9" y2="2178.7" stroke="#fb800a" stroke-width="2.4" stroke-linecap="butt"/>
<rect x="1002.3" y="2160.9" width="11.2" height="11.2" fill="#fb800a"/>
<rect x="1022.0" y="2106.3" width="11.2" height="11.2" fill="#fb800a"/>
<rect x="1041.7" y="2094.5" width="11.2" height="11.2" fill="#fb800a"/>
<rect x="1061.4" y="2097.6" width="11.2" height="11.2" fill="#fb800a"/>
<line x1="1086.7" y1="2133.2" x2="1086.7" y2="2116.0" stroke="#fb800a" stroke-width="2.4" stroke-linecap="butt"/>
<line x1="1080.7" y1="2133.2" x2="1092.7" y2="2133.2" stroke="#fb800a" stroke-width="2.4" stroke-linecap="butt"/>
<rect x="1081.1" y="2110.4" width="11.2" height="11.2" fill="#fb800a"/>
<line x1="1106.4" y1="2152.8" x2="1106.4" y2="2138.8" stroke="#fb800a" stroke-width="2.4" stroke-linecap="butt"/>
<line x1="1100.4" y1="2152.8" x2="1112.4" y2="2152.8" stroke="#fb800a" stroke-width="2.4" stroke-linecap="butt"/>
<rect x="1100.8" y="2133.2" width="11.2" height="11.2" fill="#fb800a"/>
<line x1="1126.0" y1="2173.1" x2="1126.0" y2="2159.1" stroke="#fb800a" stroke-width="2.4" stroke-linecap="butt"/>
<line x1="1120.0" y1="2173.1" x2="1132.0" y2="2173.1" stroke="#fb800a" stroke-width="2.4" stroke-linecap="butt"/>
<rect x="1120.4" y="2153.5" width="11.2" height="11.2" fill="#fb800a"/>
<line x1="1145.7" y1="2182.5" x2="1145.7" y2="2170.0" stroke="#fb800a" stroke-width="2.4" stroke-linecap="butt"/>
<line x1="1139.7" y1="2182.5" x2="1151.7" y2="2182.5" stroke="#fb800a" stroke-width="2.4" stroke-linecap="butt"/>
<rect x="1140.1" y="2164.4" width="11.2" height="11.2" fill="#fb800a"/>
<rect x="1159.8" y="2182.5" width="11.2" height="11.2" fill="#fb800a"/>
<rect x="1179.5" y="2194.3" width="11.2" height="11.2" fill="#fb800a"/>
<rect x="1199.2" y="2206.2" width="11.2" height="11.2" fill="#fb800a"/>
<rect x="1218.9" y="2212.7" width="11.2" height="11.2" fill="#fb800a"/>
<rect x="1238.5" y="2217.1" width="11.2" height="11.2" fill="#fb800a"/>
<rect x="1258.2" y="2219.6" width="11.2" height="11.2" fill="#fb800a"/>
<rect x="1277.9" y="2222.7" width="11.2" height="11.2" fill="#fb800a"/>
<rect x="1297.6" y="2222.7" width="11.2" height="11.2" fill="#fb800a"/>
<rect x="1317.3" y="2224.3" width="11.2" height="11.2" fill="#fb800a"/>
<rect x="1337.0" y="2224.3" width="11.2" height="11.2" fill="#fb800a"/>
<rect x="943.9" y="2227.9" width="10.1" height="10.1" fill="none" stroke="#fb800a" stroke-width="1.9"/>
<rect x="963.5" y="2227.9" width="10.1" height="10.1" fill="none" stroke="#fb800a" stroke-width="1.9"/>
<rect x="983.2" y="2203.3" width="10.1" height="10.1" fill="none" stroke="#fb800a" stroke-width="1.9"/>
<line x1="1007.9" y1="2148.4" x2="1007.9" y2="2131.3" stroke="#fb800a" stroke-width="2.4" stroke-linecap="butt"/>
<line x1="1001.9" y1="2131.3" x2="1013.9" y2="2131.3" stroke="#fb800a" stroke-width="2.4" stroke-linecap="butt"/>
<rect x="1002.9" y="2143.4" width="10.1" height="10.1" fill="none" stroke="#fb800a" stroke-width="1.9"/>
<line x1="1027.6" y1="2134.4" x2="1027.6" y2="2118.8" stroke="#fb800a" stroke-width="2.4" stroke-linecap="butt"/>
<line x1="1021.6" y1="2118.8" x2="1033.6" y2="2118.8" stroke="#fb800a" stroke-width="2.4" stroke-linecap="butt"/>
<rect x="1022.6" y="2129.4" width="10.1" height="10.1" fill="none" stroke="#fb800a" stroke-width="1.9"/>
<line x1="1047.3" y1="2074.2" x2="1047.3" y2="2046.1" stroke="#fb800a" stroke-width="2.4" stroke-linecap="butt"/>
<line x1="1041.3" y1="2046.1" x2="1053.3" y2="2046.1" stroke="#fb800a" stroke-width="2.4" stroke-linecap="butt"/>
<rect x="1042.3" y="2069.1" width="10.1" height="10.1" fill="none" stroke="#fb800a" stroke-width="1.9"/>
<line x1="1067.0" y1="2063.3" x2="1067.0" y2="2028.0" stroke="#fb800a" stroke-width="2.4" stroke-linecap="butt"/>
<line x1="1061.0" y1="2028.0" x2="1073.0" y2="2028.0" stroke="#fb800a" stroke-width="2.4" stroke-linecap="butt"/>
<rect x="1061.9" y="2058.2" width="10.1" height="10.1" fill="none" stroke="#fb800a" stroke-width="1.9"/>
<line x1="1086.7" y1="2069.8" x2="1086.7" y2="2033.3" stroke="#fb800a" stroke-width="2.4" stroke-linecap="butt"/>
<line x1="1080.7" y1="2033.3" x2="1092.7" y2="2033.3" stroke="#fb800a" stroke-width="2.4" stroke-linecap="butt"/>
<rect x="1081.6" y="2064.8" width="10.1" height="10.1" fill="none" stroke="#fb800a" stroke-width="1.9"/>
<line x1="1106.4" y1="2077.3" x2="1106.4" y2="2037.7" stroke="#fb800a" stroke-width="2.4" stroke-linecap="butt"/>
<line x1="1100.4" y1="2037.7" x2="1112.4" y2="2037.7" stroke="#fb800a" stroke-width="2.4" stroke-linecap="butt"/>
<rect x="1101.3" y="2072.3" width="10.1" height="10.1" fill="none" stroke="#fb800a" stroke-width="1.9"/>
<line x1="1126.0" y1="2137.5" x2="1126.0" y2="2114.1" stroke="#fb800a" stroke-width="2.4" stroke-linecap="butt"/>
<line x1="1120.0" y1="2114.1" x2="1132.0" y2="2114.1" stroke="#fb800a" stroke-width="2.4" stroke-linecap="butt"/>
<rect x="1121.0" y="2132.5" width="10.1" height="10.1" fill="none" stroke="#fb800a" stroke-width="1.9"/>
<line x1="1145.7" y1="2165.6" x2="1145.7" y2="2139.7" stroke="#fb800a" stroke-width="2.4" stroke-linecap="butt"/>
<line x1="1139.7" y1="2139.7" x2="1151.7" y2="2139.7" stroke="#fb800a" stroke-width="2.4" stroke-linecap="butt"/>
<rect x="1140.7" y="2160.6" width="10.1" height="10.1" fill="none" stroke="#fb800a" stroke-width="1.9"/>
<line x1="1165.4" y1="2188.7" x2="1165.4" y2="2166.9" stroke="#fb800a" stroke-width="2.4" stroke-linecap="butt"/>
<line x1="1159.4" y1="2166.9" x2="1171.4" y2="2166.9" stroke="#fb800a" stroke-width="2.4" stroke-linecap="butt"/>
<rect x="1160.4" y="2183.6" width="10.1" height="10.1" fill="none" stroke="#fb800a" stroke-width="1.9"/>
<line x1="1185.1" y1="2195.6" x2="1185.1" y2="2175.3" stroke="#fb800a" stroke-width="2.4" stroke-linecap="butt"/>
<line x1="1179.1" y1="2175.3" x2="1191.1" y2="2175.3" stroke="#fb800a" stroke-width="2.4" stroke-linecap="butt"/>
<rect x="1180.0" y="2190.5" width="10.1" height="10.1" fill="none" stroke="#fb800a" stroke-width="1.9"/>
<line x1="1204.8" y1="2211.8" x2="1204.8" y2="2194.6" stroke="#fb800a" stroke-width="2.4" stroke-linecap="butt"/>
<line x1="1198.8" y1="2194.6" x2="1210.8" y2="2194.6" stroke="#fb800a" stroke-width="2.4" stroke-linecap="butt"/>
<rect x="1199.7" y="2206.7" width="10.1" height="10.1" fill="none" stroke="#fb800a" stroke-width="1.9"/>
<line x1="1224.5" y1="2214.9" x2="1224.5" y2="2200.9" stroke="#fb800a" stroke-width="2.4" stroke-linecap="butt"/>
<line x1="1218.5" y1="2200.9" x2="1230.5" y2="2200.9" stroke="#fb800a" stroke-width="2.4" stroke-linecap="butt"/>
<rect x="1219.4" y="2209.9" width="10.1" height="10.1" fill="none" stroke="#fb800a" stroke-width="1.9"/>
<line x1="1244.1" y1="2222.7" x2="1244.1" y2="2214.9" stroke="#fb800a" stroke-width="2.4" stroke-linecap="butt"/>
<line x1="1238.1" y1="2214.9" x2="1250.1" y2="2214.9" stroke="#fb800a" stroke-width="2.4" stroke-linecap="butt"/>
<rect x="1239.1" y="2217.7" width="10.1" height="10.1" fill="none" stroke="#fb800a" stroke-width="1.9"/>
<rect x="1258.8" y="2220.1" width="10.1" height="10.1" fill="none" stroke="#fb800a" stroke-width="1.9"/>
<rect x="1278.5" y="2221.7" width="10.1" height="10.1" fill="none" stroke="#fb800a" stroke-width="1.9"/>
<rect x="1298.1" y="2223.3" width="10.1" height="10.1" fill="none" stroke="#fb800a" stroke-width="1.9"/>
<rect x="1317.8" y="2223.3" width="10.1" height="10.1" fill="none" stroke="#fb800a" stroke-width="1.9"/>
<rect x="1337.5" y="2223.3" width="10.1" height="10.1" fill="none" stroke="#fb800a" stroke-width="1.9"/>
<circle cx="948.9" cy="2233.0" r="5.6" fill="#0000ff"/>
<circle cx="968.6" cy="2233.0" r="5.6" fill="#0000ff"/>
<circle cx="988.3" cy="2205.5" r="5.6" fill="#0000ff"/>
<line x1="1007.9" y1="2170.9" x2="1007.9" y2="2149.4" stroke="#0000ff" stroke-width="2.4" stroke-linecap="butt"/>
<line x1="1001.9" y1="2170.9" x2="1013.9" y2="2170.9" stroke="#0000ff" stroke-width="2.4" stroke-linecap="butt"/>
<circle cx="1007.9" cy="2149.4" r="5.6" fill="#0000ff"/>
<line x1="1027.6" y1="2145.3" x2="1027.6" y2="2116.0" stroke="#0000ff" stroke-width="2.4" stroke-linecap="butt"/>
<line x1="1021.6" y1="2145.3" x2="1033.6" y2="2145.3" stroke="#0000ff" stroke-width="2.4" stroke-linecap="butt"/>
<circle cx="1027.6" cy="2116.0" r="5.6" fill="#0000ff"/>
<line x1="1047.3" y1="2139.7" x2="1047.3" y2="2120.7" stroke="#0000ff" stroke-width="2.4" stroke-linecap="butt"/>
<line x1="1041.3" y1="2139.7" x2="1053.3" y2="2139.7" stroke="#0000ff" stroke-width="2.4" stroke-linecap="butt"/>
<circle cx="1047.3" cy="2120.7" r="5.6" fill="#0000ff"/>
<line x1="1067.0" y1="2153.8" x2="1067.0" y2="2138.8" stroke="#0000ff" stroke-width="2.4" stroke-linecap="butt"/>
<line x1="1061.0" y1="2153.8" x2="1073.0" y2="2153.8" stroke="#0000ff" stroke-width="2.4" stroke-linecap="butt"/>
<circle cx="1067.0" cy="2138.8" r="5.6" fill="#0000ff"/>
<line x1="1086.7" y1="2187.1" x2="1086.7" y2="2174.3" stroke="#0000ff" stroke-width="2.4" stroke-linecap="butt"/>
<line x1="1080.7" y1="2187.1" x2="1092.7" y2="2187.1" stroke="#0000ff" stroke-width="2.4" stroke-linecap="butt"/>
<circle cx="1086.7" cy="2174.3" r="5.6" fill="#0000ff"/>
<line x1="1106.4" y1="2183.1" x2="1106.4" y2="2172.2" stroke="#0000ff" stroke-width="2.4" stroke-linecap="butt"/>
<line x1="1100.4" y1="2172.2" x2="1112.4" y2="2172.2" stroke="#0000ff" stroke-width="2.4" stroke-linecap="butt"/>
<circle cx="1106.4" cy="2183.1" r="5.6" fill="#0000ff"/>
<circle cx="1126.0" cy="2200.9" r="5.6" fill="#0000ff"/>
<line x1="1145.7" y1="2211.8" x2="1145.7" y2="2201.8" stroke="#0000ff" stroke-width="2.4" stroke-linecap="butt"/>
<line x1="1139.7" y1="2211.8" x2="1151.7" y2="2211.8" stroke="#0000ff" stroke-width="2.4" stroke-linecap="butt"/>
<circle cx="1145.7" cy="2201.8" r="5.6" fill="#0000ff"/>
<circle cx="1165.4" cy="2220.5" r="5.6" fill="#0000ff"/>
<circle cx="1185.1" cy="2224.3" r="5.6" fill="#0000ff"/>
<circle cx="1204.8" cy="2228.0" r="5.6" fill="#0000ff"/>
<circle cx="1224.5" cy="2231.4" r="5.6" fill="#0000ff"/>
<circle cx="1244.1" cy="2232.1" r="5.6" fill="#0000ff"/>
<circle cx="1263.8" cy="2233.0" r="5.6" fill="#0000ff"/>
<circle cx="1283.5" cy="2233.0" r="5.6" fill="#0000ff"/>
<circle cx="1303.2" cy="2233.0" r="5.6" fill="#0000ff"/>
<circle cx="1322.9" cy="2233.0" r="5.6" fill="#0000ff"/>
<circle cx="1342.6" cy="2233.0" r="5.6" fill="#0000ff"/>
<circle cx="948.9" cy="2233.0" r="5.0" fill="none" stroke="#0000ff" stroke-width="1.9"/>
<circle cx="968.6" cy="2233.0" r="5.0" fill="none" stroke="#0000ff" stroke-width="1.9"/>
<circle cx="988.3" cy="2197.7" r="5.0" fill="none" stroke="#0000ff" stroke-width="1.9"/>
<line x1="1007.9" y1="2123.2" x2="1007.9" y2="2107.6" stroke="#0000ff" stroke-width="2.4" stroke-linecap="butt"/>
<line x1="1001.9" y1="2107.6" x2="1013.9" y2="2107.6" stroke="#0000ff" stroke-width="2.4" stroke-linecap="butt"/>
<circle cx="1007.9" cy="2123.2" r="5.0" fill="none" stroke="#0000ff" stroke-width="1.9"/>
<line x1="1027.6" y1="2046.1" x2="1027.6" y2="2020.5" stroke="#0000ff" stroke-width="2.4" stroke-linecap="butt"/>
<line x1="1021.6" y1="2020.5" x2="1033.6" y2="2020.5" stroke="#0000ff" stroke-width="2.4" stroke-linecap="butt"/>
<circle cx="1027.6" cy="2046.1" r="5.0" fill="none" stroke="#0000ff" stroke-width="1.9"/>
<line x1="1047.3" y1="2029.0" x2="1047.3" y2="2002.1" stroke="#0000ff" stroke-width="2.4" stroke-linecap="butt"/>
<line x1="1041.3" y1="2002.1" x2="1053.3" y2="2002.1" stroke="#0000ff" stroke-width="2.4" stroke-linecap="butt"/>
<circle cx="1047.3" cy="2029.0" r="5.0" fill="none" stroke="#0000ff" stroke-width="1.9"/>
<line x1="1067.0" y1="2099.5" x2="1067.0" y2="2079.5" stroke="#0000ff" stroke-width="2.4" stroke-linecap="butt"/>
<line x1="1061.0" y1="2079.5" x2="1073.0" y2="2079.5" stroke="#0000ff" stroke-width="2.4" stroke-linecap="butt"/>
<circle cx="1067.0" cy="2099.5" r="5.0" fill="none" stroke="#0000ff" stroke-width="1.9"/>
<line x1="1086.7" y1="2146.6" x2="1086.7" y2="2131.3" stroke="#0000ff" stroke-width="2.4" stroke-linecap="butt"/>
<line x1="1080.7" y1="2131.3" x2="1092.7" y2="2131.3" stroke="#0000ff" stroke-width="2.4" stroke-linecap="butt"/>
<circle cx="1086.7" cy="2146.6" r="5.0" fill="none" stroke="#0000ff" stroke-width="1.9"/>
<circle cx="1106.4" cy="2208.7" r="5.0" fill="none" stroke="#0000ff" stroke-width="1.9"/>
<circle cx="1126.0" cy="2211.8" r="5.0" fill="none" stroke="#0000ff" stroke-width="1.9"/>
<circle cx="1145.7" cy="2224.6" r="5.0" fill="none" stroke="#0000ff" stroke-width="1.9"/>
<circle cx="1165.4" cy="2228.0" r="5.0" fill="none" stroke="#0000ff" stroke-width="1.9"/>
<circle cx="1185.1" cy="2230.8" r="5.0" fill="none" stroke="#0000ff" stroke-width="1.9"/>
<circle cx="1204.8" cy="2232.1" r="5.0" fill="none" stroke="#0000ff" stroke-width="1.9"/>
<circle cx="1224.5" cy="2233.0" r="5.0" fill="none" stroke="#0000ff" stroke-width="1.9"/>
<circle cx="1244.1" cy="2233.0" r="5.0" fill="none" stroke="#0000ff" stroke-width="1.9"/>
<circle cx="1263.8" cy="2233.0" r="5.0" fill="none" stroke="#0000ff" stroke-width="1.9"/>
<circle cx="1283.5" cy="2233.0" r="5.0" fill="none" stroke="#0000ff" stroke-width="1.9"/>
<circle cx="1303.2" cy="2233.0" r="5.0" fill="none" stroke="#0000ff" stroke-width="1.9"/>
<circle cx="1322.9" cy="2233.0" r="5.0" fill="none" stroke="#0000ff" stroke-width="1.9"/>
<circle cx="1342.6" cy="2233.0" r="5.0" fill="none" stroke="#0000ff" stroke-width="1.9"/>
<line x1="1136.6" y1="1940.6" x2="1150.6" y2="1940.6" stroke="#0000ff" stroke-width="2.5" stroke-linecap="butt"/>
<circle cx="1143.6" cy="1940.6" r="5.0" fill="none" stroke="#0000ff" stroke-width="1.9"/>
<text x="1156.4" y="1948.9" font-size="25.8" font-weight="normal" text-anchor="start" fill="#000">CON-VEH</text>
<line x1="1136.6" y1="1975.2" x2="1150.6" y2="1975.2" stroke="#fb800a" stroke-width="2.5" stroke-linecap="butt"/>
<rect x="1138.5" y="1970.2" width="10.1" height="10.1" fill="none" stroke="#fb800a" stroke-width="1.9"/>
<text x="1156.4" y="1979.4" font-size="25.8" font-weight="normal" text-anchor="start" fill="#000">CON-VIT<tspan font-size="17.028000000000002" dy="7.7">D</tspan></text>
<line x1="1136.6" y1="2009.0" x2="1150.6" y2="2009.0" stroke="#0000ff" stroke-width="2.5" stroke-linecap="butt"/>
<circle cx="1143.6" cy="2009.0" r="5.2" fill="#0000ff"/>
<text x="1156.4" y="2017.3" font-size="25.8" font-weight="normal" text-anchor="start" fill="#000">POL-VEH</text>
<line x1="1136.6" y1="2043.7" x2="1150.6" y2="2043.7" stroke="#fb800a" stroke-width="2.5" stroke-linecap="butt"/>
<rect x="1138.6" y="2038.7" width="10.0" height="10.0" fill="#fb800a"/>
<text x="1156.4" y="2047.8" font-size="25.8" font-weight="normal" text-anchor="start" fill="#000">POL-VIT<tspan font-size="17.028000000000002" dy="7.7">D</tspan></text>
<polyline points="1274.3,1939.0 1288.3,1939.0 1288.3,2008.2 1271.9,2008.2" fill="none" stroke="#000" stroke-width="2.6" stroke-linejoin="miter" stroke-linecap="butt"/>
<polyline points="1276.8,1969.5 1305.6,1969.5 1305.6,2042.8 1276.8,2042.8" fill="none" stroke="#000" stroke-width="2.6" stroke-linejoin="miter" stroke-linecap="butt"/>
<polyline points="1288.3,1960.4 1316.4,1960.4 1316.4,2010.4 1306.5,2010.4" fill="none" stroke="#000" stroke-width="2.6" stroke-linejoin="miter" stroke-linecap="butt"/>
<text x="1317.7" y="2007.1" font-size="41" font-weight="normal" text-anchor="start" fill="#000">**</text>
<text x="858.0" y="1794.0" font-size="56" font-weight="bold" text-anchor="start" fill="#000">L</text>
</svg>
</body></html>
